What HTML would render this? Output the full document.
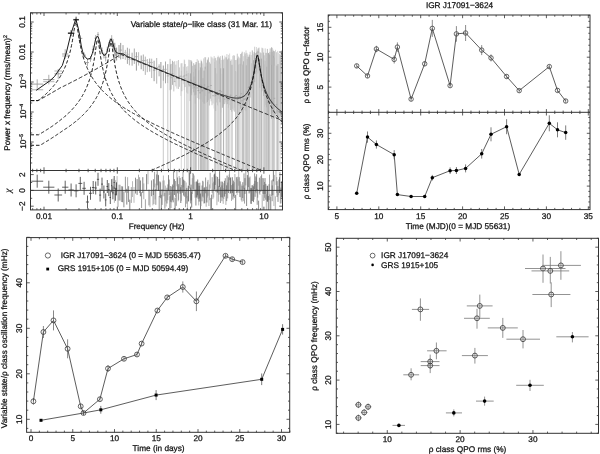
<!DOCTYPE html>
<html><head><meta charset="utf-8"><style>
html,body{margin:0;padding:0;background:#fff;}
svg{display:block;}
svg{will-change:transform;}
text{font-family:"Liberation Sans",sans-serif;dominant-baseline:central;text-rendering:geometricPrecision;stroke:#111;stroke-width:0.25px;}
</style></head><body>
<svg width="600" height="454" viewBox="0 0 600 454" font-family="Liberation Sans, sans-serif">
<rect width="600" height="454" fill="#fff"/>
<rect x="328.20" y="15.00" width="261.80" height="194.60" fill="none" stroke="#333" stroke-width="1"/>
<line x1="328.20" y1="112.30" x2="590.00" y2="112.30" stroke="#333" stroke-width="1" />
<line x1="328.52" y1="209.60" x2="328.52" y2="207.90" stroke="#333" stroke-width="0.8" />
<line x1="328.52" y1="15.00" x2="328.52" y2="16.70" stroke="#333" stroke-width="0.8" />
<line x1="336.90" y1="209.60" x2="336.90" y2="206.40" stroke="#333" stroke-width="0.8" />
<line x1="336.90" y1="15.00" x2="336.90" y2="18.20" stroke="#333" stroke-width="0.8" />
<line x1="345.28" y1="209.60" x2="345.28" y2="207.90" stroke="#333" stroke-width="0.8" />
<line x1="345.28" y1="15.00" x2="345.28" y2="16.70" stroke="#333" stroke-width="0.8" />
<line x1="353.66" y1="209.60" x2="353.66" y2="207.90" stroke="#333" stroke-width="0.8" />
<line x1="353.66" y1="15.00" x2="353.66" y2="16.70" stroke="#333" stroke-width="0.8" />
<line x1="362.04" y1="209.60" x2="362.04" y2="207.90" stroke="#333" stroke-width="0.8" />
<line x1="362.04" y1="15.00" x2="362.04" y2="16.70" stroke="#333" stroke-width="0.8" />
<line x1="370.42" y1="209.60" x2="370.42" y2="207.90" stroke="#333" stroke-width="0.8" />
<line x1="370.42" y1="15.00" x2="370.42" y2="16.70" stroke="#333" stroke-width="0.8" />
<line x1="378.80" y1="209.60" x2="378.80" y2="206.40" stroke="#333" stroke-width="0.8" />
<line x1="378.80" y1="15.00" x2="378.80" y2="18.20" stroke="#333" stroke-width="0.8" />
<line x1="387.18" y1="209.60" x2="387.18" y2="207.90" stroke="#333" stroke-width="0.8" />
<line x1="387.18" y1="15.00" x2="387.18" y2="16.70" stroke="#333" stroke-width="0.8" />
<line x1="395.56" y1="209.60" x2="395.56" y2="207.90" stroke="#333" stroke-width="0.8" />
<line x1="395.56" y1="15.00" x2="395.56" y2="16.70" stroke="#333" stroke-width="0.8" />
<line x1="403.94" y1="209.60" x2="403.94" y2="207.90" stroke="#333" stroke-width="0.8" />
<line x1="403.94" y1="15.00" x2="403.94" y2="16.70" stroke="#333" stroke-width="0.8" />
<line x1="412.32" y1="209.60" x2="412.32" y2="207.90" stroke="#333" stroke-width="0.8" />
<line x1="412.32" y1="15.00" x2="412.32" y2="16.70" stroke="#333" stroke-width="0.8" />
<line x1="420.70" y1="209.60" x2="420.70" y2="206.40" stroke="#333" stroke-width="0.8" />
<line x1="420.70" y1="15.00" x2="420.70" y2="18.20" stroke="#333" stroke-width="0.8" />
<line x1="429.08" y1="209.60" x2="429.08" y2="207.90" stroke="#333" stroke-width="0.8" />
<line x1="429.08" y1="15.00" x2="429.08" y2="16.70" stroke="#333" stroke-width="0.8" />
<line x1="437.46" y1="209.60" x2="437.46" y2="207.90" stroke="#333" stroke-width="0.8" />
<line x1="437.46" y1="15.00" x2="437.46" y2="16.70" stroke="#333" stroke-width="0.8" />
<line x1="445.84" y1="209.60" x2="445.84" y2="207.90" stroke="#333" stroke-width="0.8" />
<line x1="445.84" y1="15.00" x2="445.84" y2="16.70" stroke="#333" stroke-width="0.8" />
<line x1="454.22" y1="209.60" x2="454.22" y2="207.90" stroke="#333" stroke-width="0.8" />
<line x1="454.22" y1="15.00" x2="454.22" y2="16.70" stroke="#333" stroke-width="0.8" />
<line x1="462.60" y1="209.60" x2="462.60" y2="206.40" stroke="#333" stroke-width="0.8" />
<line x1="462.60" y1="15.00" x2="462.60" y2="18.20" stroke="#333" stroke-width="0.8" />
<line x1="470.98" y1="209.60" x2="470.98" y2="207.90" stroke="#333" stroke-width="0.8" />
<line x1="470.98" y1="15.00" x2="470.98" y2="16.70" stroke="#333" stroke-width="0.8" />
<line x1="479.36" y1="209.60" x2="479.36" y2="207.90" stroke="#333" stroke-width="0.8" />
<line x1="479.36" y1="15.00" x2="479.36" y2="16.70" stroke="#333" stroke-width="0.8" />
<line x1="487.74" y1="209.60" x2="487.74" y2="207.90" stroke="#333" stroke-width="0.8" />
<line x1="487.74" y1="15.00" x2="487.74" y2="16.70" stroke="#333" stroke-width="0.8" />
<line x1="496.12" y1="209.60" x2="496.12" y2="207.90" stroke="#333" stroke-width="0.8" />
<line x1="496.12" y1="15.00" x2="496.12" y2="16.70" stroke="#333" stroke-width="0.8" />
<line x1="504.50" y1="209.60" x2="504.50" y2="206.40" stroke="#333" stroke-width="0.8" />
<line x1="504.50" y1="15.00" x2="504.50" y2="18.20" stroke="#333" stroke-width="0.8" />
<line x1="512.88" y1="209.60" x2="512.88" y2="207.90" stroke="#333" stroke-width="0.8" />
<line x1="512.88" y1="15.00" x2="512.88" y2="16.70" stroke="#333" stroke-width="0.8" />
<line x1="521.26" y1="209.60" x2="521.26" y2="207.90" stroke="#333" stroke-width="0.8" />
<line x1="521.26" y1="15.00" x2="521.26" y2="16.70" stroke="#333" stroke-width="0.8" />
<line x1="529.64" y1="209.60" x2="529.64" y2="207.90" stroke="#333" stroke-width="0.8" />
<line x1="529.64" y1="15.00" x2="529.64" y2="16.70" stroke="#333" stroke-width="0.8" />
<line x1="538.02" y1="209.60" x2="538.02" y2="207.90" stroke="#333" stroke-width="0.8" />
<line x1="538.02" y1="15.00" x2="538.02" y2="16.70" stroke="#333" stroke-width="0.8" />
<line x1="546.40" y1="209.60" x2="546.40" y2="206.40" stroke="#333" stroke-width="0.8" />
<line x1="546.40" y1="15.00" x2="546.40" y2="18.20" stroke="#333" stroke-width="0.8" />
<line x1="554.78" y1="209.60" x2="554.78" y2="207.90" stroke="#333" stroke-width="0.8" />
<line x1="554.78" y1="15.00" x2="554.78" y2="16.70" stroke="#333" stroke-width="0.8" />
<line x1="563.16" y1="209.60" x2="563.16" y2="207.90" stroke="#333" stroke-width="0.8" />
<line x1="563.16" y1="15.00" x2="563.16" y2="16.70" stroke="#333" stroke-width="0.8" />
<line x1="571.54" y1="209.60" x2="571.54" y2="207.90" stroke="#333" stroke-width="0.8" />
<line x1="571.54" y1="15.00" x2="571.54" y2="16.70" stroke="#333" stroke-width="0.8" />
<line x1="579.92" y1="209.60" x2="579.92" y2="207.90" stroke="#333" stroke-width="0.8" />
<line x1="579.92" y1="15.00" x2="579.92" y2="16.70" stroke="#333" stroke-width="0.8" />
<line x1="588.30" y1="209.60" x2="588.30" y2="206.40" stroke="#333" stroke-width="0.8" />
<line x1="588.30" y1="15.00" x2="588.30" y2="18.20" stroke="#333" stroke-width="0.8" />
<line x1="328.52" y1="110.60" x2="328.52" y2="114.00" stroke="#333" stroke-width="0.8" />
<line x1="336.90" y1="109.10" x2="336.90" y2="115.50" stroke="#333" stroke-width="0.8" />
<line x1="345.28" y1="110.60" x2="345.28" y2="114.00" stroke="#333" stroke-width="0.8" />
<line x1="353.66" y1="110.60" x2="353.66" y2="114.00" stroke="#333" stroke-width="0.8" />
<line x1="362.04" y1="110.60" x2="362.04" y2="114.00" stroke="#333" stroke-width="0.8" />
<line x1="370.42" y1="110.60" x2="370.42" y2="114.00" stroke="#333" stroke-width="0.8" />
<line x1="378.80" y1="109.10" x2="378.80" y2="115.50" stroke="#333" stroke-width="0.8" />
<line x1="387.18" y1="110.60" x2="387.18" y2="114.00" stroke="#333" stroke-width="0.8" />
<line x1="395.56" y1="110.60" x2="395.56" y2="114.00" stroke="#333" stroke-width="0.8" />
<line x1="403.94" y1="110.60" x2="403.94" y2="114.00" stroke="#333" stroke-width="0.8" />
<line x1="412.32" y1="110.60" x2="412.32" y2="114.00" stroke="#333" stroke-width="0.8" />
<line x1="420.70" y1="109.10" x2="420.70" y2="115.50" stroke="#333" stroke-width="0.8" />
<line x1="429.08" y1="110.60" x2="429.08" y2="114.00" stroke="#333" stroke-width="0.8" />
<line x1="437.46" y1="110.60" x2="437.46" y2="114.00" stroke="#333" stroke-width="0.8" />
<line x1="445.84" y1="110.60" x2="445.84" y2="114.00" stroke="#333" stroke-width="0.8" />
<line x1="454.22" y1="110.60" x2="454.22" y2="114.00" stroke="#333" stroke-width="0.8" />
<line x1="462.60" y1="109.10" x2="462.60" y2="115.50" stroke="#333" stroke-width="0.8" />
<line x1="470.98" y1="110.60" x2="470.98" y2="114.00" stroke="#333" stroke-width="0.8" />
<line x1="479.36" y1="110.60" x2="479.36" y2="114.00" stroke="#333" stroke-width="0.8" />
<line x1="487.74" y1="110.60" x2="487.74" y2="114.00" stroke="#333" stroke-width="0.8" />
<line x1="496.12" y1="110.60" x2="496.12" y2="114.00" stroke="#333" stroke-width="0.8" />
<line x1="504.50" y1="109.10" x2="504.50" y2="115.50" stroke="#333" stroke-width="0.8" />
<line x1="512.88" y1="110.60" x2="512.88" y2="114.00" stroke="#333" stroke-width="0.8" />
<line x1="521.26" y1="110.60" x2="521.26" y2="114.00" stroke="#333" stroke-width="0.8" />
<line x1="529.64" y1="110.60" x2="529.64" y2="114.00" stroke="#333" stroke-width="0.8" />
<line x1="538.02" y1="110.60" x2="538.02" y2="114.00" stroke="#333" stroke-width="0.8" />
<line x1="546.40" y1="109.10" x2="546.40" y2="115.50" stroke="#333" stroke-width="0.8" />
<line x1="554.78" y1="110.60" x2="554.78" y2="114.00" stroke="#333" stroke-width="0.8" />
<line x1="563.16" y1="110.60" x2="563.16" y2="114.00" stroke="#333" stroke-width="0.8" />
<line x1="571.54" y1="110.60" x2="571.54" y2="114.00" stroke="#333" stroke-width="0.8" />
<line x1="579.92" y1="110.60" x2="579.92" y2="114.00" stroke="#333" stroke-width="0.8" />
<line x1="588.30" y1="109.10" x2="588.30" y2="115.50" stroke="#333" stroke-width="0.8" />
<line x1="328.20" y1="105.04" x2="329.90" y2="105.04" stroke="#333" stroke-width="0.8" />
<line x1="590.00" y1="105.04" x2="588.30" y2="105.04" stroke="#333" stroke-width="0.8" />
<line x1="328.20" y1="99.06" x2="329.90" y2="99.06" stroke="#333" stroke-width="0.8" />
<line x1="590.00" y1="99.06" x2="588.30" y2="99.06" stroke="#333" stroke-width="0.8" />
<line x1="328.20" y1="93.08" x2="329.90" y2="93.08" stroke="#333" stroke-width="0.8" />
<line x1="590.00" y1="93.08" x2="588.30" y2="93.08" stroke="#333" stroke-width="0.8" />
<line x1="328.20" y1="87.10" x2="331.40" y2="87.10" stroke="#333" stroke-width="0.8" />
<line x1="590.00" y1="87.10" x2="586.80" y2="87.10" stroke="#333" stroke-width="0.8" />
<line x1="328.20" y1="81.12" x2="329.90" y2="81.12" stroke="#333" stroke-width="0.8" />
<line x1="590.00" y1="81.12" x2="588.30" y2="81.12" stroke="#333" stroke-width="0.8" />
<line x1="328.20" y1="75.14" x2="329.90" y2="75.14" stroke="#333" stroke-width="0.8" />
<line x1="590.00" y1="75.14" x2="588.30" y2="75.14" stroke="#333" stroke-width="0.8" />
<line x1="328.20" y1="69.16" x2="329.90" y2="69.16" stroke="#333" stroke-width="0.8" />
<line x1="590.00" y1="69.16" x2="588.30" y2="69.16" stroke="#333" stroke-width="0.8" />
<line x1="328.20" y1="63.18" x2="329.90" y2="63.18" stroke="#333" stroke-width="0.8" />
<line x1="590.00" y1="63.18" x2="588.30" y2="63.18" stroke="#333" stroke-width="0.8" />
<line x1="328.20" y1="57.20" x2="331.40" y2="57.20" stroke="#333" stroke-width="0.8" />
<line x1="590.00" y1="57.20" x2="586.80" y2="57.20" stroke="#333" stroke-width="0.8" />
<line x1="328.20" y1="51.22" x2="329.90" y2="51.22" stroke="#333" stroke-width="0.8" />
<line x1="590.00" y1="51.22" x2="588.30" y2="51.22" stroke="#333" stroke-width="0.8" />
<line x1="328.20" y1="45.24" x2="329.90" y2="45.24" stroke="#333" stroke-width="0.8" />
<line x1="590.00" y1="45.24" x2="588.30" y2="45.24" stroke="#333" stroke-width="0.8" />
<line x1="328.20" y1="39.26" x2="329.90" y2="39.26" stroke="#333" stroke-width="0.8" />
<line x1="590.00" y1="39.26" x2="588.30" y2="39.26" stroke="#333" stroke-width="0.8" />
<line x1="328.20" y1="33.28" x2="329.90" y2="33.28" stroke="#333" stroke-width="0.8" />
<line x1="590.00" y1="33.28" x2="588.30" y2="33.28" stroke="#333" stroke-width="0.8" />
<line x1="328.20" y1="27.30" x2="331.40" y2="27.30" stroke="#333" stroke-width="0.8" />
<line x1="590.00" y1="27.30" x2="586.80" y2="27.30" stroke="#333" stroke-width="0.8" />
<line x1="328.20" y1="21.32" x2="329.90" y2="21.32" stroke="#333" stroke-width="0.8" />
<line x1="590.00" y1="21.32" x2="588.30" y2="21.32" stroke="#333" stroke-width="0.8" />
<line x1="328.20" y1="15.34" x2="329.90" y2="15.34" stroke="#333" stroke-width="0.8" />
<line x1="590.00" y1="15.34" x2="588.30" y2="15.34" stroke="#333" stroke-width="0.8" />
<line x1="328.20" y1="207.22" x2="329.90" y2="207.22" stroke="#333" stroke-width="0.8" />
<line x1="590.00" y1="207.22" x2="588.30" y2="207.22" stroke="#333" stroke-width="0.8" />
<line x1="328.20" y1="201.94" x2="329.90" y2="201.94" stroke="#333" stroke-width="0.8" />
<line x1="590.00" y1="201.94" x2="588.30" y2="201.94" stroke="#333" stroke-width="0.8" />
<line x1="328.20" y1="196.66" x2="329.90" y2="196.66" stroke="#333" stroke-width="0.8" />
<line x1="590.00" y1="196.66" x2="588.30" y2="196.66" stroke="#333" stroke-width="0.8" />
<line x1="328.20" y1="191.38" x2="329.90" y2="191.38" stroke="#333" stroke-width="0.8" />
<line x1="590.00" y1="191.38" x2="588.30" y2="191.38" stroke="#333" stroke-width="0.8" />
<line x1="328.20" y1="186.10" x2="331.40" y2="186.10" stroke="#333" stroke-width="0.8" />
<line x1="590.00" y1="186.10" x2="586.80" y2="186.10" stroke="#333" stroke-width="0.8" />
<line x1="328.20" y1="180.82" x2="329.90" y2="180.82" stroke="#333" stroke-width="0.8" />
<line x1="590.00" y1="180.82" x2="588.30" y2="180.82" stroke="#333" stroke-width="0.8" />
<line x1="328.20" y1="175.54" x2="329.90" y2="175.54" stroke="#333" stroke-width="0.8" />
<line x1="590.00" y1="175.54" x2="588.30" y2="175.54" stroke="#333" stroke-width="0.8" />
<line x1="328.20" y1="170.26" x2="329.90" y2="170.26" stroke="#333" stroke-width="0.8" />
<line x1="590.00" y1="170.26" x2="588.30" y2="170.26" stroke="#333" stroke-width="0.8" />
<line x1="328.20" y1="164.98" x2="329.90" y2="164.98" stroke="#333" stroke-width="0.8" />
<line x1="590.00" y1="164.98" x2="588.30" y2="164.98" stroke="#333" stroke-width="0.8" />
<line x1="328.20" y1="159.70" x2="331.40" y2="159.70" stroke="#333" stroke-width="0.8" />
<line x1="590.00" y1="159.70" x2="586.80" y2="159.70" stroke="#333" stroke-width="0.8" />
<line x1="328.20" y1="154.42" x2="329.90" y2="154.42" stroke="#333" stroke-width="0.8" />
<line x1="590.00" y1="154.42" x2="588.30" y2="154.42" stroke="#333" stroke-width="0.8" />
<line x1="328.20" y1="149.14" x2="329.90" y2="149.14" stroke="#333" stroke-width="0.8" />
<line x1="590.00" y1="149.14" x2="588.30" y2="149.14" stroke="#333" stroke-width="0.8" />
<line x1="328.20" y1="143.86" x2="329.90" y2="143.86" stroke="#333" stroke-width="0.8" />
<line x1="590.00" y1="143.86" x2="588.30" y2="143.86" stroke="#333" stroke-width="0.8" />
<line x1="328.20" y1="138.58" x2="329.90" y2="138.58" stroke="#333" stroke-width="0.8" />
<line x1="590.00" y1="138.58" x2="588.30" y2="138.58" stroke="#333" stroke-width="0.8" />
<line x1="328.20" y1="133.30" x2="331.40" y2="133.30" stroke="#333" stroke-width="0.8" />
<line x1="590.00" y1="133.30" x2="586.80" y2="133.30" stroke="#333" stroke-width="0.8" />
<line x1="328.20" y1="128.02" x2="329.90" y2="128.02" stroke="#333" stroke-width="0.8" />
<line x1="590.00" y1="128.02" x2="588.30" y2="128.02" stroke="#333" stroke-width="0.8" />
<line x1="328.20" y1="122.74" x2="329.90" y2="122.74" stroke="#333" stroke-width="0.8" />
<line x1="590.00" y1="122.74" x2="588.30" y2="122.74" stroke="#333" stroke-width="0.8" />
<line x1="328.20" y1="117.46" x2="329.90" y2="117.46" stroke="#333" stroke-width="0.8" />
<line x1="590.00" y1="117.46" x2="588.30" y2="117.46" stroke="#333" stroke-width="0.8" />
<line x1="328.20" y1="112.18" x2="329.90" y2="112.18" stroke="#333" stroke-width="0.8" />
<line x1="590.00" y1="112.18" x2="588.30" y2="112.18" stroke="#333" stroke-width="0.8" />
<text x="336.90" y="216.30" font-size="8.25" text-anchor="middle" fill="#111">5</text>
<text x="378.80" y="216.30" font-size="8.25" text-anchor="middle" fill="#111">10</text>
<text x="420.70" y="216.30" font-size="8.25" text-anchor="middle" fill="#111">15</text>
<text x="462.60" y="216.30" font-size="8.25" text-anchor="middle" fill="#111">20</text>
<text x="504.50" y="216.30" font-size="8.25" text-anchor="middle" fill="#111">25</text>
<text x="546.40" y="216.30" font-size="8.25" text-anchor="middle" fill="#111">30</text>
<text x="588.30" y="216.30" font-size="8.25" text-anchor="middle" fill="#111">35</text>
<text x="458.00" y="226.20" font-size="8.25" text-anchor="middle" fill="#111">Time (MJD)(0 = MJD 55631)</text>
<text x="459.50" y="5.10" font-size="8.25" text-anchor="middle" fill="#111">IGR J17091&#8722;3624</text>
<text x="0" y="0" font-size="8.25" text-anchor="middle" fill="#111" transform="translate(320.90,87.10) rotate(-90)">5</text>
<text x="0" y="0" font-size="8.25" text-anchor="middle" fill="#111" transform="translate(320.90,57.20) rotate(-90)">10</text>
<text x="0" y="0" font-size="8.25" text-anchor="middle" fill="#111" transform="translate(320.90,27.30) rotate(-90)">15</text>
<text x="0" y="0" font-size="8.25" text-anchor="middle" fill="#111" transform="translate(320.90,186.10) rotate(-90)">10</text>
<text x="0" y="0" font-size="8.25" text-anchor="middle" fill="#111" transform="translate(320.90,159.70) rotate(-90)">20</text>
<text x="0" y="0" font-size="8.25" text-anchor="middle" fill="#111" transform="translate(320.90,133.30) rotate(-90)">30</text>
<text x="0" y="0" font-size="8.05" text-anchor="middle" fill="#111" transform="translate(306.60,65.00) rotate(-90)">&#961; class QPO q&#8722;factor</text>
<text x="0" y="0" font-size="8.05" text-anchor="middle" fill="#111" transform="translate(306.60,161.30) rotate(-90)">&#961; class QPO rms (%)</text>
<polyline points="356.70,65.90 367.50,75.90 376.40,49.00 394.20,59.40 397.40,47.10 411.10,99.10 424.70,63.80 432.30,28.40 450.10,85.60 456.40,33.90 465.60,33.00 481.70,50.10 491.00,57.90 506.60,76.50 519.20,90.60 549.30,66.60 557.50,90.40 565.70,101.00" fill="none" stroke="#333" stroke-width="0.8"/>
<line x1="356.70" y1="63.90" x2="356.70" y2="67.90" stroke="#666" stroke-width="0.75" />
<circle cx="356.70" cy="65.90" r="2.25" fill="none" stroke="#3a3a3a" stroke-width="0.75"/>
<line x1="367.50" y1="73.90" x2="367.50" y2="77.90" stroke="#666" stroke-width="0.75" />
<circle cx="367.50" cy="75.90" r="2.25" fill="none" stroke="#3a3a3a" stroke-width="0.75"/>
<line x1="376.40" y1="45.80" x2="376.40" y2="52.20" stroke="#666" stroke-width="0.75" />
<circle cx="376.40" cy="49.00" r="2.25" fill="none" stroke="#3a3a3a" stroke-width="0.75"/>
<line x1="394.20" y1="55.30" x2="394.20" y2="63.50" stroke="#666" stroke-width="0.75" />
<circle cx="394.20" cy="59.40" r="2.25" fill="none" stroke="#3a3a3a" stroke-width="0.75"/>
<line x1="397.40" y1="42.40" x2="397.40" y2="51.80" stroke="#666" stroke-width="0.75" />
<circle cx="397.40" cy="47.10" r="2.25" fill="none" stroke="#3a3a3a" stroke-width="0.75"/>
<line x1="411.10" y1="97.10" x2="411.10" y2="101.10" stroke="#666" stroke-width="0.75" />
<circle cx="411.10" cy="99.10" r="2.25" fill="none" stroke="#3a3a3a" stroke-width="0.75"/>
<line x1="424.70" y1="61.80" x2="424.70" y2="65.80" stroke="#666" stroke-width="0.75" />
<circle cx="424.70" cy="63.80" r="2.25" fill="none" stroke="#3a3a3a" stroke-width="0.75"/>
<line x1="432.30" y1="19.90" x2="432.30" y2="36.90" stroke="#666" stroke-width="0.75" />
<circle cx="432.30" cy="28.40" r="2.25" fill="none" stroke="#3a3a3a" stroke-width="0.75"/>
<line x1="450.10" y1="83.60" x2="450.10" y2="87.60" stroke="#666" stroke-width="0.75" />
<circle cx="450.10" cy="85.60" r="2.25" fill="none" stroke="#3a3a3a" stroke-width="0.75"/>
<line x1="456.40" y1="26.10" x2="456.40" y2="41.70" stroke="#666" stroke-width="0.75" />
<circle cx="456.40" cy="33.90" r="2.25" fill="none" stroke="#3a3a3a" stroke-width="0.75"/>
<line x1="465.60" y1="25.00" x2="465.60" y2="41.00" stroke="#666" stroke-width="0.75" />
<circle cx="465.60" cy="33.00" r="2.25" fill="none" stroke="#3a3a3a" stroke-width="0.75"/>
<line x1="481.70" y1="45.10" x2="481.70" y2="55.10" stroke="#666" stroke-width="0.75" />
<circle cx="481.70" cy="50.10" r="2.25" fill="none" stroke="#3a3a3a" stroke-width="0.75"/>
<line x1="491.00" y1="54.40" x2="491.00" y2="61.40" stroke="#666" stroke-width="0.75" />
<circle cx="491.00" cy="57.90" r="2.25" fill="none" stroke="#3a3a3a" stroke-width="0.75"/>
<line x1="506.60" y1="74.50" x2="506.60" y2="78.50" stroke="#666" stroke-width="0.75" />
<circle cx="506.60" cy="76.50" r="2.25" fill="none" stroke="#3a3a3a" stroke-width="0.75"/>
<line x1="519.20" y1="88.60" x2="519.20" y2="92.60" stroke="#666" stroke-width="0.75" />
<circle cx="519.20" cy="90.60" r="2.25" fill="none" stroke="#3a3a3a" stroke-width="0.75"/>
<line x1="549.30" y1="64.60" x2="549.30" y2="68.60" stroke="#666" stroke-width="0.75" />
<circle cx="549.30" cy="66.60" r="2.25" fill="none" stroke="#3a3a3a" stroke-width="0.75"/>
<line x1="557.50" y1="88.40" x2="557.50" y2="92.40" stroke="#666" stroke-width="0.75" />
<circle cx="557.50" cy="90.40" r="2.25" fill="none" stroke="#3a3a3a" stroke-width="0.75"/>
<line x1="565.70" y1="99.00" x2="565.70" y2="103.00" stroke="#666" stroke-width="0.75" />
<circle cx="565.70" cy="101.00" r="2.25" fill="none" stroke="#3a3a3a" stroke-width="0.75"/>
<polyline points="356.70,193.30 367.50,137.10 376.40,144.50 394.20,154.70 397.40,194.60 411.10,196.50 424.70,196.50 432.30,177.70 450.10,170.70 456.40,170.50 465.60,168.40 481.70,153.80 491.00,134.30 506.60,126.70 519.20,174.40 549.30,123.30 557.50,129.80 565.70,132.60" fill="none" stroke="#333" stroke-width="0.8"/>
<circle cx="356.70" cy="193.30" r="1.75" fill="#000" stroke="none" stroke-width="0"/>
<line x1="367.50" y1="131.50" x2="367.50" y2="142.70" stroke="#666" stroke-width="0.85" />
<circle cx="367.50" cy="137.10" r="1.75" fill="#000" stroke="none" stroke-width="0"/>
<line x1="376.40" y1="140.40" x2="376.40" y2="148.60" stroke="#666" stroke-width="0.85" />
<circle cx="376.40" cy="144.50" r="1.75" fill="#000" stroke="none" stroke-width="0"/>
<line x1="394.20" y1="150.10" x2="394.20" y2="159.30" stroke="#666" stroke-width="0.85" />
<circle cx="394.20" cy="154.70" r="1.75" fill="#000" stroke="none" stroke-width="0"/>
<circle cx="397.40" cy="194.60" r="1.75" fill="#000" stroke="none" stroke-width="0"/>
<circle cx="411.10" cy="196.50" r="1.75" fill="#000" stroke="none" stroke-width="0"/>
<circle cx="424.70" cy="196.50" r="1.75" fill="#000" stroke="none" stroke-width="0"/>
<line x1="432.30" y1="174.90" x2="432.30" y2="180.50" stroke="#666" stroke-width="0.85" />
<circle cx="432.30" cy="177.70" r="1.75" fill="#000" stroke="none" stroke-width="0"/>
<line x1="450.10" y1="167.40" x2="450.10" y2="174.00" stroke="#666" stroke-width="0.85" />
<circle cx="450.10" cy="170.70" r="1.75" fill="#000" stroke="none" stroke-width="0"/>
<line x1="456.40" y1="167.00" x2="456.40" y2="174.00" stroke="#666" stroke-width="0.85" />
<circle cx="456.40" cy="170.50" r="1.75" fill="#000" stroke="none" stroke-width="0"/>
<line x1="465.60" y1="164.40" x2="465.60" y2="172.40" stroke="#666" stroke-width="0.85" />
<circle cx="465.60" cy="168.40" r="1.75" fill="#000" stroke="none" stroke-width="0"/>
<line x1="481.70" y1="149.00" x2="481.70" y2="158.60" stroke="#666" stroke-width="0.85" />
<circle cx="481.70" cy="153.80" r="1.75" fill="#000" stroke="none" stroke-width="0"/>
<line x1="491.00" y1="127.30" x2="491.00" y2="141.30" stroke="#666" stroke-width="0.85" />
<circle cx="491.00" cy="134.30" r="1.75" fill="#000" stroke="none" stroke-width="0"/>
<line x1="506.60" y1="119.20" x2="506.60" y2="134.20" stroke="#666" stroke-width="0.85" />
<circle cx="506.60" cy="126.70" r="1.75" fill="#000" stroke="none" stroke-width="0"/>
<line x1="519.20" y1="172.90" x2="519.20" y2="175.90" stroke="#666" stroke-width="0.85" />
<circle cx="519.20" cy="174.40" r="1.75" fill="#000" stroke="none" stroke-width="0"/>
<line x1="549.30" y1="115.30" x2="549.30" y2="131.30" stroke="#666" stroke-width="0.85" />
<circle cx="549.30" cy="123.30" r="1.75" fill="#000" stroke="none" stroke-width="0"/>
<line x1="557.50" y1="122.30" x2="557.50" y2="137.30" stroke="#666" stroke-width="0.85" />
<circle cx="557.50" cy="129.80" r="1.75" fill="#000" stroke="none" stroke-width="0"/>
<line x1="565.70" y1="125.40" x2="565.70" y2="139.80" stroke="#666" stroke-width="0.85" />
<circle cx="565.70" cy="132.60" r="1.75" fill="#000" stroke="none" stroke-width="0"/>
<rect x="26.60" y="237.60" width="263.10" height="194.70" fill="none" stroke="#333" stroke-width="1"/>
<line x1="31.00" y1="432.30" x2="31.00" y2="429.10" stroke="#333" stroke-width="0.8" />
<line x1="31.00" y1="237.60" x2="31.00" y2="240.80" stroke="#333" stroke-width="0.8" />
<line x1="39.35" y1="432.30" x2="39.35" y2="430.60" stroke="#333" stroke-width="0.8" />
<line x1="39.35" y1="237.60" x2="39.35" y2="239.30" stroke="#333" stroke-width="0.8" />
<line x1="47.70" y1="432.30" x2="47.70" y2="430.60" stroke="#333" stroke-width="0.8" />
<line x1="47.70" y1="237.60" x2="47.70" y2="239.30" stroke="#333" stroke-width="0.8" />
<line x1="56.05" y1="432.30" x2="56.05" y2="430.60" stroke="#333" stroke-width="0.8" />
<line x1="56.05" y1="237.60" x2="56.05" y2="239.30" stroke="#333" stroke-width="0.8" />
<line x1="64.40" y1="432.30" x2="64.40" y2="430.60" stroke="#333" stroke-width="0.8" />
<line x1="64.40" y1="237.60" x2="64.40" y2="239.30" stroke="#333" stroke-width="0.8" />
<line x1="72.75" y1="432.30" x2="72.75" y2="429.10" stroke="#333" stroke-width="0.8" />
<line x1="72.75" y1="237.60" x2="72.75" y2="240.80" stroke="#333" stroke-width="0.8" />
<line x1="81.10" y1="432.30" x2="81.10" y2="430.60" stroke="#333" stroke-width="0.8" />
<line x1="81.10" y1="237.60" x2="81.10" y2="239.30" stroke="#333" stroke-width="0.8" />
<line x1="89.45" y1="432.30" x2="89.45" y2="430.60" stroke="#333" stroke-width="0.8" />
<line x1="89.45" y1="237.60" x2="89.45" y2="239.30" stroke="#333" stroke-width="0.8" />
<line x1="97.80" y1="432.30" x2="97.80" y2="430.60" stroke="#333" stroke-width="0.8" />
<line x1="97.80" y1="237.60" x2="97.80" y2="239.30" stroke="#333" stroke-width="0.8" />
<line x1="106.15" y1="432.30" x2="106.15" y2="430.60" stroke="#333" stroke-width="0.8" />
<line x1="106.15" y1="237.60" x2="106.15" y2="239.30" stroke="#333" stroke-width="0.8" />
<line x1="114.50" y1="432.30" x2="114.50" y2="429.10" stroke="#333" stroke-width="0.8" />
<line x1="114.50" y1="237.60" x2="114.50" y2="240.80" stroke="#333" stroke-width="0.8" />
<line x1="122.85" y1="432.30" x2="122.85" y2="430.60" stroke="#333" stroke-width="0.8" />
<line x1="122.85" y1="237.60" x2="122.85" y2="239.30" stroke="#333" stroke-width="0.8" />
<line x1="131.20" y1="432.30" x2="131.20" y2="430.60" stroke="#333" stroke-width="0.8" />
<line x1="131.20" y1="237.60" x2="131.20" y2="239.30" stroke="#333" stroke-width="0.8" />
<line x1="139.55" y1="432.30" x2="139.55" y2="430.60" stroke="#333" stroke-width="0.8" />
<line x1="139.55" y1="237.60" x2="139.55" y2="239.30" stroke="#333" stroke-width="0.8" />
<line x1="147.90" y1="432.30" x2="147.90" y2="430.60" stroke="#333" stroke-width="0.8" />
<line x1="147.90" y1="237.60" x2="147.90" y2="239.30" stroke="#333" stroke-width="0.8" />
<line x1="156.25" y1="432.30" x2="156.25" y2="429.10" stroke="#333" stroke-width="0.8" />
<line x1="156.25" y1="237.60" x2="156.25" y2="240.80" stroke="#333" stroke-width="0.8" />
<line x1="164.60" y1="432.30" x2="164.60" y2="430.60" stroke="#333" stroke-width="0.8" />
<line x1="164.60" y1="237.60" x2="164.60" y2="239.30" stroke="#333" stroke-width="0.8" />
<line x1="172.95" y1="432.30" x2="172.95" y2="430.60" stroke="#333" stroke-width="0.8" />
<line x1="172.95" y1="237.60" x2="172.95" y2="239.30" stroke="#333" stroke-width="0.8" />
<line x1="181.30" y1="432.30" x2="181.30" y2="430.60" stroke="#333" stroke-width="0.8" />
<line x1="181.30" y1="237.60" x2="181.30" y2="239.30" stroke="#333" stroke-width="0.8" />
<line x1="189.65" y1="432.30" x2="189.65" y2="430.60" stroke="#333" stroke-width="0.8" />
<line x1="189.65" y1="237.60" x2="189.65" y2="239.30" stroke="#333" stroke-width="0.8" />
<line x1="198.00" y1="432.30" x2="198.00" y2="429.10" stroke="#333" stroke-width="0.8" />
<line x1="198.00" y1="237.60" x2="198.00" y2="240.80" stroke="#333" stroke-width="0.8" />
<line x1="206.35" y1="432.30" x2="206.35" y2="430.60" stroke="#333" stroke-width="0.8" />
<line x1="206.35" y1="237.60" x2="206.35" y2="239.30" stroke="#333" stroke-width="0.8" />
<line x1="214.70" y1="432.30" x2="214.70" y2="430.60" stroke="#333" stroke-width="0.8" />
<line x1="214.70" y1="237.60" x2="214.70" y2="239.30" stroke="#333" stroke-width="0.8" />
<line x1="223.05" y1="432.30" x2="223.05" y2="430.60" stroke="#333" stroke-width="0.8" />
<line x1="223.05" y1="237.60" x2="223.05" y2="239.30" stroke="#333" stroke-width="0.8" />
<line x1="231.40" y1="432.30" x2="231.40" y2="430.60" stroke="#333" stroke-width="0.8" />
<line x1="231.40" y1="237.60" x2="231.40" y2="239.30" stroke="#333" stroke-width="0.8" />
<line x1="239.75" y1="432.30" x2="239.75" y2="429.10" stroke="#333" stroke-width="0.8" />
<line x1="239.75" y1="237.60" x2="239.75" y2="240.80" stroke="#333" stroke-width="0.8" />
<line x1="248.10" y1="432.30" x2="248.10" y2="430.60" stroke="#333" stroke-width="0.8" />
<line x1="248.10" y1="237.60" x2="248.10" y2="239.30" stroke="#333" stroke-width="0.8" />
<line x1="256.45" y1="432.30" x2="256.45" y2="430.60" stroke="#333" stroke-width="0.8" />
<line x1="256.45" y1="237.60" x2="256.45" y2="239.30" stroke="#333" stroke-width="0.8" />
<line x1="264.80" y1="432.30" x2="264.80" y2="430.60" stroke="#333" stroke-width="0.8" />
<line x1="264.80" y1="237.60" x2="264.80" y2="239.30" stroke="#333" stroke-width="0.8" />
<line x1="273.15" y1="432.30" x2="273.15" y2="430.60" stroke="#333" stroke-width="0.8" />
<line x1="273.15" y1="237.60" x2="273.15" y2="239.30" stroke="#333" stroke-width="0.8" />
<line x1="281.50" y1="432.30" x2="281.50" y2="429.10" stroke="#333" stroke-width="0.8" />
<line x1="281.50" y1="237.60" x2="281.50" y2="240.80" stroke="#333" stroke-width="0.8" />
<line x1="289.85" y1="432.30" x2="289.85" y2="430.60" stroke="#333" stroke-width="0.8" />
<line x1="289.85" y1="237.60" x2="289.85" y2="239.30" stroke="#333" stroke-width="0.8" />
<line x1="26.60" y1="428.40" x2="28.30" y2="428.40" stroke="#333" stroke-width="0.8" />
<line x1="289.70" y1="428.40" x2="288.00" y2="428.40" stroke="#333" stroke-width="0.8" />
<line x1="26.60" y1="419.30" x2="29.80" y2="419.30" stroke="#333" stroke-width="0.8" />
<line x1="289.70" y1="419.30" x2="286.50" y2="419.30" stroke="#333" stroke-width="0.8" />
<line x1="26.60" y1="410.20" x2="28.30" y2="410.20" stroke="#333" stroke-width="0.8" />
<line x1="289.70" y1="410.20" x2="288.00" y2="410.20" stroke="#333" stroke-width="0.8" />
<line x1="26.60" y1="401.10" x2="28.30" y2="401.10" stroke="#333" stroke-width="0.8" />
<line x1="289.70" y1="401.10" x2="288.00" y2="401.10" stroke="#333" stroke-width="0.8" />
<line x1="26.60" y1="392.00" x2="28.30" y2="392.00" stroke="#333" stroke-width="0.8" />
<line x1="289.70" y1="392.00" x2="288.00" y2="392.00" stroke="#333" stroke-width="0.8" />
<line x1="26.60" y1="382.90" x2="28.30" y2="382.90" stroke="#333" stroke-width="0.8" />
<line x1="289.70" y1="382.90" x2="288.00" y2="382.90" stroke="#333" stroke-width="0.8" />
<line x1="26.60" y1="373.80" x2="29.80" y2="373.80" stroke="#333" stroke-width="0.8" />
<line x1="289.70" y1="373.80" x2="286.50" y2="373.80" stroke="#333" stroke-width="0.8" />
<line x1="26.60" y1="364.70" x2="28.30" y2="364.70" stroke="#333" stroke-width="0.8" />
<line x1="289.70" y1="364.70" x2="288.00" y2="364.70" stroke="#333" stroke-width="0.8" />
<line x1="26.60" y1="355.60" x2="28.30" y2="355.60" stroke="#333" stroke-width="0.8" />
<line x1="289.70" y1="355.60" x2="288.00" y2="355.60" stroke="#333" stroke-width="0.8" />
<line x1="26.60" y1="346.50" x2="28.30" y2="346.50" stroke="#333" stroke-width="0.8" />
<line x1="289.70" y1="346.50" x2="288.00" y2="346.50" stroke="#333" stroke-width="0.8" />
<line x1="26.60" y1="337.40" x2="28.30" y2="337.40" stroke="#333" stroke-width="0.8" />
<line x1="289.70" y1="337.40" x2="288.00" y2="337.40" stroke="#333" stroke-width="0.8" />
<line x1="26.60" y1="328.30" x2="29.80" y2="328.30" stroke="#333" stroke-width="0.8" />
<line x1="289.70" y1="328.30" x2="286.50" y2="328.30" stroke="#333" stroke-width="0.8" />
<line x1="26.60" y1="319.20" x2="28.30" y2="319.20" stroke="#333" stroke-width="0.8" />
<line x1="289.70" y1="319.20" x2="288.00" y2="319.20" stroke="#333" stroke-width="0.8" />
<line x1="26.60" y1="310.10" x2="28.30" y2="310.10" stroke="#333" stroke-width="0.8" />
<line x1="289.70" y1="310.10" x2="288.00" y2="310.10" stroke="#333" stroke-width="0.8" />
<line x1="26.60" y1="301.00" x2="28.30" y2="301.00" stroke="#333" stroke-width="0.8" />
<line x1="289.70" y1="301.00" x2="288.00" y2="301.00" stroke="#333" stroke-width="0.8" />
<line x1="26.60" y1="291.90" x2="28.30" y2="291.90" stroke="#333" stroke-width="0.8" />
<line x1="289.70" y1="291.90" x2="288.00" y2="291.90" stroke="#333" stroke-width="0.8" />
<line x1="26.60" y1="282.80" x2="29.80" y2="282.80" stroke="#333" stroke-width="0.8" />
<line x1="289.70" y1="282.80" x2="286.50" y2="282.80" stroke="#333" stroke-width="0.8" />
<line x1="26.60" y1="273.70" x2="28.30" y2="273.70" stroke="#333" stroke-width="0.8" />
<line x1="289.70" y1="273.70" x2="288.00" y2="273.70" stroke="#333" stroke-width="0.8" />
<line x1="26.60" y1="264.60" x2="28.30" y2="264.60" stroke="#333" stroke-width="0.8" />
<line x1="289.70" y1="264.60" x2="288.00" y2="264.60" stroke="#333" stroke-width="0.8" />
<line x1="26.60" y1="255.50" x2="28.30" y2="255.50" stroke="#333" stroke-width="0.8" />
<line x1="289.70" y1="255.50" x2="288.00" y2="255.50" stroke="#333" stroke-width="0.8" />
<line x1="26.60" y1="246.40" x2="28.30" y2="246.40" stroke="#333" stroke-width="0.8" />
<line x1="289.70" y1="246.40" x2="288.00" y2="246.40" stroke="#333" stroke-width="0.8" />
<line x1="26.60" y1="237.30" x2="29.80" y2="237.30" stroke="#333" stroke-width="0.8" />
<line x1="289.70" y1="237.30" x2="286.50" y2="237.30" stroke="#333" stroke-width="0.8" />
<text x="31.00" y="438.70" font-size="8.25" text-anchor="middle" fill="#111">0</text>
<text x="72.75" y="438.70" font-size="8.25" text-anchor="middle" fill="#111">5</text>
<text x="114.50" y="438.70" font-size="8.25" text-anchor="middle" fill="#111">10</text>
<text x="156.25" y="438.70" font-size="8.25" text-anchor="middle" fill="#111">15</text>
<text x="198.00" y="438.70" font-size="8.25" text-anchor="middle" fill="#111">20</text>
<text x="239.75" y="438.70" font-size="8.25" text-anchor="middle" fill="#111">25</text>
<text x="281.50" y="438.70" font-size="8.25" text-anchor="middle" fill="#111">30</text>
<text x="158.60" y="448.30" font-size="8.25" text-anchor="middle" fill="#111">Time (in days)</text>
<text x="0" y="0" font-size="8.25" text-anchor="middle" fill="#111" transform="translate(19.40,419.30) rotate(-90)">10</text>
<text x="0" y="0" font-size="8.25" text-anchor="middle" fill="#111" transform="translate(19.40,373.80) rotate(-90)">20</text>
<text x="0" y="0" font-size="8.25" text-anchor="middle" fill="#111" transform="translate(19.40,328.30) rotate(-90)">30</text>
<text x="0" y="0" font-size="8.25" text-anchor="middle" fill="#111" transform="translate(19.40,282.80) rotate(-90)">40</text>
<text x="0" y="0" font-size="8.25" text-anchor="middle" fill="#111" transform="translate(4.70,338.30) rotate(-90)">Variable state/&#961; class oscillation frequency (mHz)</text>
<circle cx="47.90" cy="255.50" r="2.6" fill="none" stroke="#444" stroke-width="0.8"/>
<text x="60.70" y="255.50" font-size="8.1" text-anchor="start" fill="#111">IGR J17091&#8722;3624 (0 = MJD 55635.47)</text>
<rect x="46.3" y="267.65" width="2.8" height="2.8" fill="#000"/>
<text x="57.80" y="268.40" font-size="8.13" text-anchor="start" fill="#111">GRS 1915+105 (0 = MJD 50594.49)</text>
<polyline points="33.40,401.30 43.40,332.00 53.50,320.40 67.60,348.80 80.70,406.30 83.50,413.00 99.90,399.20 108.00,368.50 124.00,358.80 137.00,354.50 141.60,343.60 157.40,310.50 167.20,297.40 182.80,287.00 196.40,301.30 225.50,255.80 232.20,259.20 242.60,262.10" fill="none" stroke="#333" stroke-width="0.8"/>
<polyline points="41.00,420.30 83.50,413.00 100.80,409.80 156.10,395.10 261.70,379.30 282.60,329.40" fill="none" stroke="#333" stroke-width="0.8"/>
<rect x="39.50" y="418.80" width="3" height="3" fill="#000"/>
<line x1="83.50" y1="411.00" x2="83.50" y2="415.00" stroke="#555" stroke-width="0.8" />
<line x1="100.80" y1="405.90" x2="100.80" y2="413.70" stroke="#555" stroke-width="0.8" />
<rect x="99.30" y="408.30" width="3" height="3" fill="#000"/>
<line x1="156.10" y1="390.10" x2="156.10" y2="400.10" stroke="#555" stroke-width="0.8" />
<rect x="154.60" y="393.60" width="3" height="3" fill="#000"/>
<line x1="261.70" y1="373.50" x2="261.70" y2="385.10" stroke="#555" stroke-width="0.8" />
<rect x="260.20" y="377.80" width="3" height="3" fill="#000"/>
<line x1="282.60" y1="324.20" x2="282.60" y2="334.60" stroke="#555" stroke-width="0.8" />
<rect x="281.10" y="327.90" width="3" height="3" fill="#000"/>
<line x1="33.40" y1="398.00" x2="33.40" y2="404.60" stroke="#555" stroke-width="0.7" />
<circle cx="33.40" cy="401.30" r="2.45" fill="none" stroke="#333" stroke-width="0.75"/>
<line x1="43.40" y1="326.00" x2="43.40" y2="338.00" stroke="#555" stroke-width="0.7" />
<circle cx="43.40" cy="332.00" r="2.45" fill="none" stroke="#333" stroke-width="0.75"/>
<line x1="53.50" y1="310.40" x2="53.50" y2="330.40" stroke="#555" stroke-width="0.7" />
<circle cx="53.50" cy="320.40" r="2.45" fill="none" stroke="#333" stroke-width="0.75"/>
<line x1="67.60" y1="339.30" x2="67.60" y2="358.30" stroke="#555" stroke-width="0.7" />
<circle cx="67.60" cy="348.80" r="2.45" fill="none" stroke="#333" stroke-width="0.75"/>
<line x1="80.70" y1="404.30" x2="80.70" y2="408.30" stroke="#555" stroke-width="0.7" />
<circle cx="80.70" cy="406.30" r="2.45" fill="none" stroke="#333" stroke-width="0.75"/>
<line x1="83.50" y1="411.00" x2="83.50" y2="415.00" stroke="#555" stroke-width="0.7" />
<circle cx="83.50" cy="413.00" r="2.45" fill="none" stroke="#333" stroke-width="0.75"/>
<line x1="99.90" y1="397.20" x2="99.90" y2="401.20" stroke="#555" stroke-width="0.7" />
<circle cx="99.90" cy="399.20" r="2.45" fill="none" stroke="#333" stroke-width="0.75"/>
<line x1="108.00" y1="365.00" x2="108.00" y2="372.00" stroke="#555" stroke-width="0.7" />
<circle cx="108.00" cy="368.50" r="2.45" fill="none" stroke="#333" stroke-width="0.75"/>
<line x1="124.00" y1="356.80" x2="124.00" y2="360.80" stroke="#555" stroke-width="0.7" />
<circle cx="124.00" cy="358.80" r="2.45" fill="none" stroke="#333" stroke-width="0.75"/>
<line x1="137.00" y1="352.50" x2="137.00" y2="356.50" stroke="#555" stroke-width="0.7" />
<circle cx="137.00" cy="354.50" r="2.45" fill="none" stroke="#333" stroke-width="0.75"/>
<line x1="141.60" y1="341.60" x2="141.60" y2="345.60" stroke="#555" stroke-width="0.7" />
<circle cx="141.60" cy="343.60" r="2.45" fill="none" stroke="#333" stroke-width="0.75"/>
<line x1="157.40" y1="308.50" x2="157.40" y2="312.50" stroke="#555" stroke-width="0.7" />
<circle cx="157.40" cy="310.50" r="2.45" fill="none" stroke="#333" stroke-width="0.75"/>
<line x1="167.20" y1="295.40" x2="167.20" y2="299.40" stroke="#555" stroke-width="0.7" />
<circle cx="167.20" cy="297.40" r="2.45" fill="none" stroke="#333" stroke-width="0.75"/>
<line x1="182.80" y1="281.40" x2="182.80" y2="292.60" stroke="#555" stroke-width="0.7" />
<circle cx="182.80" cy="287.00" r="2.45" fill="none" stroke="#333" stroke-width="0.75"/>
<line x1="196.40" y1="291.50" x2="196.40" y2="311.10" stroke="#555" stroke-width="0.7" />
<circle cx="196.40" cy="301.30" r="2.45" fill="none" stroke="#333" stroke-width="0.75"/>
<line x1="225.50" y1="253.80" x2="225.50" y2="257.80" stroke="#555" stroke-width="0.7" />
<circle cx="225.50" cy="255.80" r="2.45" fill="none" stroke="#333" stroke-width="0.75"/>
<line x1="232.20" y1="257.20" x2="232.20" y2="261.20" stroke="#555" stroke-width="0.7" />
<circle cx="232.20" cy="259.20" r="2.45" fill="none" stroke="#333" stroke-width="0.75"/>
<line x1="242.60" y1="260.10" x2="242.60" y2="264.10" stroke="#555" stroke-width="0.7" />
<circle cx="242.60" cy="262.10" r="2.45" fill="none" stroke="#333" stroke-width="0.75"/>
<rect x="336.30" y="238.30" width="262.20" height="195.00" fill="none" stroke="#333" stroke-width="1"/>
<line x1="343.58" y1="433.30" x2="343.58" y2="431.60" stroke="#333" stroke-width="0.8" />
<line x1="343.58" y1="238.30" x2="343.58" y2="240.00" stroke="#333" stroke-width="0.8" />
<line x1="358.15" y1="433.30" x2="358.15" y2="431.60" stroke="#333" stroke-width="0.8" />
<line x1="358.15" y1="238.30" x2="358.15" y2="240.00" stroke="#333" stroke-width="0.8" />
<line x1="372.72" y1="433.30" x2="372.72" y2="431.60" stroke="#333" stroke-width="0.8" />
<line x1="372.72" y1="238.30" x2="372.72" y2="240.00" stroke="#333" stroke-width="0.8" />
<line x1="387.28" y1="433.30" x2="387.28" y2="430.10" stroke="#333" stroke-width="0.8" />
<line x1="387.28" y1="238.30" x2="387.28" y2="241.50" stroke="#333" stroke-width="0.8" />
<line x1="401.85" y1="433.30" x2="401.85" y2="431.60" stroke="#333" stroke-width="0.8" />
<line x1="401.85" y1="238.30" x2="401.85" y2="240.00" stroke="#333" stroke-width="0.8" />
<line x1="416.41" y1="433.30" x2="416.41" y2="431.60" stroke="#333" stroke-width="0.8" />
<line x1="416.41" y1="238.30" x2="416.41" y2="240.00" stroke="#333" stroke-width="0.8" />
<line x1="430.98" y1="433.30" x2="430.98" y2="431.60" stroke="#333" stroke-width="0.8" />
<line x1="430.98" y1="238.30" x2="430.98" y2="240.00" stroke="#333" stroke-width="0.8" />
<line x1="445.55" y1="433.30" x2="445.55" y2="431.60" stroke="#333" stroke-width="0.8" />
<line x1="445.55" y1="238.30" x2="445.55" y2="240.00" stroke="#333" stroke-width="0.8" />
<line x1="460.11" y1="433.30" x2="460.11" y2="430.10" stroke="#333" stroke-width="0.8" />
<line x1="460.11" y1="238.30" x2="460.11" y2="241.50" stroke="#333" stroke-width="0.8" />
<line x1="474.68" y1="433.30" x2="474.68" y2="431.60" stroke="#333" stroke-width="0.8" />
<line x1="474.68" y1="238.30" x2="474.68" y2="240.00" stroke="#333" stroke-width="0.8" />
<line x1="489.24" y1="433.30" x2="489.24" y2="431.60" stroke="#333" stroke-width="0.8" />
<line x1="489.24" y1="238.30" x2="489.24" y2="240.00" stroke="#333" stroke-width="0.8" />
<line x1="503.81" y1="433.30" x2="503.81" y2="431.60" stroke="#333" stroke-width="0.8" />
<line x1="503.81" y1="238.30" x2="503.81" y2="240.00" stroke="#333" stroke-width="0.8" />
<line x1="518.38" y1="433.30" x2="518.38" y2="431.60" stroke="#333" stroke-width="0.8" />
<line x1="518.38" y1="238.30" x2="518.38" y2="240.00" stroke="#333" stroke-width="0.8" />
<line x1="532.94" y1="433.30" x2="532.94" y2="430.10" stroke="#333" stroke-width="0.8" />
<line x1="532.94" y1="238.30" x2="532.94" y2="241.50" stroke="#333" stroke-width="0.8" />
<line x1="547.51" y1="433.30" x2="547.51" y2="431.60" stroke="#333" stroke-width="0.8" />
<line x1="547.51" y1="238.30" x2="547.51" y2="240.00" stroke="#333" stroke-width="0.8" />
<line x1="562.07" y1="433.30" x2="562.07" y2="431.60" stroke="#333" stroke-width="0.8" />
<line x1="562.07" y1="238.30" x2="562.07" y2="240.00" stroke="#333" stroke-width="0.8" />
<line x1="576.64" y1="433.30" x2="576.64" y2="431.60" stroke="#333" stroke-width="0.8" />
<line x1="576.64" y1="238.30" x2="576.64" y2="240.00" stroke="#333" stroke-width="0.8" />
<line x1="591.21" y1="433.30" x2="591.21" y2="431.60" stroke="#333" stroke-width="0.8" />
<line x1="591.21" y1="238.30" x2="591.21" y2="240.00" stroke="#333" stroke-width="0.8" />
<line x1="336.30" y1="433.26" x2="338.00" y2="433.26" stroke="#333" stroke-width="0.8" />
<line x1="598.50" y1="433.26" x2="596.80" y2="433.26" stroke="#333" stroke-width="0.8" />
<line x1="336.30" y1="424.40" x2="339.50" y2="424.40" stroke="#333" stroke-width="0.8" />
<line x1="598.50" y1="424.40" x2="595.30" y2="424.40" stroke="#333" stroke-width="0.8" />
<line x1="336.30" y1="415.54" x2="338.00" y2="415.54" stroke="#333" stroke-width="0.8" />
<line x1="598.50" y1="415.54" x2="596.80" y2="415.54" stroke="#333" stroke-width="0.8" />
<line x1="336.30" y1="406.68" x2="338.00" y2="406.68" stroke="#333" stroke-width="0.8" />
<line x1="598.50" y1="406.68" x2="596.80" y2="406.68" stroke="#333" stroke-width="0.8" />
<line x1="336.30" y1="397.82" x2="338.00" y2="397.82" stroke="#333" stroke-width="0.8" />
<line x1="598.50" y1="397.82" x2="596.80" y2="397.82" stroke="#333" stroke-width="0.8" />
<line x1="336.30" y1="388.96" x2="338.00" y2="388.96" stroke="#333" stroke-width="0.8" />
<line x1="598.50" y1="388.96" x2="596.80" y2="388.96" stroke="#333" stroke-width="0.8" />
<line x1="336.30" y1="380.10" x2="339.50" y2="380.10" stroke="#333" stroke-width="0.8" />
<line x1="598.50" y1="380.10" x2="595.30" y2="380.10" stroke="#333" stroke-width="0.8" />
<line x1="336.30" y1="371.24" x2="338.00" y2="371.24" stroke="#333" stroke-width="0.8" />
<line x1="598.50" y1="371.24" x2="596.80" y2="371.24" stroke="#333" stroke-width="0.8" />
<line x1="336.30" y1="362.38" x2="338.00" y2="362.38" stroke="#333" stroke-width="0.8" />
<line x1="598.50" y1="362.38" x2="596.80" y2="362.38" stroke="#333" stroke-width="0.8" />
<line x1="336.30" y1="353.52" x2="338.00" y2="353.52" stroke="#333" stroke-width="0.8" />
<line x1="598.50" y1="353.52" x2="596.80" y2="353.52" stroke="#333" stroke-width="0.8" />
<line x1="336.30" y1="344.66" x2="338.00" y2="344.66" stroke="#333" stroke-width="0.8" />
<line x1="598.50" y1="344.66" x2="596.80" y2="344.66" stroke="#333" stroke-width="0.8" />
<line x1="336.30" y1="335.80" x2="339.50" y2="335.80" stroke="#333" stroke-width="0.8" />
<line x1="598.50" y1="335.80" x2="595.30" y2="335.80" stroke="#333" stroke-width="0.8" />
<line x1="336.30" y1="326.94" x2="338.00" y2="326.94" stroke="#333" stroke-width="0.8" />
<line x1="598.50" y1="326.94" x2="596.80" y2="326.94" stroke="#333" stroke-width="0.8" />
<line x1="336.30" y1="318.08" x2="338.00" y2="318.08" stroke="#333" stroke-width="0.8" />
<line x1="598.50" y1="318.08" x2="596.80" y2="318.08" stroke="#333" stroke-width="0.8" />
<line x1="336.30" y1="309.22" x2="338.00" y2="309.22" stroke="#333" stroke-width="0.8" />
<line x1="598.50" y1="309.22" x2="596.80" y2="309.22" stroke="#333" stroke-width="0.8" />
<line x1="336.30" y1="300.36" x2="338.00" y2="300.36" stroke="#333" stroke-width="0.8" />
<line x1="598.50" y1="300.36" x2="596.80" y2="300.36" stroke="#333" stroke-width="0.8" />
<line x1="336.30" y1="291.50" x2="339.50" y2="291.50" stroke="#333" stroke-width="0.8" />
<line x1="598.50" y1="291.50" x2="595.30" y2="291.50" stroke="#333" stroke-width="0.8" />
<line x1="336.30" y1="282.64" x2="338.00" y2="282.64" stroke="#333" stroke-width="0.8" />
<line x1="598.50" y1="282.64" x2="596.80" y2="282.64" stroke="#333" stroke-width="0.8" />
<line x1="336.30" y1="273.78" x2="338.00" y2="273.78" stroke="#333" stroke-width="0.8" />
<line x1="598.50" y1="273.78" x2="596.80" y2="273.78" stroke="#333" stroke-width="0.8" />
<line x1="336.30" y1="264.92" x2="338.00" y2="264.92" stroke="#333" stroke-width="0.8" />
<line x1="598.50" y1="264.92" x2="596.80" y2="264.92" stroke="#333" stroke-width="0.8" />
<line x1="336.30" y1="256.06" x2="338.00" y2="256.06" stroke="#333" stroke-width="0.8" />
<line x1="598.50" y1="256.06" x2="596.80" y2="256.06" stroke="#333" stroke-width="0.8" />
<line x1="336.30" y1="247.20" x2="339.50" y2="247.20" stroke="#333" stroke-width="0.8" />
<line x1="598.50" y1="247.20" x2="595.30" y2="247.20" stroke="#333" stroke-width="0.8" />
<line x1="336.30" y1="238.34" x2="338.00" y2="238.34" stroke="#333" stroke-width="0.8" />
<line x1="598.50" y1="238.34" x2="596.80" y2="238.34" stroke="#333" stroke-width="0.8" />
<text x="387.28" y="439.80" font-size="8.25" text-anchor="middle" fill="#111">10</text>
<text x="460.11" y="439.80" font-size="8.25" text-anchor="middle" fill="#111">20</text>
<text x="532.94" y="439.80" font-size="8.25" text-anchor="middle" fill="#111">30</text>
<text x="467.50" y="449.50" font-size="8.25" text-anchor="middle" fill="#111">&#961; class QPO rms (%)</text>
<text x="0" y="0" font-size="8.25" text-anchor="middle" fill="#111" transform="translate(328.80,424.40) rotate(-90)">10</text>
<text x="0" y="0" font-size="8.25" text-anchor="middle" fill="#111" transform="translate(328.80,380.10) rotate(-90)">20</text>
<text x="0" y="0" font-size="8.25" text-anchor="middle" fill="#111" transform="translate(328.80,335.80) rotate(-90)">30</text>
<text x="0" y="0" font-size="8.25" text-anchor="middle" fill="#111" transform="translate(328.80,291.50) rotate(-90)">40</text>
<text x="0" y="0" font-size="8.25" text-anchor="middle" fill="#111" transform="translate(328.80,247.20) rotate(-90)">50</text>
<text x="0" y="0" font-size="8.25" text-anchor="middle" fill="#111" transform="translate(314.00,336.00) rotate(-90)">&#961; class QPO frequency (mHz)</text>
<circle cx="372.60" cy="255.60" r="2.4" fill="none" stroke="#444" stroke-width="0.8"/>
<text x="381.10" y="255.30" font-size="8.25" text-anchor="start" fill="#111">IGR J17091&#8722;3624</text>
<circle cx="372.60" cy="264.90" r="1.3" fill="#000" stroke="none" stroke-width="0"/>
<text x="381.10" y="265.10" font-size="8.25" text-anchor="start" fill="#111">GRS 1915+105</text>
<line x1="392.50" y1="425.40" x2="405.00" y2="425.40" stroke="#777" stroke-width="0.8" />
<line x1="398.90" y1="424.20" x2="398.90" y2="426.60" stroke="#777" stroke-width="0.8" />
<circle cx="398.90" cy="425.40" r="1.8" fill="#000" stroke="none" stroke-width="0"/>
<line x1="445.90" y1="412.90" x2="462.00" y2="412.90" stroke="#777" stroke-width="0.8" />
<line x1="453.80" y1="409.40" x2="453.80" y2="416.40" stroke="#777" stroke-width="0.8" />
<circle cx="453.80" cy="412.90" r="1.8" fill="#000" stroke="none" stroke-width="0"/>
<line x1="476.00" y1="401.10" x2="493.70" y2="401.10" stroke="#777" stroke-width="0.8" />
<line x1="484.60" y1="396.60" x2="484.60" y2="405.70" stroke="#777" stroke-width="0.8" />
<circle cx="484.60" cy="401.10" r="1.8" fill="#000" stroke="none" stroke-width="0"/>
<line x1="516.20" y1="385.30" x2="543.80" y2="385.30" stroke="#777" stroke-width="0.8" />
<line x1="530.00" y1="379.80" x2="530.00" y2="391.00" stroke="#777" stroke-width="0.8" />
<circle cx="530.00" cy="385.30" r="1.8" fill="#000" stroke="none" stroke-width="0"/>
<line x1="556.30" y1="336.80" x2="588.60" y2="336.80" stroke="#777" stroke-width="0.8" />
<line x1="572.40" y1="332.00" x2="572.40" y2="342.40" stroke="#777" stroke-width="0.8" />
<circle cx="572.40" cy="336.80" r="1.8" fill="#000" stroke="none" stroke-width="0"/>
<line x1="355.10" y1="404.80" x2="361.70" y2="404.80" stroke="#777" stroke-width="0.8" />
<line x1="358.40" y1="401.50" x2="358.40" y2="408.10" stroke="#777" stroke-width="0.8" />
<circle cx="358.40" cy="404.80" r="2.45" fill="none" stroke="#333" stroke-width="0.8"/>
<line x1="355.10" y1="417.90" x2="361.70" y2="417.90" stroke="#777" stroke-width="0.8" />
<line x1="358.40" y1="414.60" x2="358.40" y2="421.20" stroke="#777" stroke-width="0.8" />
<circle cx="358.40" cy="417.90" r="2.45" fill="none" stroke="#333" stroke-width="0.8"/>
<line x1="360.90" y1="412.40" x2="367.50" y2="412.40" stroke="#777" stroke-width="0.8" />
<line x1="364.20" y1="409.10" x2="364.20" y2="415.70" stroke="#777" stroke-width="0.8" />
<circle cx="364.20" cy="412.40" r="2.45" fill="none" stroke="#333" stroke-width="0.8"/>
<line x1="364.80" y1="406.80" x2="371.40" y2="406.80" stroke="#777" stroke-width="0.8" />
<line x1="368.10" y1="403.50" x2="368.10" y2="410.10" stroke="#777" stroke-width="0.8" />
<circle cx="368.10" cy="406.80" r="2.45" fill="none" stroke="#333" stroke-width="0.8"/>
<line x1="403.30" y1="374.80" x2="419.10" y2="374.80" stroke="#777" stroke-width="0.8" />
<line x1="411.10" y1="368.30" x2="411.10" y2="380.30" stroke="#777" stroke-width="0.8" />
<circle cx="411.10" cy="374.80" r="2.45" fill="none" stroke="#333" stroke-width="0.8"/>
<line x1="411.90" y1="309.40" x2="429.10" y2="309.40" stroke="#777" stroke-width="0.8" />
<line x1="420.40" y1="298.40" x2="420.40" y2="320.80" stroke="#777" stroke-width="0.8" />
<circle cx="420.40" cy="309.40" r="2.45" fill="none" stroke="#333" stroke-width="0.8"/>
<line x1="420.70" y1="361.60" x2="439.50" y2="361.60" stroke="#777" stroke-width="0.8" />
<line x1="430.20" y1="354.60" x2="430.20" y2="368.60" stroke="#777" stroke-width="0.8" />
<circle cx="430.20" cy="361.60" r="2.45" fill="none" stroke="#333" stroke-width="0.8"/>
<line x1="420.70" y1="365.60" x2="439.50" y2="365.60" stroke="#777" stroke-width="0.8" />
<line x1="430.20" y1="358.60" x2="430.20" y2="373.10" stroke="#777" stroke-width="0.8" />
<circle cx="430.20" cy="365.60" r="2.45" fill="none" stroke="#333" stroke-width="0.8"/>
<line x1="427.10" y1="350.80" x2="446.60" y2="350.80" stroke="#777" stroke-width="0.8" />
<line x1="436.40" y1="342.50" x2="436.40" y2="359.30" stroke="#777" stroke-width="0.8" />
<circle cx="436.40" cy="350.80" r="2.45" fill="none" stroke="#333" stroke-width="0.8"/>
<line x1="461.90" y1="355.60" x2="487.90" y2="355.60" stroke="#777" stroke-width="0.8" />
<line x1="474.90" y1="347.90" x2="474.90" y2="363.60" stroke="#777" stroke-width="0.8" />
<circle cx="474.90" cy="355.60" r="2.45" fill="none" stroke="#333" stroke-width="0.8"/>
<line x1="464.00" y1="318.30" x2="489.80" y2="318.30" stroke="#777" stroke-width="0.8" />
<line x1="477.00" y1="308.80" x2="477.00" y2="328.70" stroke="#777" stroke-width="0.8" />
<circle cx="477.00" cy="318.30" r="2.45" fill="none" stroke="#333" stroke-width="0.8"/>
<line x1="466.80" y1="305.90" x2="492.60" y2="305.90" stroke="#777" stroke-width="0.8" />
<line x1="479.80" y1="294.60" x2="479.80" y2="317.70" stroke="#777" stroke-width="0.8" />
<circle cx="479.80" cy="305.90" r="2.45" fill="none" stroke="#333" stroke-width="0.8"/>
<line x1="487.80" y1="327.90" x2="517.80" y2="327.90" stroke="#777" stroke-width="0.8" />
<line x1="502.80" y1="317.90" x2="502.80" y2="337.90" stroke="#777" stroke-width="0.8" />
<circle cx="502.80" cy="327.90" r="2.45" fill="none" stroke="#333" stroke-width="0.8"/>
<line x1="506.40" y1="339.20" x2="540.00" y2="339.20" stroke="#777" stroke-width="0.8" />
<line x1="523.00" y1="330.00" x2="523.00" y2="348.40" stroke="#777" stroke-width="0.8" />
<circle cx="523.00" cy="339.20" r="2.45" fill="none" stroke="#333" stroke-width="0.8"/>
<line x1="525.00" y1="268.50" x2="565.50" y2="268.50" stroke="#777" stroke-width="0.8" />
<line x1="543.00" y1="254.50" x2="543.00" y2="282.80" stroke="#777" stroke-width="0.8" />
<circle cx="543.00" cy="268.50" r="2.45" fill="none" stroke="#333" stroke-width="0.8"/>
<line x1="531.50" y1="270.90" x2="569.20" y2="270.90" stroke="#777" stroke-width="0.8" />
<line x1="550.30" y1="256.90" x2="550.30" y2="283.50" stroke="#777" stroke-width="0.8" />
<circle cx="550.30" cy="270.90" r="2.45" fill="none" stroke="#333" stroke-width="0.8"/>
<line x1="542.40" y1="265.40" x2="580.90" y2="265.40" stroke="#777" stroke-width="0.8" />
<line x1="560.90" y1="251.20" x2="560.90" y2="279.80" stroke="#777" stroke-width="0.8" />
<circle cx="560.90" cy="265.40" r="2.45" fill="none" stroke="#333" stroke-width="0.8"/>
<line x1="532.40" y1="294.50" x2="570.40" y2="294.50" stroke="#777" stroke-width="0.8" />
<line x1="551.20" y1="282.30" x2="551.20" y2="307.10" stroke="#777" stroke-width="0.8" />
<circle cx="551.20" cy="294.50" r="2.45" fill="none" stroke="#333" stroke-width="0.8"/>
<g><line x1="113.0" y1="39.1" x2="113.0" y2="51.2" stroke="#999" stroke-width="1.0"/><line x1="111.8" y1="46.6" x2="114.2" y2="46.6" stroke="#999" stroke-width="0.8"/><line x1="114.8" y1="42.8" x2="114.8" y2="62.5" stroke="#999" stroke-width="1.0"/><line x1="113.6" y1="48.8" x2="116.0" y2="48.8" stroke="#999" stroke-width="0.8"/><line x1="116.6" y1="47.6" x2="116.6" y2="60.5" stroke="#999" stroke-width="1.0"/><line x1="115.4" y1="54.9" x2="117.8" y2="54.9" stroke="#999" stroke-width="0.8"/><line x1="119.0" y1="45.0" x2="119.0" y2="58.0" stroke="#999" stroke-width="1.0"/><line x1="117.8" y1="53.6" x2="120.2" y2="53.6" stroke="#999" stroke-width="0.8"/><line x1="120.7" y1="42.9" x2="120.7" y2="59.4" stroke="#999" stroke-width="1.0"/><line x1="119.5" y1="50.1" x2="121.9" y2="50.1" stroke="#999" stroke-width="0.8"/><line x1="123.0" y1="45.1" x2="123.0" y2="59.0" stroke="#a4a4a4" stroke-width="1.0"/><line x1="121.8" y1="54.1" x2="124.2" y2="54.1" stroke="#a4a4a4" stroke-width="0.8"/><line x1="125.3" y1="49.9" x2="125.3" y2="59.8" stroke="#bbb" stroke-width="1.0"/><line x1="124.1" y1="52.7" x2="126.5" y2="52.7" stroke="#bbb" stroke-width="0.8"/><line x1="127.4" y1="47.7" x2="127.4" y2="63.9" stroke="#a4a4a4" stroke-width="1.0"/><line x1="126.2" y1="54.3" x2="128.6" y2="54.3" stroke="#a4a4a4" stroke-width="0.8"/><line x1="129.4" y1="48.7" x2="129.4" y2="65.3" stroke="#b4b4b4" stroke-width="1.0"/><line x1="128.2" y1="59.3" x2="130.6" y2="59.3" stroke="#b4b4b4" stroke-width="0.8"/><line x1="132.1" y1="52.7" x2="132.1" y2="65.7" stroke="#a4a4a4" stroke-width="1.0"/><line x1="130.9" y1="59.7" x2="133.3" y2="59.7" stroke="#a4a4a4" stroke-width="0.8"/><line x1="134.3" y1="48.5" x2="134.3" y2="63.9" stroke="#aaa" stroke-width="1.0"/><line x1="133.1" y1="59.2" x2="135.5" y2="59.2" stroke="#aaa" stroke-width="0.8"/><line x1="136.4" y1="52.2" x2="136.4" y2="70.6" stroke="#999" stroke-width="1.0"/><line x1="135.2" y1="56.7" x2="137.6" y2="56.7" stroke="#999" stroke-width="0.8"/><line x1="138.6" y1="52.2" x2="138.6" y2="65.6" stroke="#bbb" stroke-width="1.0"/><line x1="137.4" y1="62.1" x2="139.8" y2="62.1" stroke="#bbb" stroke-width="0.8"/><line x1="141.2" y1="55.5" x2="141.2" y2="69.3" stroke="#999" stroke-width="1.0"/><line x1="140.0" y1="62.9" x2="142.4" y2="62.9" stroke="#999" stroke-width="0.8"/><line x1="143.3" y1="54.5" x2="143.3" y2="71.1" stroke="#aaa" stroke-width="1.0"/><line x1="142.1" y1="60.6" x2="144.5" y2="60.6" stroke="#aaa" stroke-width="0.8"/><line x1="145.3" y1="56.6" x2="145.3" y2="74.9" stroke="#b4b4b4" stroke-width="1.0"/><line x1="144.1" y1="60.5" x2="146.5" y2="60.5" stroke="#b4b4b4" stroke-width="0.8"/><line x1="147.3" y1="59.0" x2="147.3" y2="72.2" stroke="#b4b4b4" stroke-width="1.0"/><line x1="146.1" y1="64.6" x2="148.5" y2="64.6" stroke="#b4b4b4" stroke-width="0.8"/><line x1="149.7" y1="58.5" x2="149.7" y2="71.6" stroke="#a4a4a4" stroke-width="1.0"/><line x1="148.5" y1="62.4" x2="150.9" y2="62.4" stroke="#a4a4a4" stroke-width="0.8"/><line x1="151.7" y1="58.7" x2="151.7" y2="78.0" stroke="#b4b4b4" stroke-width="1.0"/><line x1="150.5" y1="62.6" x2="152.9" y2="62.6" stroke="#b4b4b4" stroke-width="0.8"/><line x1="154.1" y1="60.7" x2="154.1" y2="81.2" stroke="#999" stroke-width="1.0"/><line x1="152.9" y1="70.2" x2="155.3" y2="70.2" stroke="#999" stroke-width="0.8"/><line x1="156.7" y1="58.0" x2="156.7" y2="83.7" stroke="#b4b4b4" stroke-width="1.0"/><line x1="155.5" y1="67.5" x2="157.9" y2="67.5" stroke="#b4b4b4" stroke-width="0.8"/><line x1="159.1" y1="64.3" x2="159.1" y2="76.3" stroke="#aaa" stroke-width="1.0"/><line x1="157.9" y1="66.8" x2="160.3" y2="66.8" stroke="#aaa" stroke-width="0.8"/><line x1="160.9" y1="62.0" x2="160.9" y2="88.2" stroke="#999" stroke-width="1.0"/><line x1="159.7" y1="70.7" x2="162.1" y2="70.7" stroke="#999" stroke-width="0.8"/><line x1="163.3" y1="65.5" x2="163.3" y2="80.9" stroke="#999" stroke-width="1.0"/><line x1="162.1" y1="70.0" x2="164.5" y2="70.0" stroke="#999" stroke-width="0.8"/><line x1="163.3" y1="80.9" x2="163.3" y2="170.5" stroke="#c4c4c4" stroke-width="0.9"/><line x1="165.5" y1="61.5" x2="165.5" y2="83.3" stroke="#aaa" stroke-width="1.0"/><line x1="164.3" y1="69.3" x2="166.7" y2="69.3" stroke="#aaa" stroke-width="0.8"/><line x1="167.8" y1="64.1" x2="167.8" y2="83.4" stroke="#aaa" stroke-width="1.0"/><line x1="166.6" y1="75.9" x2="169.0" y2="75.9" stroke="#aaa" stroke-width="0.8"/><line x1="167.8" y1="83.4" x2="167.8" y2="170.5" stroke="#c4c4c4" stroke-width="0.9"/><line x1="170.1" y1="58.9" x2="170.1" y2="90.2" stroke="#999" stroke-width="0.8" stroke-opacity="0.81"/><line x1="170.4" y1="64.4" x2="170.4" y2="170.5" stroke="#aaa" stroke-width="1" stroke-opacity="0.81"/><line x1="169.2" y1="74.7" x2="171.0" y2="74.7" stroke="#999" stroke-width="0.6"/><line x1="171.2" y1="63.9" x2="171.2" y2="89.5" stroke="#a4a4a4" stroke-width="0.8" stroke-opacity="0.84"/><line x1="170.3" y1="77.7" x2="172.1" y2="77.7" stroke="#999" stroke-width="0.6"/><line x1="172.5" y1="60.8" x2="172.5" y2="84.9" stroke="#999" stroke-width="0.8" stroke-opacity="0.90"/><line x1="171.6" y1="73.6" x2="173.4" y2="73.6" stroke="#999" stroke-width="0.6"/><line x1="173.8" y1="61.9" x2="173.8" y2="91.4" stroke="#aaa" stroke-width="0.8" stroke-opacity="0.89"/><line x1="172.9" y1="76.0" x2="174.7" y2="76.0" stroke="#999" stroke-width="0.6"/><line x1="174.7" y1="61.1" x2="174.7" y2="81.7" stroke="#bbb" stroke-width="0.8" stroke-opacity="0.90"/><line x1="173.8" y1="81.6" x2="175.6" y2="81.6" stroke="#999" stroke-width="0.6"/><line x1="175.8" y1="64.6" x2="175.8" y2="86.4" stroke="#b4b4b4" stroke-width="0.8" stroke-opacity="0.83"/><line x1="174.9" y1="76.6" x2="176.7" y2="76.6" stroke="#999" stroke-width="0.6"/><line x1="176.9" y1="61.0" x2="176.9" y2="88.6" stroke="#b4b4b4" stroke-width="0.8" stroke-opacity="0.74"/><line x1="176.0" y1="78.3" x2="177.8" y2="78.3" stroke="#999" stroke-width="0.6"/><line x1="178.4" y1="60.0" x2="178.4" y2="89.0" stroke="#a4a4a4" stroke-width="0.8" stroke-opacity="0.78"/><line x1="177.5" y1="78.3" x2="179.3" y2="78.3" stroke="#999" stroke-width="0.6"/><line x1="179.5" y1="67.4" x2="179.5" y2="86.8" stroke="#999" stroke-width="0.8" stroke-opacity="0.60"/><line x1="178.6" y1="76.3" x2="180.4" y2="76.3" stroke="#999" stroke-width="0.6"/><line x1="181.0" y1="63.4" x2="181.0" y2="95.9" stroke="#a4a4a4" stroke-width="0.8" stroke-opacity="0.61"/><line x1="181.3" y1="70.9" x2="181.3" y2="170.5" stroke="#d4d4d4" stroke-width="1" stroke-opacity="0.88"/><line x1="180.1" y1="76.2" x2="181.9" y2="76.2" stroke="#999" stroke-width="0.6"/><line x1="181.9" y1="63.2" x2="181.9" y2="91.2" stroke="#aaa" stroke-width="0.8" stroke-opacity="0.87"/><line x1="181.0" y1="80.3" x2="182.8" y2="80.3" stroke="#999" stroke-width="0.6"/><line x1="183.3" y1="66.7" x2="183.3" y2="84.2" stroke="#bbb" stroke-width="0.8" stroke-opacity="0.61"/><line x1="182.4" y1="76.9" x2="184.2" y2="76.9" stroke="#999" stroke-width="0.6"/><line x1="184.3" y1="59.6" x2="184.3" y2="90.1" stroke="#b4b4b4" stroke-width="0.8" stroke-opacity="0.79"/><line x1="184.6" y1="60.5" x2="184.6" y2="170.5" stroke="#ccc" stroke-width="1" stroke-opacity="0.86"/><line x1="183.4" y1="75.9" x2="185.2" y2="75.9" stroke="#999" stroke-width="0.6"/><line x1="185.1" y1="64.0" x2="185.1" y2="87.1" stroke="#999" stroke-width="0.8" stroke-opacity="0.75"/><line x1="184.2" y1="78.9" x2="186.0" y2="78.9" stroke="#999" stroke-width="0.6"/><line x1="186.5" y1="66.7" x2="186.5" y2="92.6" stroke="#bbb" stroke-width="0.8" stroke-opacity="0.78"/><line x1="186.8" y1="70.8" x2="186.8" y2="170.5" stroke="#c4c4c4" stroke-width="1" stroke-opacity="0.86"/><line x1="185.6" y1="75.0" x2="187.4" y2="75.0" stroke="#999" stroke-width="0.6"/><line x1="187.8" y1="66.2" x2="187.8" y2="93.6" stroke="#bbb" stroke-width="0.8" stroke-opacity="0.87"/><line x1="188.1" y1="73.0" x2="188.1" y2="170.5" stroke="#bbb" stroke-width="1" stroke-opacity="0.74"/><line x1="186.9" y1="82.2" x2="188.7" y2="82.2" stroke="#999" stroke-width="0.6"/><line x1="188.9" y1="59.7" x2="188.9" y2="86.5" stroke="#aaa" stroke-width="0.8" stroke-opacity="0.84"/><line x1="188.0" y1="84.1" x2="189.8" y2="84.1" stroke="#999" stroke-width="0.6"/><line x1="190.1" y1="60.1" x2="190.1" y2="101.1" stroke="#a4a4a4" stroke-width="0.8" stroke-opacity="0.82"/><line x1="190.4" y1="73.4" x2="190.4" y2="170.5" stroke="#aaa" stroke-width="1" stroke-opacity="1.00"/><line x1="189.2" y1="85.7" x2="191.0" y2="85.7" stroke="#999" stroke-width="0.6"/><line x1="191.2" y1="60.2" x2="191.2" y2="93.4" stroke="#aaa" stroke-width="0.8" stroke-opacity="0.73"/><line x1="191.5" y1="61.6" x2="191.5" y2="170.5" stroke="#b4b4b4" stroke-width="1" stroke-opacity="0.71"/><line x1="190.3" y1="80.3" x2="192.1" y2="80.3" stroke="#999" stroke-width="0.6"/><line x1="191.8" y1="61.5" x2="191.8" y2="95.2" stroke="#999" stroke-width="0.8" stroke-opacity="0.63"/><line x1="190.9" y1="82.2" x2="192.7" y2="82.2" stroke="#999" stroke-width="0.6"/><line x1="192.6" y1="65.8" x2="192.6" y2="88.8" stroke="#a4a4a4" stroke-width="0.8" stroke-opacity="0.68"/><line x1="192.9" y1="72.1" x2="192.9" y2="170.5" stroke="#ccc" stroke-width="1" stroke-opacity="0.95"/><line x1="191.7" y1="83.3" x2="193.5" y2="83.3" stroke="#999" stroke-width="0.6"/><line x1="193.7" y1="63.2" x2="193.7" y2="92.3" stroke="#999" stroke-width="0.8" stroke-opacity="0.84"/><line x1="194.0" y1="76.6" x2="194.0" y2="170.5" stroke="#b4b4b4" stroke-width="1" stroke-opacity="0.98"/><line x1="192.8" y1="85.3" x2="194.6" y2="85.3" stroke="#999" stroke-width="0.6"/><line x1="194.7" y1="64.9" x2="194.7" y2="95.5" stroke="#999" stroke-width="0.8" stroke-opacity="0.68"/><line x1="195.0" y1="65.1" x2="195.0" y2="170.5" stroke="#c4c4c4" stroke-width="1" stroke-opacity="0.83"/><line x1="193.8" y1="87.2" x2="195.6" y2="87.2" stroke="#999" stroke-width="0.6"/><line x1="195.3" y1="64.1" x2="195.3" y2="103.7" stroke="#aaa" stroke-width="0.8" stroke-opacity="0.62"/><line x1="195.6" y1="68.8" x2="195.6" y2="170.5" stroke="#b4b4b4" stroke-width="1" stroke-opacity="0.86"/><line x1="194.4" y1="82.7" x2="196.2" y2="82.7" stroke="#999" stroke-width="0.6"/><line x1="196.1" y1="62.0" x2="196.1" y2="94.9" stroke="#999" stroke-width="0.8" stroke-opacity="0.90"/><line x1="196.4" y1="62.2" x2="196.4" y2="170.5" stroke="#c4c4c4" stroke-width="1" stroke-opacity="0.87"/><line x1="195.2" y1="85.8" x2="197.0" y2="85.8" stroke="#999" stroke-width="0.6"/><line x1="197.2" y1="59.1" x2="197.2" y2="98.1" stroke="#b4b4b4" stroke-width="0.8" stroke-opacity="0.76"/><line x1="196.3" y1="87.9" x2="198.1" y2="87.9" stroke="#999" stroke-width="0.6"/><line x1="198.4" y1="60.6" x2="198.4" y2="91.7" stroke="#a4a4a4" stroke-width="0.8" stroke-opacity="0.85"/><line x1="198.7" y1="70.2" x2="198.7" y2="170.5" stroke="#bbb" stroke-width="1" stroke-opacity="1.00"/><line x1="197.5" y1="90.5" x2="199.3" y2="90.5" stroke="#999" stroke-width="0.6"/><line x1="199.0" y1="63.1" x2="199.0" y2="99.3" stroke="#999" stroke-width="0.8" stroke-opacity="0.63"/><line x1="198.1" y1="85.4" x2="199.9" y2="85.4" stroke="#999" stroke-width="0.6"/><line x1="200.1" y1="63.3" x2="200.1" y2="93.1" stroke="#aaa" stroke-width="0.8" stroke-opacity="0.61"/><line x1="200.4" y1="67.4" x2="200.4" y2="170.5" stroke="#a4a4a4" stroke-width="1" stroke-opacity="0.78"/><line x1="199.2" y1="92.9" x2="201.0" y2="92.9" stroke="#999" stroke-width="0.6"/><line x1="201.1" y1="59.7" x2="201.1" y2="99.6" stroke="#aaa" stroke-width="0.8" stroke-opacity="0.65"/><line x1="201.4" y1="61.0" x2="201.4" y2="170.5" stroke="#b4b4b4" stroke-width="1" stroke-opacity="0.85"/><line x1="200.2" y1="85.2" x2="202.0" y2="85.2" stroke="#999" stroke-width="0.6"/><line x1="201.8" y1="61.7" x2="201.8" y2="91.8" stroke="#999" stroke-width="0.8" stroke-opacity="0.64"/><line x1="202.1" y1="67.6" x2="202.1" y2="170.5" stroke="#b4b4b4" stroke-width="1" stroke-opacity="0.79"/><line x1="200.9" y1="87.4" x2="202.7" y2="87.4" stroke="#999" stroke-width="0.6"/><line x1="202.7" y1="63.5" x2="202.7" y2="101.9" stroke="#bbb" stroke-width="0.8" stroke-opacity="0.72"/><line x1="203.0" y1="78.2" x2="203.0" y2="170.5" stroke="#aaa" stroke-width="1" stroke-opacity="0.79"/><line x1="201.8" y1="90.7" x2="203.6" y2="90.7" stroke="#999" stroke-width="0.6"/><line x1="203.7" y1="58.4" x2="203.7" y2="103.6" stroke="#bbb" stroke-width="0.8" stroke-opacity="0.79"/><line x1="204.0" y1="70.6" x2="204.0" y2="170.5" stroke="#aaa" stroke-width="1" stroke-opacity="0.97"/><line x1="202.8" y1="87.9" x2="204.6" y2="87.9" stroke="#999" stroke-width="0.6"/><line x1="204.8" y1="57.2" x2="204.8" y2="103.7" stroke="#a4a4a4" stroke-width="0.8" stroke-opacity="0.63"/><line x1="205.1" y1="66.7" x2="205.1" y2="170.5" stroke="#a4a4a4" stroke-width="1" stroke-opacity="0.81"/><line x1="203.9" y1="85.0" x2="205.7" y2="85.0" stroke="#999" stroke-width="0.6"/><line x1="205.6" y1="57.3" x2="205.6" y2="96.1" stroke="#a4a4a4" stroke-width="0.8" stroke-opacity="0.75"/><line x1="205.9" y1="69.2" x2="205.9" y2="170.5" stroke="#ccc" stroke-width="1" stroke-opacity="0.98"/><line x1="204.7" y1="89.5" x2="206.5" y2="89.5" stroke="#999" stroke-width="0.6"/><line x1="206.5" y1="62.7" x2="206.5" y2="102.8" stroke="#aaa" stroke-width="0.8" stroke-opacity="0.67"/><line x1="206.8" y1="66.1" x2="206.8" y2="170.5" stroke="#ccc" stroke-width="1" stroke-opacity="0.99"/><line x1="205.6" y1="88.3" x2="207.4" y2="88.3" stroke="#999" stroke-width="0.6"/><line x1="207.4" y1="59.6" x2="207.4" y2="102.0" stroke="#999" stroke-width="0.8" stroke-opacity="0.79"/><line x1="207.7" y1="60.7" x2="207.7" y2="170.5" stroke="#aaa" stroke-width="1" stroke-opacity="0.80"/><line x1="206.5" y1="87.1" x2="208.3" y2="87.1" stroke="#999" stroke-width="0.6"/><line x1="208.4" y1="57.4" x2="208.4" y2="100.4" stroke="#999" stroke-width="0.8" stroke-opacity="0.81"/><line x1="208.7" y1="61.7" x2="208.7" y2="170.5" stroke="#c4c4c4" stroke-width="1" stroke-opacity="0.79"/><line x1="207.5" y1="86.6" x2="209.3" y2="86.6" stroke="#999" stroke-width="0.6"/><line x1="209.3" y1="62.3" x2="209.3" y2="105.5" stroke="#aaa" stroke-width="0.8" stroke-opacity="0.89"/><line x1="208.4" y1="92.8" x2="210.2" y2="92.8" stroke="#999" stroke-width="0.6"/><line x1="210.4" y1="63.7" x2="210.4" y2="98.7" stroke="#a4a4a4" stroke-width="0.8" stroke-opacity="0.87"/><line x1="209.5" y1="90.8" x2="211.3" y2="90.8" stroke="#999" stroke-width="0.6"/><line x1="211.0" y1="56.5" x2="211.0" y2="101.3" stroke="#aaa" stroke-width="0.8" stroke-opacity="0.64"/><line x1="210.1" y1="85.5" x2="211.9" y2="85.5" stroke="#999" stroke-width="0.6"/><line x1="212.0" y1="57.4" x2="212.0" y2="105.2" stroke="#999" stroke-width="0.8" stroke-opacity="0.65"/><line x1="211.1" y1="90.8" x2="212.9" y2="90.8" stroke="#999" stroke-width="0.6"/><line x1="213.1" y1="58.6" x2="213.1" y2="103.5" stroke="#b4b4b4" stroke-width="0.8" stroke-opacity="0.69"/><line x1="212.2" y1="95.7" x2="214.0" y2="95.7" stroke="#999" stroke-width="0.6"/><line x1="214.2" y1="56.1" x2="214.2" y2="108.5" stroke="#aaa" stroke-width="0.8" stroke-opacity="0.68"/><line x1="214.5" y1="62.0" x2="214.5" y2="170.5" stroke="#d4d4d4" stroke-width="1" stroke-opacity="0.88"/><line x1="213.3" y1="92.0" x2="215.1" y2="92.0" stroke="#999" stroke-width="0.6"/><line x1="215.0" y1="58.4" x2="215.0" y2="96.9" stroke="#999" stroke-width="0.8" stroke-opacity="0.62"/><line x1="215.3" y1="68.0" x2="215.3" y2="170.5" stroke="#aaa" stroke-width="1" stroke-opacity="0.77"/><line x1="214.1" y1="91.9" x2="215.9" y2="91.9" stroke="#999" stroke-width="0.6"/><line x1="215.7" y1="57.8" x2="215.7" y2="111.0" stroke="#b4b4b4" stroke-width="0.8" stroke-opacity="0.87"/><line x1="214.8" y1="95.5" x2="216.6" y2="95.5" stroke="#999" stroke-width="0.6"/><line x1="216.6" y1="60.4" x2="216.6" y2="102.5" stroke="#b4b4b4" stroke-width="0.8" stroke-opacity="0.78"/><line x1="216.9" y1="73.5" x2="216.9" y2="170.5" stroke="#bbb" stroke-width="1" stroke-opacity="0.71"/><line x1="215.7" y1="94.0" x2="217.5" y2="94.0" stroke="#999" stroke-width="0.6"/><line x1="217.5" y1="57.2" x2="217.5" y2="104.9" stroke="#aaa" stroke-width="0.8" stroke-opacity="0.72"/><line x1="217.8" y1="64.5" x2="217.8" y2="170.5" stroke="#ccc" stroke-width="1" stroke-opacity="0.82"/><line x1="216.6" y1="92.6" x2="218.4" y2="92.6" stroke="#999" stroke-width="0.6"/><line x1="218.2" y1="55.7" x2="218.2" y2="106.1" stroke="#b4b4b4" stroke-width="0.8" stroke-opacity="0.77"/><line x1="218.5" y1="60.6" x2="218.5" y2="170.5" stroke="#d4d4d4" stroke-width="1" stroke-opacity="0.83"/><line x1="217.3" y1="94.5" x2="219.1" y2="94.5" stroke="#999" stroke-width="0.6"/><line x1="218.9" y1="57.0" x2="218.9" y2="98.8" stroke="#aaa" stroke-width="0.8" stroke-opacity="0.84"/><line x1="219.2" y1="57.3" x2="219.2" y2="170.5" stroke="#d4d4d4" stroke-width="1" stroke-opacity="0.82"/><line x1="218.0" y1="94.9" x2="219.8" y2="94.9" stroke="#999" stroke-width="0.6"/><line x1="219.7" y1="58.3" x2="219.7" y2="102.3" stroke="#999" stroke-width="0.8" stroke-opacity="0.75"/><line x1="220.0" y1="63.7" x2="220.0" y2="170.5" stroke="#ccc" stroke-width="1" stroke-opacity="0.85"/><line x1="218.8" y1="90.5" x2="220.6" y2="90.5" stroke="#999" stroke-width="0.6"/><line x1="220.4" y1="56.1" x2="220.4" y2="102.2" stroke="#b4b4b4" stroke-width="0.8" stroke-opacity="0.73"/><line x1="220.7" y1="68.3" x2="220.7" y2="170.5" stroke="#a4a4a4" stroke-width="1" stroke-opacity="0.74"/><line x1="219.5" y1="90.6" x2="221.3" y2="90.6" stroke="#999" stroke-width="0.6"/><line x1="221.3" y1="60.0" x2="221.3" y2="112.6" stroke="#b4b4b4" stroke-width="0.8" stroke-opacity="0.60"/><line x1="221.6" y1="73.9" x2="221.6" y2="170.5" stroke="#d4d4d4" stroke-width="1" stroke-opacity="0.86"/><line x1="220.4" y1="91.8" x2="222.2" y2="91.8" stroke="#999" stroke-width="0.6"/><line x1="222.4" y1="55.6" x2="222.4" y2="107.8" stroke="#999" stroke-width="0.8" stroke-opacity="0.88"/><line x1="221.5" y1="95.4" x2="223.3" y2="95.4" stroke="#999" stroke-width="0.6"/><line x1="223.3" y1="59.8" x2="223.3" y2="106.4" stroke="#999" stroke-width="0.8" stroke-opacity="0.60"/><line x1="223.6" y1="68.3" x2="223.6" y2="170.5" stroke="#a4a4a4" stroke-width="1" stroke-opacity="0.89"/><line x1="222.4" y1="94.8" x2="224.2" y2="94.8" stroke="#999" stroke-width="0.6"/><line x1="224.1" y1="58.7" x2="224.1" y2="104.2" stroke="#999" stroke-width="0.8" stroke-opacity="0.69"/><line x1="223.2" y1="96.7" x2="225.0" y2="96.7" stroke="#999" stroke-width="0.6"/><line x1="224.8" y1="55.6" x2="224.8" y2="104.0" stroke="#bbb" stroke-width="0.8" stroke-opacity="0.69"/><line x1="223.9" y1="99.1" x2="225.7" y2="99.1" stroke="#999" stroke-width="0.6"/><line x1="225.9" y1="57.2" x2="225.9" y2="102.4" stroke="#b4b4b4" stroke-width="0.8" stroke-opacity="0.81"/><line x1="226.2" y1="57.5" x2="226.2" y2="170.5" stroke="#bbb" stroke-width="1" stroke-opacity="0.97"/><line x1="225.0" y1="95.1" x2="226.8" y2="95.1" stroke="#999" stroke-width="0.6"/><line x1="226.9" y1="54.0" x2="226.9" y2="104.4" stroke="#aaa" stroke-width="0.8" stroke-opacity="0.67"/><line x1="227.2" y1="59.0" x2="227.2" y2="170.5" stroke="#bbb" stroke-width="1" stroke-opacity="0.81"/><line x1="226.0" y1="96.1" x2="227.8" y2="96.1" stroke="#999" stroke-width="0.6"/><line x1="227.7" y1="60.0" x2="227.7" y2="104.0" stroke="#a4a4a4" stroke-width="0.8" stroke-opacity="0.69"/><line x1="226.8" y1="96.7" x2="228.6" y2="96.7" stroke="#999" stroke-width="0.6"/><line x1="228.4" y1="54.9" x2="228.4" y2="107.8" stroke="#bbb" stroke-width="0.8" stroke-opacity="0.75"/><line x1="228.7" y1="58.3" x2="228.7" y2="170.5" stroke="#bbb" stroke-width="1" stroke-opacity="0.97"/><line x1="227.5" y1="99.9" x2="229.3" y2="99.9" stroke="#999" stroke-width="0.6"/><line x1="229.6" y1="53.5" x2="229.6" y2="105.2" stroke="#b4b4b4" stroke-width="0.8" stroke-opacity="0.62"/><line x1="229.9" y1="59.4" x2="229.9" y2="170.5" stroke="#ccc" stroke-width="1" stroke-opacity="0.97"/><line x1="228.7" y1="98.2" x2="230.5" y2="98.2" stroke="#999" stroke-width="0.6"/><line x1="230.6" y1="60.9" x2="230.6" y2="110.0" stroke="#a4a4a4" stroke-width="0.8" stroke-opacity="0.80"/><line x1="229.7" y1="95.2" x2="231.5" y2="95.2" stroke="#999" stroke-width="0.6"/><line x1="231.7" y1="59.5" x2="231.7" y2="111.8" stroke="#999" stroke-width="0.8" stroke-opacity="0.60"/><line x1="232.0" y1="64.8" x2="232.0" y2="170.5" stroke="#a4a4a4" stroke-width="1" stroke-opacity="0.87"/><line x1="230.8" y1="97.9" x2="232.6" y2="97.9" stroke="#999" stroke-width="0.6"/><line x1="232.7" y1="55.8" x2="232.7" y2="108.9" stroke="#b4b4b4" stroke-width="0.8" stroke-opacity="0.63"/><line x1="231.8" y1="98.8" x2="233.6" y2="98.8" stroke="#999" stroke-width="0.6"/><line x1="233.6" y1="55.2" x2="233.6" y2="110.5" stroke="#b4b4b4" stroke-width="0.8" stroke-opacity="0.67"/><line x1="232.7" y1="100.8" x2="234.5" y2="100.8" stroke="#999" stroke-width="0.6"/><line x1="234.4" y1="55.6" x2="234.4" y2="111.7" stroke="#999" stroke-width="0.8" stroke-opacity="0.68"/><line x1="233.5" y1="99.8" x2="235.3" y2="99.8" stroke="#999" stroke-width="0.6"/><line x1="235.2" y1="60.1" x2="235.2" y2="107.6" stroke="#aaa" stroke-width="0.8" stroke-opacity="0.88"/><line x1="235.5" y1="71.0" x2="235.5" y2="170.5" stroke="#c4c4c4" stroke-width="1" stroke-opacity="0.97"/><line x1="234.3" y1="96.7" x2="236.1" y2="96.7" stroke="#999" stroke-width="0.6"/><line x1="236.2" y1="59.9" x2="236.2" y2="102.6" stroke="#b4b4b4" stroke-width="0.8" stroke-opacity="0.81"/><line x1="236.5" y1="71.6" x2="236.5" y2="170.5" stroke="#d4d4d4" stroke-width="1" stroke-opacity="0.78"/><line x1="235.3" y1="95.5" x2="237.1" y2="95.5" stroke="#999" stroke-width="0.6"/><line x1="237.3" y1="53.7" x2="237.3" y2="113.9" stroke="#a4a4a4" stroke-width="0.8" stroke-opacity="0.78"/><line x1="237.6" y1="58.5" x2="237.6" y2="170.5" stroke="#b4b4b4" stroke-width="1" stroke-opacity="0.94"/><line x1="236.4" y1="99.4" x2="238.2" y2="99.4" stroke="#999" stroke-width="0.6"/><line x1="238.3" y1="56.3" x2="238.3" y2="104.8" stroke="#b4b4b4" stroke-width="0.8" stroke-opacity="0.62"/><line x1="238.6" y1="64.6" x2="238.6" y2="170.5" stroke="#b4b4b4" stroke-width="1" stroke-opacity="0.75"/><line x1="237.4" y1="97.0" x2="239.2" y2="97.0" stroke="#999" stroke-width="0.6"/><line x1="238.9" y1="57.1" x2="238.9" y2="105.9" stroke="#b4b4b4" stroke-width="0.8" stroke-opacity="0.65"/><line x1="239.2" y1="64.0" x2="239.2" y2="170.5" stroke="#ccc" stroke-width="1" stroke-opacity="0.77"/><line x1="238.0" y1="98.5" x2="239.8" y2="98.5" stroke="#999" stroke-width="0.6"/><line x1="239.9" y1="58.2" x2="239.9" y2="113.7" stroke="#aaa" stroke-width="0.8" stroke-opacity="0.69"/><line x1="240.2" y1="63.8" x2="240.2" y2="170.5" stroke="#ccc" stroke-width="1" stroke-opacity="0.78"/><line x1="239.0" y1="96.4" x2="240.8" y2="96.4" stroke="#999" stroke-width="0.6"/><line x1="240.6" y1="54.0" x2="240.6" y2="108.8" stroke="#999" stroke-width="0.8" stroke-opacity="0.72"/><line x1="239.7" y1="98.3" x2="241.5" y2="98.3" stroke="#999" stroke-width="0.6"/><line x1="241.5" y1="53.3" x2="241.5" y2="112.4" stroke="#999" stroke-width="0.8" stroke-opacity="0.63"/><line x1="241.8" y1="65.6" x2="241.8" y2="170.5" stroke="#d4d4d4" stroke-width="1" stroke-opacity="0.83"/><line x1="240.6" y1="93.8" x2="242.4" y2="93.8" stroke="#999" stroke-width="0.6"/><line x1="242.2" y1="51.7" x2="242.2" y2="112.2" stroke="#a4a4a4" stroke-width="0.8" stroke-opacity="0.88"/><line x1="242.5" y1="64.6" x2="242.5" y2="170.5" stroke="#bbb" stroke-width="1" stroke-opacity="0.88"/><line x1="241.3" y1="100.8" x2="243.1" y2="100.8" stroke="#999" stroke-width="0.6"/><line x1="243.3" y1="56.2" x2="243.3" y2="105.0" stroke="#bbb" stroke-width="0.8" stroke-opacity="0.70"/><line x1="243.6" y1="61.3" x2="243.6" y2="170.5" stroke="#a4a4a4" stroke-width="1" stroke-opacity="0.76"/><line x1="242.4" y1="96.4" x2="244.2" y2="96.4" stroke="#999" stroke-width="0.6"/><line x1="244.3" y1="52.2" x2="244.3" y2="101.2" stroke="#aaa" stroke-width="0.8" stroke-opacity="0.66"/><line x1="244.6" y1="55.2" x2="244.6" y2="170.5" stroke="#d4d4d4" stroke-width="1" stroke-opacity="0.85"/><line x1="243.4" y1="99.3" x2="245.2" y2="99.3" stroke="#999" stroke-width="0.6"/><line x1="245.2" y1="53.5" x2="245.2" y2="110.1" stroke="#a4a4a4" stroke-width="0.8" stroke-opacity="0.79"/><line x1="245.5" y1="56.0" x2="245.5" y2="170.5" stroke="#ccc" stroke-width="1" stroke-opacity="0.78"/><line x1="244.3" y1="98.8" x2="246.1" y2="98.8" stroke="#999" stroke-width="0.6"/><line x1="246.0" y1="50.4" x2="246.0" y2="111.1" stroke="#b4b4b4" stroke-width="0.8" stroke-opacity="0.72"/><line x1="246.3" y1="65.3" x2="246.3" y2="170.5" stroke="#b4b4b4" stroke-width="1" stroke-opacity="0.89"/><line x1="245.1" y1="94.0" x2="246.9" y2="94.0" stroke="#999" stroke-width="0.6"/><line x1="246.9" y1="52.9" x2="246.9" y2="107.1" stroke="#a4a4a4" stroke-width="0.8" stroke-opacity="0.73"/><line x1="247.2" y1="59.0" x2="247.2" y2="170.5" stroke="#b4b4b4" stroke-width="1" stroke-opacity="0.84"/><line x1="246.0" y1="93.5" x2="247.8" y2="93.5" stroke="#999" stroke-width="0.6"/><line x1="247.8" y1="54.5" x2="247.8" y2="102.0" stroke="#bbb" stroke-width="0.8" stroke-opacity="0.88"/><line x1="248.1" y1="57.1" x2="248.1" y2="170.5" stroke="#b4b4b4" stroke-width="1" stroke-opacity="0.78"/><line x1="246.9" y1="92.2" x2="248.7" y2="92.2" stroke="#999" stroke-width="0.6"/><line x1="248.7" y1="56.5" x2="248.7" y2="98.0" stroke="#a4a4a4" stroke-width="0.8" stroke-opacity="0.69"/><line x1="249.0" y1="57.1" x2="249.0" y2="170.5" stroke="#bbb" stroke-width="1" stroke-opacity="0.79"/><line x1="247.8" y1="87.5" x2="249.6" y2="87.5" stroke="#999" stroke-width="0.6"/><line x1="249.4" y1="54.6" x2="249.4" y2="105.3" stroke="#a4a4a4" stroke-width="0.8" stroke-opacity="0.79"/><line x1="249.7" y1="57.5" x2="249.7" y2="170.5" stroke="#bbb" stroke-width="1" stroke-opacity="0.75"/><line x1="248.5" y1="86.7" x2="250.3" y2="86.7" stroke="#999" stroke-width="0.6"/><line x1="250.1" y1="51.8" x2="250.1" y2="97.2" stroke="#999" stroke-width="0.8" stroke-opacity="0.64"/><line x1="249.2" y1="87.8" x2="251.0" y2="87.8" stroke="#999" stroke-width="0.6"/><line x1="251.2" y1="55.0" x2="251.2" y2="98.0" stroke="#aaa" stroke-width="0.8" stroke-opacity="0.64"/><line x1="251.5" y1="63.2" x2="251.5" y2="170.5" stroke="#ccc" stroke-width="1" stroke-opacity="0.93"/><line x1="250.3" y1="82.5" x2="252.1" y2="82.5" stroke="#999" stroke-width="0.6"/><line x1="252.2" y1="50.3" x2="252.2" y2="88.4" stroke="#aaa" stroke-width="0.8" stroke-opacity="0.73"/><line x1="252.5" y1="50.7" x2="252.5" y2="170.5" stroke="#c4c4c4" stroke-width="1" stroke-opacity="1.00"/><line x1="251.3" y1="77.9" x2="253.1" y2="77.9" stroke="#999" stroke-width="0.6"/><line x1="253.2" y1="53.8" x2="253.2" y2="93.2" stroke="#b4b4b4" stroke-width="0.8" stroke-opacity="0.63"/><line x1="253.5" y1="60.2" x2="253.5" y2="170.5" stroke="#a4a4a4" stroke-width="1" stroke-opacity="0.94"/><line x1="252.3" y1="77.0" x2="254.1" y2="77.0" stroke="#999" stroke-width="0.6"/><line x1="254.1" y1="51.9" x2="254.1" y2="75.4" stroke="#aaa" stroke-width="0.8" stroke-opacity="0.83"/><line x1="254.4" y1="52.7" x2="254.4" y2="170.5" stroke="#c4c4c4" stroke-width="1" stroke-opacity="0.97"/><line x1="253.2" y1="69.3" x2="255.0" y2="69.3" stroke="#999" stroke-width="0.6"/><line x1="254.7" y1="46.7" x2="254.7" y2="82.1" stroke="#999" stroke-width="0.8" stroke-opacity="0.66"/><line x1="253.8" y1="64.7" x2="255.6" y2="64.7" stroke="#999" stroke-width="0.6"/><line x1="255.6" y1="53.2" x2="255.6" y2="73.6" stroke="#a4a4a4" stroke-width="0.8" stroke-opacity="0.62"/><line x1="255.9" y1="64.6" x2="255.9" y2="170.5" stroke="#aaa" stroke-width="1" stroke-opacity="0.80"/><line x1="254.7" y1="58.5" x2="256.5" y2="58.5" stroke="#999" stroke-width="0.6"/><line x1="256.5" y1="47.0" x2="256.5" y2="71.9" stroke="#bbb" stroke-width="0.8" stroke-opacity="0.68"/><line x1="256.8" y1="51.8" x2="256.8" y2="170.5" stroke="#a4a4a4" stroke-width="1" stroke-opacity="0.76"/><line x1="255.6" y1="53.9" x2="257.4" y2="53.9" stroke="#999" stroke-width="0.6"/><line x1="257.3" y1="49.5" x2="257.3" y2="62.5" stroke="#b4b4b4" stroke-width="0.8" stroke-opacity="0.65"/><line x1="257.6" y1="51.3" x2="257.6" y2="170.5" stroke="#c4c4c4" stroke-width="1" stroke-opacity="0.71"/><line x1="256.4" y1="59.1" x2="258.2" y2="59.1" stroke="#999" stroke-width="0.6"/><line x1="258.2" y1="48.3" x2="258.2" y2="73.6" stroke="#aaa" stroke-width="0.8" stroke-opacity="0.90"/><line x1="258.5" y1="54.2" x2="258.5" y2="170.5" stroke="#d4d4d4" stroke-width="1" stroke-opacity="0.81"/><line x1="257.3" y1="52.1" x2="259.1" y2="52.1" stroke="#999" stroke-width="0.6"/><line x1="259.0" y1="47.6" x2="259.0" y2="68.4" stroke="#999" stroke-width="0.8" stroke-opacity="0.73"/><line x1="259.3" y1="58.8" x2="259.3" y2="170.5" stroke="#a4a4a4" stroke-width="1" stroke-opacity="0.79"/><line x1="258.1" y1="59.8" x2="259.9" y2="59.8" stroke="#999" stroke-width="0.6"/><line x1="260.2" y1="52.4" x2="260.2" y2="87.8" stroke="#999" stroke-width="0.8" stroke-opacity="0.82"/><line x1="260.5" y1="56.8" x2="260.5" y2="170.5" stroke="#ccc" stroke-width="1" stroke-opacity="0.83"/><line x1="259.3" y1="69.2" x2="261.1" y2="69.2" stroke="#999" stroke-width="0.6"/><line x1="261.1" y1="53.2" x2="261.1" y2="79.8" stroke="#999" stroke-width="0.8" stroke-opacity="0.61"/><line x1="261.4" y1="58.6" x2="261.4" y2="170.5" stroke="#a4a4a4" stroke-width="1" stroke-opacity="0.86"/><line x1="260.2" y1="72.0" x2="262.0" y2="72.0" stroke="#999" stroke-width="0.6"/><line x1="261.9" y1="47.7" x2="261.9" y2="91.5" stroke="#a4a4a4" stroke-width="0.8" stroke-opacity="0.64"/><line x1="261.0" y1="77.7" x2="262.8" y2="77.7" stroke="#999" stroke-width="0.6"/><line x1="262.6" y1="48.3" x2="262.6" y2="90.6" stroke="#aaa" stroke-width="0.8" stroke-opacity="0.72"/><line x1="262.9" y1="48.5" x2="262.9" y2="170.5" stroke="#ccc" stroke-width="1" stroke-opacity="0.95"/><line x1="261.7" y1="84.1" x2="263.5" y2="84.1" stroke="#999" stroke-width="0.6"/><line x1="263.6" y1="52.5" x2="263.6" y2="96.0" stroke="#a4a4a4" stroke-width="0.8" stroke-opacity="0.87"/><line x1="263.9" y1="60.5" x2="263.9" y2="170.5" stroke="#bbb" stroke-width="1" stroke-opacity="0.76"/><line x1="262.7" y1="82.9" x2="264.5" y2="82.9" stroke="#999" stroke-width="0.6"/><line x1="264.3" y1="55.3" x2="264.3" y2="96.2" stroke="#a4a4a4" stroke-width="0.8" stroke-opacity="0.64"/><line x1="264.6" y1="64.4" x2="264.6" y2="170.5" stroke="#c4c4c4" stroke-width="1" stroke-opacity="0.89"/><line x1="263.4" y1="84.2" x2="265.2" y2="84.2" stroke="#999" stroke-width="0.6"/><line x1="265.2" y1="48.4" x2="265.2" y2="106.8" stroke="#b4b4b4" stroke-width="0.8" stroke-opacity="0.81"/><line x1="265.5" y1="61.0" x2="265.5" y2="170.5" stroke="#ccc" stroke-width="1" stroke-opacity="0.97"/><line x1="264.3" y1="91.6" x2="266.1" y2="91.6" stroke="#999" stroke-width="0.6"/><line x1="265.8" y1="53.0" x2="265.8" y2="104.9" stroke="#aaa" stroke-width="0.8" stroke-opacity="0.67"/><line x1="266.1" y1="58.0" x2="266.1" y2="170.5" stroke="#ccc" stroke-width="1" stroke-opacity="0.98"/><line x1="264.9" y1="93.3" x2="266.7" y2="93.3" stroke="#999" stroke-width="0.6"/><line x1="266.5" y1="52.8" x2="266.5" y2="107.3" stroke="#bbb" stroke-width="0.8" stroke-opacity="0.89"/><line x1="266.8" y1="66.7" x2="266.8" y2="170.5" stroke="#aaa" stroke-width="1" stroke-opacity="0.73"/><line x1="265.6" y1="92.3" x2="267.4" y2="92.3" stroke="#999" stroke-width="0.6"/><line x1="267.4" y1="48.9" x2="267.4" y2="112.6" stroke="#a4a4a4" stroke-width="0.8" stroke-opacity="0.88"/><line x1="267.7" y1="53.8" x2="267.7" y2="170.5" stroke="#bbb" stroke-width="1" stroke-opacity="0.80"/><line x1="266.5" y1="95.3" x2="268.3" y2="95.3" stroke="#999" stroke-width="0.6"/><line x1="268.3" y1="53.0" x2="268.3" y2="113.9" stroke="#b4b4b4" stroke-width="0.8" stroke-opacity="0.74"/><line x1="268.6" y1="53.1" x2="268.6" y2="170.5" stroke="#a4a4a4" stroke-width="1" stroke-opacity="0.83"/><line x1="267.4" y1="102.3" x2="269.2" y2="102.3" stroke="#999" stroke-width="0.6"/><line x1="269.4" y1="51.9" x2="269.4" y2="105.2" stroke="#bbb" stroke-width="0.8" stroke-opacity="0.78"/><line x1="269.7" y1="54.5" x2="269.7" y2="170.5" stroke="#a4a4a4" stroke-width="1" stroke-opacity="0.71"/><line x1="268.5" y1="103.1" x2="270.3" y2="103.1" stroke="#999" stroke-width="0.6"/><line x1="270.2" y1="48.4" x2="270.2" y2="102.5" stroke="#999" stroke-width="0.8" stroke-opacity="0.81"/><line x1="269.3" y1="103.5" x2="271.1" y2="103.5" stroke="#999" stroke-width="0.6"/><line x1="270.8" y1="51.9" x2="270.8" y2="113.9" stroke="#bbb" stroke-width="0.8" stroke-opacity="0.87"/><line x1="271.1" y1="64.9" x2="271.1" y2="170.5" stroke="#ccc" stroke-width="1" stroke-opacity="0.98"/><line x1="269.9" y1="102.2" x2="271.7" y2="102.2" stroke="#999" stroke-width="0.6"/><line x1="271.5" y1="47.3" x2="271.5" y2="118.7" stroke="#999" stroke-width="0.8" stroke-opacity="0.85"/><line x1="270.6" y1="102.8" x2="272.4" y2="102.8" stroke="#999" stroke-width="0.6"/><line x1="272.3" y1="47.8" x2="272.3" y2="113.1" stroke="#a4a4a4" stroke-width="0.8" stroke-opacity="0.69"/><line x1="272.6" y1="51.8" x2="272.6" y2="170.5" stroke="#b4b4b4" stroke-width="1" stroke-opacity="0.78"/><line x1="271.4" y1="102.0" x2="273.2" y2="102.0" stroke="#999" stroke-width="0.6"/><line x1="273.1" y1="49.7" x2="273.1" y2="118.5" stroke="#aaa" stroke-width="0.8" stroke-opacity="0.79"/><line x1="273.4" y1="55.9" x2="273.4" y2="170.5" stroke="#bbb" stroke-width="1" stroke-opacity="0.86"/><line x1="272.2" y1="107.7" x2="274.0" y2="107.7" stroke="#999" stroke-width="0.6"/><line x1="273.7" y1="51.0" x2="273.7" y2="112.6" stroke="#999" stroke-width="0.8" stroke-opacity="0.77"/><line x1="274.0" y1="57.6" x2="274.0" y2="170.5" stroke="#c4c4c4" stroke-width="1" stroke-opacity="0.76"/><line x1="272.8" y1="105.1" x2="274.6" y2="105.1" stroke="#999" stroke-width="0.6"/><line x1="274.4" y1="51.3" x2="274.4" y2="119.1" stroke="#a4a4a4" stroke-width="0.8" stroke-opacity="0.89"/><line x1="274.7" y1="65.6" x2="274.7" y2="170.5" stroke="#c4c4c4" stroke-width="1" stroke-opacity="0.78"/><line x1="273.5" y1="98.3" x2="275.3" y2="98.3" stroke="#999" stroke-width="0.6"/><line x1="275.5" y1="49.8" x2="275.5" y2="117.2" stroke="#b4b4b4" stroke-width="0.8" stroke-opacity="0.65"/><line x1="274.6" y1="106.8" x2="276.4" y2="106.8" stroke="#999" stroke-width="0.6"/><line x1="276.7" y1="52.2" x2="276.7" y2="113.7" stroke="#999" stroke-width="0.8" stroke-opacity="0.72"/><line x1="277.0" y1="65.6" x2="277.0" y2="170.5" stroke="#a4a4a4" stroke-width="1" stroke-opacity="0.83"/><line x1="275.8" y1="104.7" x2="277.6" y2="104.7" stroke="#999" stroke-width="0.6"/><line x1="277.7" y1="50.9" x2="277.7" y2="117.2" stroke="#bbb" stroke-width="0.8" stroke-opacity="0.75"/><line x1="278.0" y1="64.1" x2="278.0" y2="170.5" stroke="#aaa" stroke-width="1" stroke-opacity="0.98"/><line x1="276.8" y1="110.9" x2="278.6" y2="110.9" stroke="#999" stroke-width="0.6"/><line x1="278.7" y1="52.9" x2="278.7" y2="117.5" stroke="#bbb" stroke-width="0.8" stroke-opacity="0.65"/><line x1="277.8" y1="111.8" x2="279.6" y2="111.8" stroke="#999" stroke-width="0.6"/><line x1="279.7" y1="54.1" x2="279.7" y2="117.9" stroke="#aaa" stroke-width="0.8" stroke-opacity="0.77"/><line x1="280.0" y1="61.1" x2="280.0" y2="170.5" stroke="#ccc" stroke-width="1" stroke-opacity="0.77"/><line x1="278.8" y1="111.0" x2="280.6" y2="111.0" stroke="#999" stroke-width="0.6"/><line x1="280.7" y1="55.1" x2="280.7" y2="115.8" stroke="#a4a4a4" stroke-width="0.8" stroke-opacity="0.82"/><line x1="279.8" y1="113.0" x2="281.6" y2="113.0" stroke="#999" stroke-width="0.6"/><line x1="281.5" y1="50.4" x2="281.5" y2="123.9" stroke="#999" stroke-width="0.8" stroke-opacity="0.65"/><line x1="280.6" y1="112.1" x2="282.4" y2="112.1" stroke="#999" stroke-width="0.6"/></g>
<line x1="31.3" y1="89.7" x2="43.2" y2="89.7" stroke="#c4c4c4" stroke-width="1.3" stroke-opacity="1"/>
<line x1="31.3" y1="84.1" x2="43.2" y2="84.1" stroke="#999" stroke-width="0.9" stroke-opacity="1"/>
<line x1="37.2" y1="79.3" x2="37.2" y2="88.9" stroke="#999" stroke-width="0.8" stroke-opacity="1"/>
<line x1="43.2" y1="81.6" x2="54.4" y2="81.6" stroke="#c4c4c4" stroke-width="1.3" stroke-opacity="1"/>
<line x1="43.2" y1="79.6" x2="54.4" y2="79.6" stroke="#999" stroke-width="0.9" stroke-opacity="1"/>
<line x1="48.8" y1="74.8" x2="48.8" y2="84.4" stroke="#999" stroke-width="0.8" stroke-opacity="1"/>
<line x1="54.4" y1="71.0" x2="62.1" y2="71.0" stroke="#c4c4c4" stroke-width="1.3" stroke-opacity="1"/>
<line x1="54.4" y1="73.8" x2="62.1" y2="73.8" stroke="#999" stroke-width="0.9" stroke-opacity="1"/>
<line x1="58.2" y1="69.0" x2="58.2" y2="78.6" stroke="#999" stroke-width="0.8" stroke-opacity="1"/>
<line x1="62.1" y1="56.0" x2="68.4" y2="56.0" stroke="#c4c4c4" stroke-width="1.3" stroke-opacity="1"/>
<line x1="62.1" y1="54.0" x2="68.4" y2="54.0" stroke="#999" stroke-width="0.9" stroke-opacity="1"/>
<line x1="65.2" y1="49.2" x2="65.2" y2="58.8" stroke="#999" stroke-width="0.8" stroke-opacity="1"/>
<line x1="67.9" y1="33.2" x2="74.3" y2="33.2" stroke="#333" stroke-width="1.5" stroke-opacity="1"/>
<line x1="71.1" y1="30.2" x2="71.1" y2="36.2" stroke="#333" stroke-width="0.9" stroke-opacity="1"/>
<line x1="73.3" y1="19.7" x2="78.9" y2="19.7" stroke="#333" stroke-width="1.5" stroke-opacity="1"/>
<line x1="76.1" y1="16.7" x2="76.1" y2="22.7" stroke="#333" stroke-width="0.9" stroke-opacity="1"/>
<line x1="78.4" y1="38.4" x2="82.3" y2="38.4" stroke="#999" stroke-width="0.9" stroke-opacity="1"/>
<line x1="80.3" y1="35.5" x2="80.3" y2="41.3" stroke="#999" stroke-width="0.8" stroke-opacity="1"/>
<line x1="82.3" y1="55.2" x2="85.9" y2="55.2" stroke="#999" stroke-width="0.9" stroke-opacity="1"/>
<line x1="84.1" y1="52.5" x2="84.1" y2="57.8" stroke="#999" stroke-width="0.8" stroke-opacity="1"/>
<line x1="85.9" y1="62.6" x2="89.0" y2="62.6" stroke="#999" stroke-width="0.9" stroke-opacity="1"/>
<line x1="87.5" y1="58.7" x2="87.5" y2="66.4" stroke="#999" stroke-width="0.8" stroke-opacity="1"/>
<line x1="89.0" y1="58.9" x2="91.9" y2="58.9" stroke="#999" stroke-width="0.9" stroke-opacity="1"/>
<line x1="90.5" y1="56.0" x2="90.5" y2="61.8" stroke="#999" stroke-width="0.8" stroke-opacity="1"/>
<line x1="91.9" y1="49.4" x2="94.5" y2="49.4" stroke="#999" stroke-width="0.9" stroke-opacity="1"/>
<line x1="93.2" y1="45.6" x2="93.2" y2="53.3" stroke="#999" stroke-width="0.8" stroke-opacity="1"/>
<line x1="94.5" y1="38.2" x2="96.9" y2="38.2" stroke="#999" stroke-width="0.9" stroke-opacity="1"/>
<line x1="95.7" y1="35.0" x2="95.7" y2="41.4" stroke="#999" stroke-width="0.8" stroke-opacity="1"/>
<line x1="96.9" y1="34.7" x2="99.1" y2="34.7" stroke="#999" stroke-width="0.9" stroke-opacity="1"/>
<line x1="98.0" y1="32.1" x2="98.0" y2="37.2" stroke="#999" stroke-width="0.8" stroke-opacity="1"/>
<line x1="99.1" y1="45.5" x2="101.1" y2="45.5" stroke="#999" stroke-width="0.9" stroke-opacity="1"/>
<line x1="100.1" y1="41.7" x2="100.1" y2="49.3" stroke="#999" stroke-width="0.8" stroke-opacity="1"/>
<line x1="101.1" y1="50.6" x2="103.0" y2="50.6" stroke="#999" stroke-width="0.9" stroke-opacity="1"/>
<line x1="102.0" y1="47.5" x2="102.0" y2="53.8" stroke="#999" stroke-width="0.8" stroke-opacity="1"/>
<line x1="103.0" y1="55.5" x2="104.8" y2="55.5" stroke="#999" stroke-width="0.9" stroke-opacity="1"/>
<line x1="103.9" y1="52.7" x2="103.9" y2="58.4" stroke="#999" stroke-width="0.8" stroke-opacity="1"/>
<line x1="104.8" y1="57.4" x2="106.5" y2="57.4" stroke="#999" stroke-width="0.9" stroke-opacity="1"/>
<line x1="105.7" y1="53.4" x2="105.7" y2="61.4" stroke="#999" stroke-width="0.8" stroke-opacity="1"/>
<line x1="106.5" y1="49.7" x2="108.1" y2="49.7" stroke="#999" stroke-width="0.9" stroke-opacity="1"/>
<line x1="107.3" y1="46.7" x2="107.3" y2="52.6" stroke="#999" stroke-width="0.8" stroke-opacity="1"/>
<line x1="108.1" y1="44.5" x2="109.6" y2="44.5" stroke="#999" stroke-width="0.9" stroke-opacity="1"/>
<line x1="108.8" y1="41.9" x2="108.8" y2="47.0" stroke="#999" stroke-width="0.8" stroke-opacity="1"/>
<line x1="109.6" y1="41.1" x2="111.0" y2="41.1" stroke="#999" stroke-width="0.9" stroke-opacity="1"/>
<line x1="110.3" y1="38.2" x2="110.3" y2="43.9" stroke="#999" stroke-width="0.8" stroke-opacity="1"/>
<line x1="111.0" y1="38.8" x2="112.3" y2="38.8" stroke="#999" stroke-width="0.9" stroke-opacity="1"/>
<line x1="111.7" y1="35.2" x2="111.7" y2="42.4" stroke="#999" stroke-width="0.8" stroke-opacity="1"/>
<line x1="112.3" y1="44.1" x2="113.6" y2="44.1" stroke="#999" stroke-width="0.9" stroke-opacity="1"/>
<line x1="112.9" y1="41.6" x2="112.9" y2="46.6" stroke="#999" stroke-width="0.8" stroke-opacity="1"/>
<line x1="113.6" y1="46.3" x2="114.8" y2="46.3" stroke="#999" stroke-width="0.9" stroke-opacity="1"/>
<line x1="114.2" y1="43.5" x2="114.2" y2="49.2" stroke="#999" stroke-width="0.8" stroke-opacity="1"/>
<line x1="114.8" y1="52.0" x2="116.0" y2="52.0" stroke="#999" stroke-width="0.9" stroke-opacity="1"/>
<line x1="115.4" y1="48.2" x2="115.4" y2="55.8" stroke="#999" stroke-width="0.8" stroke-opacity="1"/>
<line x1="116.0" y1="52.2" x2="117.1" y2="52.2" stroke="#999" stroke-width="0.9" stroke-opacity="1"/>
<line x1="116.5" y1="48.6" x2="116.5" y2="55.7" stroke="#999" stroke-width="0.8" stroke-opacity="1"/>
<polyline points="30.5,100.6 38.0,100.6 38.5,100.3 39.0,99.9 39.5,99.5 40.0,99.1 40.5,98.7 41.0,98.3 41.5,97.9 42.0,97.4 42.5,97.0 43.0,96.6 43.5,96.2 44.0,95.7 44.5,95.3 45.0,94.8 45.5,94.4 46.0,93.9 46.5,93.5 47.0,93.0 47.5,92.5 48.0,92.0 48.5,91.5 49.0,91.0 49.5,90.5 50.0,90.0 50.5,89.4 51.0,88.9 51.5,88.3 52.0,87.8 52.5,87.2 53.0,86.6 53.5,86.0 54.0,85.4 54.5,84.8 55.0,84.2 55.5,83.5 56.0,82.9 56.5,82.2 57.0,81.5 57.5,80.8 58.0,80.1 58.5,79.3 59.0,78.5 59.5,77.8 60.0,76.9 60.5,76.1 61.0,75.2 61.5,74.4 62.0,73.4 62.5,72.5 63.0,71.5 63.5,70.5 64.0,69.4 64.5,68.3 65.0,67.2 65.5,66.0 66.0,64.8 66.5,63.5 67.0,62.1 67.5,60.6 68.0,59.1 68.5,57.5 69.0,55.8 69.5,54.0 70.0,52.1 70.5,50.1 71.0,47.9 71.5,45.5 72.0,42.9 72.5,40.2 73.0,37.2 73.5,34.1 74.0,30.8 74.5,27.6 75.0,24.8 75.5,22.8 76.0,22.3 76.5,23.3 77.0,25.6 77.5,28.7 78.0,31.9 78.5,35.2 79.0,38.2 79.5,41.1 80.0,43.8 80.5,46.3 81.0,48.6 81.5,50.8 82.0,52.8 82.5,54.6 83.0,56.4 83.5,58.1 84.0,59.7 84.5,61.1 85.0,62.6 85.5,63.9 86.0,65.2 86.5,66.4 87.0,67.6 87.5,68.7 88.0,69.8 88.5,70.8 89.0,71.8 89.5,72.8 90.0,73.8 90.5,74.7 91.0,75.5 91.5,76.4 92.0,77.2 92.5,78.0 93.0,78.8 93.5,79.6 94.0,80.3 94.5,81.0 95.0,81.7 95.5,82.4 96.0,83.1 96.5,83.7 97.0,84.4 97.5,85.0 98.0,85.6 98.5,86.2 99.0,86.8 99.5,87.4 100.0,88.0 100.5,88.5 101.0,89.1 101.5,89.6 102.0,90.1 102.5,90.7 103.0,91.2 103.5,91.7 104.0,92.2 104.5,92.7 105.0,93.1 105.5,93.6 106.0,94.1 106.5,94.5 107.0,95.0 107.5,95.4 108.0,95.9 108.5,96.3 109.0,96.7 109.5,97.2 110.0,97.6 110.5,98.0 111.0,98.4 111.5,98.8 112.0,99.2 112.5,99.6 113.0,100.0 113.5,100.4 114.0,100.8 114.5,101.2 115.0,101.5 115.5,101.9 116.0,102.3 116.5,102.6 117.0,103.0 117.5,103.4 118.0,103.7 118.5,104.1 119.0,104.4 119.5,104.7 120.0,105.1 120.5,105.4 121.0,105.8 121.5,106.1 122.0,106.4 122.5,106.8 123.0,107.1 123.5,107.4 124.0,107.7 124.5,108.1 125.0,108.4 125.5,108.7 126.0,109.0 126.5,109.3 127.0,109.6 127.5,109.9 128.0,110.2 128.5,110.5 129.0,110.8 129.5,111.1 130.0,111.4 130.5,111.7 131.0,112.0 131.5,112.3 132.0,112.6 132.5,112.9 133.0,113.2 133.5,113.5 134.0,113.7 134.5,114.0 135.0,114.3 135.5,114.6 136.0,114.9 136.5,115.1 137.0,115.4 137.5,115.7 138.0,116.0 138.5,116.2 139.0,116.5 139.5,116.8 140.0,117.0 140.5,117.3 141.0,117.6 141.5,117.8 142.0,118.1 142.5,118.4 143.0,118.6 143.5,118.9 144.0,119.1 144.5,119.4 145.0,119.7 145.5,119.9 146.0,120.2 146.5,120.4 147.0,120.7 147.5,120.9 148.0,121.2 148.5,121.4 149.0,121.7 149.5,121.9 150.0,122.2 150.5,122.4 151.0,122.7 151.5,122.9 152.0,123.2 152.5,123.4 153.0,123.7 153.5,123.9 154.0,124.2 154.5,124.4 155.0,124.6 155.5,124.9 156.0,125.1 156.5,125.4 157.0,125.6 157.5,125.8 158.0,126.1 158.5,126.3 159.0,126.6 159.5,126.8 160.0,127.0 160.5,127.3 161.0,127.5 161.5,127.7 162.0,128.0 162.5,128.2 163.0,128.4 163.5,128.7 164.0,128.9 164.5,129.1 165.0,129.4 165.5,129.6 166.0,129.8 166.5,130.1 167.0,130.3 167.5,130.5 168.0,130.7 168.5,131.0 169.0,131.2 169.5,131.4 170.0,131.7 170.5,131.9 171.0,132.1 171.5,132.3 172.0,132.6 172.5,132.8 173.0,133.0 173.5,133.2 174.0,133.5 174.5,133.7 175.0,133.9 175.5,134.1 176.0,134.4 176.5,134.6 177.0,134.8 177.5,135.0 178.0,135.2 178.5,135.5 179.0,135.7 179.5,135.9 180.0,136.1 180.5,136.3 181.0,136.6 181.5,136.8 182.0,137.0 182.5,137.2 183.0,137.4 183.5,137.7 184.0,137.9 184.5,138.1 185.0,138.3 185.5,138.5 186.0,138.8 186.5,139.0 187.0,139.2 187.5,139.4 188.0,139.6 188.5,139.8 189.0,140.1 189.5,140.3 190.0,140.5 190.5,140.7 191.0,140.9 191.5,141.1 192.0,141.4 192.5,141.6 193.0,141.8 193.5,142.0 194.0,142.2 194.5,142.4 195.0,142.6 195.5,142.9 196.0,143.1 196.5,143.3 197.0,143.5 197.5,143.7 198.0,143.9 198.5,144.1 199.0,144.4 199.5,144.6 200.0,144.8 200.5,145.0 201.0,145.2 201.5,145.4 202.0,145.6 202.5,145.9 203.0,146.1 203.5,146.3 204.0,146.5 204.5,146.7 205.0,146.9 205.5,147.1 206.0,147.3 206.5,147.5 207.0,147.8 207.5,148.0 208.0,148.2 208.5,148.4 209.0,148.6 209.5,148.8 210.0,149.0 210.5,149.2 211.0,149.4 211.5,149.7 212.0,149.9 212.5,150.1 213.0,150.3 213.5,150.5 214.0,150.7 214.5,150.9 215.0,151.1 215.5,151.3 216.0,151.5 216.5,151.8 217.0,152.0 217.5,152.2 218.0,152.4 218.5,152.6 219.0,152.8 219.5,153.0 220.0,153.2 220.5,153.4 221.0,153.6 221.5,153.9 222.0,154.1 222.5,154.3 223.0,154.5 223.5,154.7 224.0,154.9 224.5,155.1 225.0,155.3 225.5,155.5 226.0,155.7 226.5,155.9 227.0,156.1 227.5,156.4 228.0,156.6 228.5,156.8 229.0,157.0 229.5,157.2 230.0,157.4 230.5,157.6 231.0,157.8 231.5,158.0 232.0,158.2 232.5,158.4 233.0,158.6 233.5,158.8 234.0,159.1 234.5,159.3 235.0,159.5 235.5,159.7 236.0,159.9 236.5,160.1 237.0,160.3 237.5,160.5 238.0,160.7 238.5,160.9 239.0,161.1 239.5,161.3 240.0,161.5 240.5,161.7 241.0,162.0 241.5,162.2 242.0,162.4 242.5,162.6 243.0,162.8 243.5,163.0 244.0,163.2 244.5,163.4 245.0,163.6 245.5,163.8 246.0,164.0 246.5,164.2 247.0,164.4 247.5,164.6 248.0,164.8 248.5,165.1 249.0,165.3 249.5,165.5 250.0,165.7 250.5,165.9 251.0,166.1 251.5,166.3 252.0,166.5 252.5,166.7 253.0,166.9 253.5,167.1 254.0,167.3 254.5,167.5 255.0,167.7 255.5,167.9 256.0,168.1 256.5,168.4 257.0,168.6 257.5,168.8 258.0,169.0 258.5,169.2 259.0,169.4 259.5,169.6 260.0,169.8 260.5,170.0 261.0,170.2 261.5,170.4 262.0,170.5" fill="none" stroke="#111" stroke-width="0.95" stroke-dasharray="3.5,2"/>
<polyline points="30.5,134.8 38.5,134.8 39.0,134.5 39.5,134.2 40.0,133.9 40.5,133.6 41.0,133.3 41.5,133.0 42.0,132.7 42.5,132.4 43.0,132.1 43.5,131.8 44.0,131.5 44.5,131.2 45.0,130.9 45.5,130.6 46.0,130.3 46.5,129.9 47.0,129.6 47.5,129.3 48.0,129.0 48.5,128.7 49.0,128.3 49.5,128.0 50.0,127.7 50.5,127.3 51.0,127.0 51.5,126.7 52.0,126.3 52.5,126.0 53.0,125.6 53.5,125.3 54.0,124.9 54.5,124.6 55.0,124.2 55.5,123.8 56.0,123.5 56.5,123.1 57.0,122.7 57.5,122.4 58.0,122.0 58.5,121.6 59.0,121.2 59.5,120.8 60.0,120.4 60.5,120.0 61.0,119.6 61.5,119.2 62.0,118.8 62.5,118.4 63.0,118.0 63.5,117.6 64.0,117.2 64.5,116.8 65.0,116.3 65.5,115.9 66.0,115.5 66.5,115.0 67.0,114.6 67.5,114.1 68.0,113.6 68.5,113.2 69.0,112.7 69.5,112.2 70.0,111.7 70.5,111.2 71.0,110.7 71.5,110.2 72.0,109.6 72.5,109.1 73.0,108.5 73.5,108.0 74.0,107.4 74.5,106.8 75.0,106.2 75.5,105.6 76.0,105.0 76.5,104.4 77.0,103.8 77.5,103.1 78.0,102.4 78.5,101.7 79.0,101.0 79.5,100.3 80.0,99.6 80.5,98.8 81.0,98.0 81.5,97.2 82.0,96.4 82.5,95.5 83.0,94.7 83.5,93.8 84.0,92.8 84.5,91.8 85.0,90.8 85.5,89.8 86.0,88.7 86.5,87.6 87.0,86.4 87.5,85.2 88.0,83.9 88.5,82.5 89.0,81.1 89.5,79.6 90.0,78.0 90.5,76.3 91.0,74.6 91.5,72.7 92.0,70.6 92.5,68.4 93.0,66.1 93.5,63.5 94.0,60.7 94.5,57.7 95.0,54.4 95.5,50.9 96.0,47.3 96.5,43.8 97.0,41.0 97.5,39.6 98.0,40.1 98.5,42.4 99.0,45.6 99.5,49.2 100.0,52.8 100.5,56.2 101.0,59.3 101.5,62.2 102.0,64.9 102.5,67.3 103.0,69.6 103.5,71.7 104.0,73.7 104.5,75.5 105.0,77.3 105.5,78.9 106.0,80.4 106.5,81.9 107.0,83.3 107.5,84.6 108.0,85.8 108.5,87.0 109.0,88.2 109.5,89.3 110.0,90.4 110.5,91.4 111.0,92.4 111.5,93.3 112.0,94.2 112.5,95.1 113.0,96.0 113.5,96.8 114.0,97.7 114.5,98.5 115.0,99.2 115.5,100.0 116.0,100.7 116.5,101.4 117.0,102.1 117.5,102.8 118.0,103.5 118.5,104.1 119.0,104.7 119.5,105.4 120.0,106.0 120.5,106.6 121.0,107.1 121.5,107.7 122.0,108.3 122.5,108.8 123.0,109.4 123.5,109.9 124.0,110.4 124.5,111.0 125.0,111.5 125.5,112.0 126.0,112.4 126.5,112.9 127.0,113.4 127.5,113.9 128.0,114.3 128.5,114.8 129.0,115.2 129.5,115.7 130.0,116.1 130.5,116.6 131.0,117.0 131.5,117.4 132.0,117.8 132.5,118.2 133.0,118.6 133.5,119.0 134.0,119.4 134.5,119.8 135.0,120.2 135.5,120.6 136.0,121.0 136.5,121.4 137.0,121.7 137.5,122.1 138.0,122.5 138.5,122.8 139.0,123.2 139.5,123.6 140.0,123.9 140.5,124.3 141.0,124.6 141.5,124.9 142.0,125.3 142.5,125.6 143.0,126.0 143.5,126.3 144.0,126.6 144.5,126.9 145.0,127.3 145.5,127.6 146.0,127.9 146.5,128.2 147.0,128.5 147.5,128.9 148.0,129.2 148.5,129.5 149.0,129.8 149.5,130.1 150.0,130.4 150.5,130.7 151.0,131.0 151.5,131.3 152.0,131.6 152.5,131.9 153.0,132.2 153.5,132.5 154.0,132.8 154.5,133.0 155.0,133.3 155.5,133.6 156.0,133.9 156.5,134.2 157.0,134.5 157.5,134.7 158.0,135.0 158.5,135.3 159.0,135.6 159.5,135.8 160.0,136.1 160.5,136.4 161.0,136.7 161.5,136.9 162.0,137.2 162.5,137.5 163.0,137.7 163.5,138.0 164.0,138.2 164.5,138.5 165.0,138.8 165.5,139.0 166.0,139.3 166.5,139.6 167.0,139.8 167.5,140.1 168.0,140.3 168.5,140.6 169.0,140.8 169.5,141.1 170.0,141.3 170.5,141.6 171.0,141.8 171.5,142.1 172.0,142.3 172.5,142.6 173.0,142.8 173.5,143.1 174.0,143.3 174.5,143.6 175.0,143.8 175.5,144.1 176.0,144.3 176.5,144.5 177.0,144.8 177.5,145.0 178.0,145.3 178.5,145.5 179.0,145.7 179.5,146.0 180.0,146.2 180.5,146.5 181.0,146.7 181.5,146.9 182.0,147.2 182.5,147.4 183.0,147.6 183.5,147.9 184.0,148.1 184.5,148.3 185.0,148.6 185.5,148.8 186.0,149.0 186.5,149.3 187.0,149.5 187.5,149.7 188.0,150.0 188.5,150.2 189.0,150.4 189.5,150.6 190.0,150.9 190.5,151.1 191.0,151.3 191.5,151.6 192.0,151.8 192.5,152.0 193.0,152.2 193.5,152.5 194.0,152.7 194.5,152.9 195.0,153.1 195.5,153.4 196.0,153.6 196.5,153.8 197.0,154.0 197.5,154.3 198.0,154.5 198.5,154.7 199.0,154.9 199.5,155.1 200.0,155.4 200.5,155.6 201.0,155.8 201.5,156.0 202.0,156.3 202.5,156.5 203.0,156.7 203.5,156.9 204.0,157.1 204.5,157.4 205.0,157.6 205.5,157.8 206.0,158.0 206.5,158.2 207.0,158.4 207.5,158.7 208.0,158.9 208.5,159.1 209.0,159.3 209.5,159.5 210.0,159.8 210.5,160.0 211.0,160.2 211.5,160.4 212.0,160.6 212.5,160.8 213.0,161.1 213.5,161.3 214.0,161.5 214.5,161.7 215.0,161.9 215.5,162.1 216.0,162.3 216.5,162.6 217.0,162.8 217.5,163.0 218.0,163.2 218.5,163.4 219.0,163.6 219.5,163.8 220.0,164.1 220.5,164.3 221.0,164.5 221.5,164.7 222.0,164.9 222.5,165.1 223.0,165.3 223.5,165.5 224.0,165.8 224.5,166.0 225.0,166.2 225.5,166.4 226.0,166.6 226.5,166.8 227.0,167.0 227.5,167.2 228.0,167.5 228.5,167.7 229.0,167.9 229.5,168.1 230.0,168.3 230.5,168.5 231.0,168.7 231.5,168.9 232.0,169.1 232.5,169.4 233.0,169.6 233.5,169.8 234.0,170.0 234.5,170.2 235.0,170.4 235.5,170.5" fill="none" stroke="#111" stroke-width="0.95" stroke-dasharray="3.5,2"/>
<polyline points="30.5,145.3 40.0,145.3 40.5,145.0 41.0,144.7 41.5,144.4 42.0,144.1 42.5,143.9 43.0,143.6 43.5,143.2 44.0,142.9 44.5,142.6 45.0,142.3 45.5,142.0 46.0,141.7 46.5,141.4 47.0,141.1 47.5,140.8 48.0,140.5 48.5,140.2 49.0,139.9 49.5,139.6 50.0,139.2 50.5,138.9 51.0,138.6 51.5,138.3 52.0,138.0 52.5,137.6 53.0,137.3 53.5,137.0 54.0,136.7 54.5,136.3 55.0,136.0 55.5,135.7 56.0,135.4 56.5,135.0 57.0,134.7 57.5,134.3 58.0,134.0 58.5,133.7 59.0,133.3 59.5,133.0 60.0,132.6 60.5,132.3 61.0,131.9 61.5,131.6 62.0,131.2 62.5,130.9 63.0,130.6 63.5,130.3 64.0,129.9 64.5,129.6 65.0,129.3 65.5,128.9 66.0,128.6 66.5,128.3 67.0,127.9 67.5,127.6 68.0,127.2 68.5,126.9 69.0,126.5 69.5,126.2 70.0,125.8 70.5,125.5 71.0,125.1 71.5,124.7 72.0,124.4 72.5,124.0 73.0,123.6 73.5,123.2 74.0,122.8 74.5,122.4 75.0,122.1 75.5,121.7 76.0,121.2 76.5,120.8 77.0,120.4 77.5,120.0 78.0,119.6 78.5,119.1 79.0,118.7 79.5,118.3 80.0,117.8 80.5,117.4 81.0,116.9 81.5,116.4 82.0,116.0 82.5,115.5 83.0,115.0 83.5,114.5 84.0,114.0 84.5,113.5 85.0,113.0 85.5,112.4 86.0,111.9 86.5,111.3 87.0,110.8 87.5,110.2 88.0,109.6 88.5,109.0 89.0,108.4 89.5,107.8 90.0,107.2 90.5,106.5 91.0,105.9 91.5,105.2 92.0,104.5 92.5,103.8 93.0,103.1 93.5,102.3 94.0,101.6 94.5,100.8 95.0,100.0 95.5,99.1 96.0,98.3 96.5,97.4 97.0,96.5 97.5,95.5 98.0,94.6 98.5,93.6 99.0,92.5 99.5,91.4 100.0,90.3 100.5,89.1 101.0,87.8 101.5,86.5 102.0,85.2 102.5,83.7 103.0,82.2 103.5,80.6 104.0,78.9 104.5,77.1 105.0,75.2 105.5,73.1 106.0,70.9 106.5,68.5 107.0,65.9 107.5,63.1 108.0,60.0 108.5,56.7 109.0,53.2 109.5,49.5 110.0,46.1 110.5,43.4 111.0,42.3 111.5,43.2 112.0,45.7 112.5,49.1 113.0,52.7 113.5,56.3 114.0,59.6 114.5,62.7 115.0,65.6 115.5,68.2 116.0,70.6 116.5,72.9 117.0,74.9 117.5,76.9 118.0,78.7 118.5,80.4 119.0,82.0 119.5,83.5 120.0,85.0 120.5,86.4 121.0,87.7 121.5,88.9 122.0,90.1 122.5,91.3 123.0,92.4 123.5,93.4 124.0,94.4 124.5,95.4 125.0,96.4 125.5,97.3 126.0,98.2 126.5,99.0 127.0,99.9 127.5,100.7 128.0,101.5 128.5,102.2 129.0,103.0 129.5,103.7 130.0,104.4 130.5,105.1 131.0,105.8 131.5,106.5 132.0,107.1 132.5,107.7 133.0,108.3 133.5,109.0 134.0,109.5 134.5,110.1 135.0,110.7 135.5,111.3 136.0,111.8 136.5,112.4 137.0,112.9 137.5,113.4 138.0,113.9 138.5,114.4 139.0,114.9 139.5,115.4 140.0,115.9 140.5,116.4 141.0,116.8 141.5,117.3 142.0,117.8 142.5,118.2 143.0,118.6 143.5,119.1 144.0,119.5 144.5,119.9 145.0,120.4 145.5,120.8 146.0,121.2 146.5,121.6 147.0,122.0 147.5,122.4 148.0,122.8 148.5,123.2 149.0,123.6 149.5,123.9 150.0,124.3 150.5,124.7 151.0,125.1 151.5,125.4 152.0,125.8 152.5,126.1 153.0,126.5 153.5,126.9 154.0,127.2 154.5,127.5 155.0,127.9 155.5,128.2 156.0,128.6 156.5,128.9 157.0,129.2 157.5,129.6 158.0,129.9 158.5,130.2 159.0,130.5 159.5,130.9 160.0,131.2 160.5,131.5 161.0,131.8 161.5,132.1 162.0,132.4 162.5,132.7 163.0,133.0 163.5,133.3 164.0,133.6 164.5,133.9 165.0,134.2 165.5,134.5 166.0,134.8 166.5,135.1 167.0,135.4 167.5,135.7 168.0,136.0 168.5,136.3 169.0,136.5 169.5,136.8 170.0,137.1 170.5,137.4 171.0,137.7 171.5,137.9 172.0,138.2 172.5,138.5 173.0,138.8 173.5,139.0 174.0,139.3 174.5,139.6 175.0,139.9 175.5,140.1 176.0,140.4 176.5,140.7 177.0,140.9 177.5,141.2 178.0,141.4 178.5,141.7 179.0,142.0 179.5,142.2 180.0,142.5 180.5,142.7 181.0,143.0 181.5,143.2 182.0,143.5 182.5,143.8 183.0,144.0 183.5,144.3 184.0,144.5 184.5,144.8 185.0,145.0 185.5,145.3 186.0,145.5 186.5,145.8 187.0,146.0 187.5,146.2 188.0,146.5 188.5,146.7 189.0,147.0 189.5,147.2 190.0,147.5 190.5,147.7 191.0,147.9 191.5,148.2 192.0,148.4 192.5,148.7 193.0,148.9 193.5,149.1 194.0,149.4 194.5,149.6 195.0,149.9 195.5,150.1 196.0,150.3 196.5,150.6 197.0,150.8 197.5,151.0 198.0,151.3 198.5,151.5 199.0,151.7 199.5,152.0 200.0,152.2 200.5,152.4 201.0,152.7 201.5,152.9 202.0,153.1 202.5,153.3 203.0,153.6 203.5,153.8 204.0,154.0 204.5,154.3 205.0,154.5 205.5,154.7 206.0,154.9 206.5,155.2 207.0,155.4 207.5,155.6 208.0,155.8 208.5,156.1 209.0,156.3 209.5,156.5 210.0,156.7 210.5,157.0 211.0,157.2 211.5,157.4 212.0,157.6 212.5,157.8 213.0,158.1 213.5,158.3 214.0,158.5 214.5,158.7 215.0,159.0 215.5,159.2 216.0,159.4 216.5,159.6 217.0,159.8 217.5,160.1 218.0,160.3 218.5,160.5 219.0,160.7 219.5,160.9 220.0,161.2 220.5,161.4 221.0,161.6 221.5,161.8 222.0,162.0 222.5,162.2 223.0,162.5 223.5,162.7 224.0,162.9 224.5,163.1 225.0,163.3 225.5,163.5 226.0,163.8 226.5,164.0 227.0,164.2 227.5,164.4 228.0,164.6 228.5,164.8 229.0,165.1 229.5,165.3 230.0,165.5 230.5,165.7 231.0,165.9 231.5,166.1 232.0,166.3 232.5,166.6 233.0,166.8 233.5,167.0 234.0,167.2 234.5,167.4 235.0,167.6 235.5,167.8 236.0,168.0 236.5,168.3 237.0,168.5 237.5,168.7 238.0,168.9 238.5,169.1 239.0,169.3 239.5,169.5 240.0,169.7 240.5,170.0 241.0,170.2 241.5,170.4 242.0,170.5" fill="none" stroke="#111" stroke-width="0.95" stroke-dasharray="3.5,2"/>
<polyline points="151.5,170.3 152.0,170.1 152.5,169.9 153.0,169.6 153.5,169.4 154.0,169.2 154.5,169.0 155.0,168.8 155.5,168.5 156.0,168.3 156.5,168.1 157.0,167.9 157.5,167.6 158.0,167.4 158.5,167.2 159.0,167.0 159.5,166.8 160.0,166.5 160.5,166.3 161.0,166.1 161.5,165.9 162.0,165.6 162.5,165.4 163.0,165.2 163.5,164.9 164.0,164.7 164.5,164.5 165.0,164.3 165.5,164.0 166.0,163.8 166.5,163.6 167.0,163.3 167.5,163.1 168.0,162.9 168.5,162.7 169.0,162.4 169.5,162.2 170.0,162.0 170.5,161.7 171.0,161.5 171.5,161.3 172.0,161.0 172.5,160.8 173.0,160.6 173.5,160.3 174.0,160.1 174.5,159.8 175.0,159.6 175.5,159.4 176.0,159.1 176.5,158.9 177.0,158.7 177.5,158.4 178.0,158.2 178.5,157.9 179.0,157.7 179.5,157.4 180.0,157.2 180.5,157.0 181.0,156.7 181.5,156.5 182.0,156.2 182.5,156.0 183.0,155.7 183.5,155.5 184.0,155.2 184.5,155.0 185.0,154.7 185.5,154.5 186.0,154.2 186.5,154.0 187.0,153.7 187.5,153.5 188.0,153.2 188.5,152.9 189.0,152.7 189.5,152.4 190.0,152.2 190.5,151.9 191.0,151.6 191.5,151.4 192.0,151.1 192.5,150.8 193.0,150.6 193.5,150.3 194.0,150.0 194.5,149.8 195.0,149.5 195.5,149.2 196.0,149.0 196.5,148.7 197.0,148.4 197.5,148.1 198.0,147.9 198.5,147.6 199.0,147.3 199.5,147.0 200.0,146.7 200.5,146.4 201.0,146.2 201.5,145.9 202.0,145.6 202.5,145.3 203.0,145.0 203.5,144.7 204.0,144.4 204.5,144.1 205.0,143.8 205.5,143.5 206.0,143.2 206.5,142.9 207.0,142.6 207.5,142.3 208.0,141.9 208.5,141.6 209.0,141.3 209.5,141.0 210.0,140.7 210.5,140.3 211.0,140.0 211.5,139.7 212.0,139.4 212.5,139.0 213.0,138.7 213.5,138.3 214.0,138.0 214.5,137.6 215.0,137.3 215.5,136.9 216.0,136.6 216.5,136.2 217.0,135.9 217.5,135.5 218.0,135.1 218.5,134.8 219.0,134.4 219.5,134.0 220.0,133.6 220.5,133.2 221.0,132.8 221.5,132.4 222.0,132.0 222.5,131.6 223.0,131.2 223.5,130.8 224.0,130.4 224.5,130.0 225.0,129.5 225.5,129.1 226.0,128.6 226.5,128.2 227.0,127.7 227.5,127.3 228.0,126.8 228.5,126.3 229.0,125.8 229.5,125.4 230.0,124.9 230.5,124.3 231.0,123.8 231.5,123.3 232.0,122.8 232.5,122.2 233.0,121.7 233.5,121.1 234.0,120.5 234.5,120.0 235.0,119.4 235.5,118.8 236.0,118.1 236.5,117.5 237.0,116.9 237.5,116.2 238.0,115.5 238.5,114.8 239.0,114.1 239.5,113.4 240.0,112.6 240.5,111.9 241.0,111.1 241.5,110.3 242.0,109.4 242.5,108.5 243.0,107.7 243.5,106.7 244.0,105.8 244.5,104.8 245.0,103.8 245.5,102.7 246.0,101.6 246.5,100.5 247.0,99.3 247.5,98.0 248.0,96.7 248.5,95.3 249.0,93.9 249.5,92.4 250.0,90.7 250.5,89.0 251.0,87.2 251.5,85.3 252.0,83.2 252.5,81.0 253.0,78.6 253.5,76.0 254.0,73.2 254.5,70.2 255.0,67.0 255.5,63.7 256.0,60.4 256.5,57.6 257.0,55.7 257.5,55.3 258.0,56.5 258.5,59.0 259.0,62.1 259.5,65.4 260.0,68.7 260.5,71.8 261.0,74.7 261.5,77.4 262.0,79.8 262.5,82.2 263.0,84.3 263.5,86.3 264.0,88.2 264.5,89.9 265.0,91.6 265.5,93.2 266.0,94.6 266.5,96.1 267.0,97.4 267.5,98.7 268.0,99.9 268.5,101.1 269.0,102.2 269.5,103.3 270.0,104.3 270.5,105.3 271.0,106.3 271.5,107.2 272.0,108.1 272.5,109.0 273.0,109.9 273.5,110.7 274.0,111.5 274.5,112.3 275.0,113.0 275.5,113.8 276.0,114.5 276.5,115.2 277.0,115.9 277.5,116.5 278.0,117.2 278.5,117.8 279.0,118.5 279.5,119.1 280.0,119.7 280.5,120.3 281.0,120.8 281.5,121.4 282.0,122.0 282.5,122.5" fill="none" stroke="#111" stroke-width="0.95" stroke-dasharray="3.5,2"/>
<polyline points="30.5,100.6 38.0,100.6 38.5,100.3 39.0,100.1 39.5,99.8 40.0,99.5 40.5,99.2 41.0,99.0 41.5,98.7 42.0,98.4 42.5,98.1 43.0,97.8 43.5,97.6 44.0,97.3 44.5,97.0 45.0,96.7 45.5,96.4 46.0,96.1 46.5,95.9 47.0,95.6 47.5,95.3 48.0,95.0 48.5,94.7 49.0,94.4 49.5,94.1 50.0,93.9 50.5,93.6 51.0,93.3 51.5,93.0 52.0,92.7 52.5,92.4 53.0,92.1 53.5,91.8 54.0,91.5 54.5,91.2 55.0,90.9 55.5,90.7 56.0,90.4 56.5,90.1 57.0,89.8 57.5,89.5 58.0,89.2 58.5,88.9 59.0,88.6 59.5,88.3 60.0,88.0 60.5,87.7 61.0,87.5 61.5,87.3 62.0,87.0 62.5,86.8 63.0,86.5 63.5,86.3 64.0,86.0 64.5,85.8 65.0,85.5 65.5,85.3 66.0,85.0 66.5,84.8 67.0,84.5 67.5,84.3 68.0,84.0 68.5,83.8 69.0,83.5 69.5,83.3 70.0,83.0 70.5,82.7 71.0,82.5 71.5,82.2 72.0,82.0 72.5,81.7 73.0,81.5 73.5,81.2 74.0,81.0 74.5,80.7 75.0,80.4 75.5,80.2 76.0,79.9 76.5,79.7 77.0,79.4 77.5,79.1 78.0,78.9 78.5,78.6 79.0,78.3 79.5,78.1 80.0,77.8 80.5,77.5 81.0,77.3 81.5,77.0 82.0,76.7 82.5,76.5 83.0,76.2 83.5,75.9 84.0,75.7 84.5,75.4 85.0,75.1 85.5,74.9 86.0,74.6 86.5,74.3 87.0,74.1 87.5,73.8 88.0,73.5 88.5,73.2 89.0,73.0 89.5,72.7 90.0,72.4 90.5,72.1 91.0,71.9 91.5,71.6 92.0,71.3 92.5,71.0 93.0,70.8 93.5,70.5 94.0,70.2 94.5,69.9 95.0,69.6 95.5,69.4 96.0,69.1 96.5,68.8 97.0,68.5 97.5,68.2 98.0,67.9 98.5,67.7 99.0,67.4 99.5,67.1 100.0,66.8 100.5,66.5 101.0,66.2 101.5,66.0 102.0,65.7 102.5,65.4 103.0,65.1 103.5,64.8 104.0,64.5 104.5,64.2 105.0,63.9 105.5,63.6 106.0,63.4 106.5,63.1 107.0,62.8 107.5,62.5 108.0,62.2 108.5,61.9 109.0,61.6 109.5,61.3 110.0,61.0 110.5,60.7 111.0,60.4 111.5,60.1 112.0,59.8 112.5,59.5 113.0,59.2 113.5,58.9 114.0,58.6 114.5,58.3 115.0,58.0 115.5,57.7 116.0,57.4 116.5,57.1 117.0,56.8 117.5,56.5 118.0,56.2 118.5,55.9 119.0,55.6 119.5,55.3 120.0,55.0 120.5,54.7 121.0,54.5 121.5,54.7 122.0,54.9 122.5,55.1 123.0,55.3 123.5,55.5 124.0,55.7 124.5,55.9 125.0,56.1 125.5,56.3 126.0,56.5 126.5,56.7 127.0,56.9 127.5,57.1 128.0,57.3 128.5,57.5 129.0,57.7 129.5,57.9 130.0,58.1 130.5,58.4 131.0,58.6 131.5,58.8 132.0,59.0 132.5,59.2 133.0,59.4 133.5,59.6 134.0,59.8 134.5,60.0 135.0,60.2 135.5,60.4 136.0,60.6 136.5,60.8 137.0,61.0 137.5,61.2 138.0,61.4 138.5,61.6 139.0,61.8 139.5,62.0 140.0,62.2 140.5,62.4 141.0,62.7 141.5,62.9 142.0,63.1 142.5,63.3 143.0,63.5 143.5,63.7 144.0,63.9 144.5,64.1 145.0,64.3 145.5,64.5 146.0,64.7 146.5,64.9 147.0,65.1 147.5,65.3 148.0,65.5 148.5,65.7 149.0,65.9 149.5,66.1 150.0,66.3 150.5,66.5 151.0,66.7 151.5,66.9 152.0,67.2 152.5,67.4 153.0,67.6 153.5,67.8 154.0,68.0 154.5,68.2 155.0,68.4 155.5,68.6 156.0,68.8 156.5,69.0 157.0,69.2 157.5,69.4 158.0,69.6 158.5,69.8 159.0,70.0 159.5,70.2 160.0,70.4 160.5,70.6 161.0,70.8 161.5,71.0 162.0,71.2 162.5,71.5 163.0,71.7 163.5,71.9 164.0,72.1 164.5,72.3 165.0,72.5 165.5,72.7 166.0,72.9 166.5,73.1 167.0,73.3 167.5,73.5 168.0,73.7 168.5,73.9 169.0,74.1 169.5,74.3 170.0,74.5 170.5,74.7 171.0,74.9 171.5,75.1 172.0,75.3 172.5,75.5 173.0,75.7 173.5,76.0 174.0,76.2 174.5,76.4 175.0,76.6 175.5,76.8 176.0,77.0 176.5,77.2 177.0,77.4 177.5,77.6 178.0,77.8 178.5,78.0 179.0,78.2 179.5,78.4 180.0,78.6 180.5,78.8 181.0,79.0 181.5,79.2 182.0,79.4 182.5,79.6 183.0,79.8 183.5,80.0 184.0,80.2 184.5,80.5 185.0,80.7 185.5,80.9 186.0,81.1 186.5,81.3 187.0,81.5 187.5,81.7 188.0,81.9 188.5,82.1 189.0,82.3 189.5,82.5 190.0,82.7 190.5,82.9 191.0,83.1 191.5,83.3 192.0,83.5 192.5,83.7 193.0,83.9 193.5,84.1 194.0,84.3 194.5,84.5 195.0,84.8 195.5,85.0 196.0,85.2 196.5,85.4 197.0,85.6 197.5,85.8 198.0,86.0 198.5,86.2 199.0,86.4 199.5,86.6 200.0,86.8 200.5,87.0 201.0,87.2 201.5,87.4 202.0,87.6 202.5,87.8 203.0,88.0 203.5,88.2 204.0,88.4 204.5,88.6 205.0,88.8 205.5,89.0 206.0,89.3 206.5,89.5 207.0,89.7 207.5,89.9 208.0,90.1 208.5,90.3 209.0,90.5 209.5,90.7 210.0,90.9 210.5,91.1 211.0,91.3 211.5,91.5 212.0,91.7 212.5,91.9 213.0,92.1 213.5,92.3 214.0,92.5 214.5,92.7 215.0,92.9 215.5,93.1 216.0,93.3 216.5,93.6 217.0,93.8 217.5,94.0 218.0,94.2 218.5,94.4 219.0,94.6 219.5,94.8 220.0,95.0 220.5,95.2 221.0,95.4 221.5,95.6 222.0,95.8 222.5,96.0 223.0,96.2 223.5,96.4 224.0,96.6 224.5,96.8 225.0,97.0 225.5,97.2 226.0,97.4 226.5,97.6 227.0,97.8 227.5,98.1 228.0,98.3 228.5,98.5 229.0,98.7 229.5,98.9 230.0,99.1 230.5,99.3 231.0,99.5 231.5,99.7 232.0,99.9 232.5,100.1 233.0,100.3 233.5,100.5 234.0,100.7 234.5,100.9 235.0,101.1 235.5,101.3 236.0,101.5 236.5,101.7 237.0,101.9 237.5,102.1 238.0,102.4 238.5,102.6 239.0,102.8 239.5,103.0 240.0,103.2 240.5,103.4 241.0,103.6 241.5,103.8 242.0,104.0 242.5,104.2 243.0,104.4 243.5,104.6 244.0,104.8 244.5,105.0 245.0,105.2 245.5,105.4 246.0,105.6 246.5,105.8 247.0,106.0 247.5,106.2 248.0,106.4 248.5,106.6 249.0,106.9 249.5,107.1 250.0,107.3 250.5,107.5 251.0,107.7 251.5,107.9 252.0,108.1 252.5,108.3 253.0,108.5 253.5,108.7 254.0,108.9 254.5,109.1 255.0,109.3 255.5,109.5 256.0,109.7 256.5,109.9 257.0,110.1 257.5,110.3 258.0,110.5 258.5,110.7 259.0,110.9 259.5,111.2 260.0,111.4 260.5,111.6 261.0,111.8 261.5,112.0 262.0,112.2 262.5,112.4 263.0,112.6 263.5,112.8 264.0,113.0 264.5,113.2 265.0,113.4 265.5,113.6 266.0,113.8 266.5,114.0 267.0,114.2 267.5,114.4 268.0,114.6 268.5,114.8 269.0,115.0 269.5,115.2 270.0,115.4 270.5,115.7 271.0,115.9 271.5,116.1 272.0,116.3 272.5,116.5 273.0,116.7 273.5,116.9 274.0,117.1 274.5,117.3 275.0,117.5 275.5,117.7 276.0,117.9 276.5,118.1 277.0,118.3 277.5,118.5 278.0,118.7 278.5,118.9 279.0,119.1 279.5,119.3 280.0,119.5 280.5,119.7 281.0,119.9 281.5,120.2 282.0,120.4 282.5,120.6" fill="none" stroke="#111" stroke-width="0.95" stroke-dasharray="4,2"/>
<polyline points="36.2,90.4 43.0,85.6 49.9,80.8 54.5,76.5 58.2,71.1 62.3,65.5 66.5,52.0 70.8,34.4 75.8,18.9 78.2,28.0 79.8,36.2 81.1,45.0 82.6,51.5 84.1,55.6 87.3,59.2 90.4,58.4 92.3,53.5 93.9,47.8 95.6,39.0 96.7,36.6 98.2,36.8 99.5,41.0 100.8,47.8 102.3,53.0 103.8,55.2 105.4,55.0 106.8,52.5 108.8,44.8 110.3,39.5 111.2,39.0 112.7,42.8 114.7,49.8 116.5,52.6 118.5,53.4 120.6,53.5 124.0,54.2 125.0,55.1 125.4,55.3 125.8,55.5 126.2,55.7 126.6,55.9 127.0,56.1 127.4,56.3 127.8,56.4 128.2,56.6 128.6,56.8 129.0,57.0 129.4,57.2 129.8,57.3 130.2,57.5 130.6,57.7 131.0,57.9 131.4,58.0 131.8,58.2 132.2,58.4 132.6,58.6 133.0,58.7 133.4,58.9 133.8,59.1 134.2,59.3 134.6,59.4 135.0,59.6 135.4,59.8 135.8,59.9 136.2,60.1 136.6,60.3 137.0,60.5 137.4,60.6 137.8,60.8 138.2,61.0 138.6,61.1 139.0,61.3 139.4,61.5 139.8,61.6 140.2,61.8 140.6,62.0 141.0,62.2 141.4,62.3 141.8,62.5 142.2,62.7 142.6,62.8 143.0,63.0 143.4,63.2 143.8,63.3 144.2,63.5 144.6,63.7 145.0,63.8 145.4,64.0 145.8,64.2 146.2,64.3 146.6,64.5 147.0,64.7 147.4,64.8 147.8,65.0 148.2,65.2 148.6,65.3 149.0,65.5 149.4,65.7 149.8,65.8 150.2,66.0 150.6,66.2 151.0,66.3 151.4,66.5 151.8,66.7 152.2,66.8 152.6,67.0 153.0,67.2 153.4,67.3 153.8,67.5 154.2,67.7 154.6,67.8 155.0,68.0 155.4,68.1 155.8,68.3 156.2,68.5 156.6,68.6 157.0,68.8 157.4,69.0 157.8,69.1 158.2,69.3 158.6,69.5 159.0,69.6 159.4,69.8 159.8,70.0 160.2,70.1 160.6,70.3 161.0,70.5 161.4,70.6 161.8,70.8 162.2,71.0 162.6,71.1 163.0,71.3 163.4,71.4 163.8,71.6 164.2,71.8 164.6,71.9 165.0,72.1 165.4,72.3 165.8,72.4 166.2,72.6 166.6,72.8 167.0,72.9 167.4,73.1 167.8,73.3 168.2,73.4 168.6,73.6 169.0,73.8 169.4,73.9 169.8,74.1 170.2,74.2 170.6,74.4 171.0,74.6 171.4,74.7 171.8,74.9 172.2,75.1 172.6,75.2 173.0,75.4 173.4,75.6 173.8,75.7 174.2,75.9 174.6,76.0 175.0,76.2 175.4,76.4 175.8,76.5 176.2,76.7 176.6,76.9 177.0,77.0 177.4,77.2 177.8,77.4 178.2,77.5 178.6,77.7 179.0,77.9 179.4,78.0 179.8,78.2 180.2,78.3 180.6,78.5 181.0,78.7 181.4,78.8 181.8,79.0 182.2,79.2 182.6,79.3 183.0,79.5 183.4,79.6 183.8,79.8 184.2,80.0 184.6,80.1 185.0,80.3 185.4,80.5 185.8,80.6 186.2,80.8 186.6,81.0 187.0,81.1 187.4,81.3 187.8,81.4 188.2,81.6 188.6,81.8 189.0,81.9 189.4,82.1 189.8,82.3 190.2,82.4 190.6,82.6 191.0,82.7 191.4,82.9 191.8,83.1 192.2,83.2 192.6,83.4 193.0,83.5 193.4,83.7 193.8,83.9 194.2,84.0 194.6,84.2 195.0,84.4 195.4,84.5 195.8,84.7 196.2,84.8 196.6,85.0 197.0,85.2 197.4,85.3 197.8,85.5 198.2,85.6 198.6,85.8 199.0,86.0 199.4,86.1 199.8,86.3 200.2,86.4 200.6,86.6 201.0,86.8 201.4,86.9 201.8,87.1 202.2,87.2 202.6,87.4 203.0,87.6 203.4,87.7 203.8,87.9 204.2,88.0 204.6,88.2 205.0,88.4 205.4,88.5 205.8,88.7 206.2,88.8 206.6,89.0 207.0,89.1 207.4,89.3 207.8,89.5 208.2,89.6 208.6,89.8 209.0,89.9 209.4,90.1 209.8,90.2 210.2,90.4 210.6,90.6 211.0,90.7 211.4,90.9 211.8,91.0 212.2,91.2 212.6,91.3 213.0,91.5 213.4,91.6 213.8,91.8 214.2,91.9 214.6,92.1 215.0,92.2 215.4,92.4 215.8,92.5 216.2,92.7 216.6,92.8 217.0,93.0 217.4,93.1 217.8,93.3 218.2,93.4 218.6,93.6 219.0,93.7 219.4,93.8 219.8,94.0 220.2,94.1 220.6,94.3 221.0,94.4 221.4,94.5 221.8,94.7 222.2,94.8 222.6,94.9 223.0,95.1 223.4,95.2 223.8,95.3 224.2,95.5 224.6,95.6 225.0,95.7 225.4,95.9 225.8,96.0 226.2,96.1 226.6,96.2 227.0,96.3 227.4,96.4 227.8,96.6 228.2,96.7 228.6,96.8 229.0,96.9 229.4,97.0 229.8,97.1 230.2,97.2 230.6,97.3 231.0,97.4 231.4,97.5 231.8,97.5 232.2,97.6 232.6,97.7 233.0,97.8 233.4,97.8 233.8,97.9 234.2,97.9 234.6,98.0 235.0,98.0 235.4,98.1 235.8,98.1 236.2,98.1 236.6,98.1 237.0,98.1 237.4,98.1 237.8,98.1 238.2,98.1 238.6,98.0 239.0,98.0 239.4,97.9 239.8,97.9 240.2,97.8 240.6,97.7 241.0,97.6 241.4,97.4 241.8,97.3 242.2,97.1 242.6,96.9 243.0,96.7 243.4,96.5 243.8,96.2 244.2,96.0 244.6,95.7 245.0,95.3 245.4,94.9 245.8,94.5 246.2,94.1 246.6,93.6 247.0,93.1 247.4,92.5 247.8,91.9 248.2,91.2 248.6,90.5 249.0,89.7 249.4,88.9 249.8,87.9 250.2,86.9 250.6,85.9 251.0,84.7 251.4,83.4 251.8,82.1 252.2,80.6 252.6,79.0 253.0,77.3 253.4,75.4 253.8,73.4 254.2,71.3 254.6,69.0 255.0,66.5 255.4,63.9 255.8,61.4 256.2,58.9 256.6,56.9 257.0,55.5 257.4,55.0 257.8,55.6 258.2,57.2 258.6,59.3 259.0,61.8 259.4,64.4 259.8,66.9 260.2,69.4 260.6,71.7 261.0,73.9 261.4,76.0 261.8,77.9 262.2,79.7 262.6,81.3 263.0,82.9 263.4,84.3 263.8,85.7 264.2,87.0 264.6,88.2 265.0,89.3 265.4,90.4 265.8,91.4 266.2,92.4 266.6,93.3 267.0,94.2 267.4,95.0 267.8,95.8 268.2,96.6 268.6,97.3 269.0,98.0 269.4,98.7 269.8,99.3 270.2,99.9 270.6,100.5 271.0,101.1 271.4,101.6 271.8,102.2 272.2,102.7 272.6,103.2 273.0,103.7 273.4,104.2 273.8,104.6 274.2,105.1 274.6,105.5 275.0,105.9 275.4,106.3 275.8,106.7 276.2,107.1 276.6,107.5 277.0,107.9 277.4,108.2 277.8,108.6 278.2,108.9 278.6,109.3 279.0,109.6 279.4,110.0 279.8,110.3 280.2,110.6 280.6,110.9 281.0,111.2 281.4,111.5 281.8,111.8 282.2,112.1" fill="none" stroke="#1a1a1a" stroke-width="1.0" stroke-linejoin="round"/>
<clipPath id="rclip"><rect x="30.5" y="170.5" width="252" height="39.4"/></clipPath><g clip-path="url(#rclip)"><line x1="113.0" y1="178.7" x2="113.0" y2="194.5" stroke="#888" stroke-width="0.8" stroke-opacity="0.85"/><line x1="114.4" y1="187.0" x2="114.4" y2="202.8" stroke="#999" stroke-width="0.8" stroke-opacity="0.85"/><line x1="115.7" y1="180.1" x2="115.7" y2="195.9" stroke="#999" stroke-width="0.8" stroke-opacity="0.85"/><line x1="117.1" y1="176.1" x2="117.1" y2="191.9" stroke="#999" stroke-width="0.8" stroke-opacity="0.85"/><line x1="118.0" y1="191.1" x2="118.0" y2="206.9" stroke="#777" stroke-width="0.8" stroke-opacity="0.85"/><line x1="119.0" y1="184.7" x2="119.0" y2="200.5" stroke="#777" stroke-width="0.8" stroke-opacity="0.85"/><line x1="120.0" y1="184.8" x2="120.0" y2="200.6" stroke="#777" stroke-width="0.8" stroke-opacity="0.85"/><line x1="121.4" y1="186.2" x2="121.4" y2="202.0" stroke="#777" stroke-width="0.8" stroke-opacity="0.85"/><line x1="122.6" y1="186.4" x2="122.6" y2="202.2" stroke="#444" stroke-width="0.8" stroke-opacity="0.85"/><line x1="123.9" y1="191.5" x2="123.9" y2="207.3" stroke="#555" stroke-width="0.8" stroke-opacity="0.85"/><line x1="125.4" y1="176.7" x2="125.4" y2="192.5" stroke="#666" stroke-width="0.8" stroke-opacity="0.85"/><line x1="126.8" y1="188.8" x2="126.8" y2="204.6" stroke="#444" stroke-width="0.8" stroke-opacity="0.85"/><line x1="127.6" y1="177.2" x2="127.6" y2="193.0" stroke="#888" stroke-width="0.8" stroke-opacity="0.85"/><line x1="128.6" y1="186.2" x2="128.6" y2="202.0" stroke="#555" stroke-width="0.8" stroke-opacity="0.85"/><line x1="129.8" y1="199.6" x2="129.8" y2="215.4" stroke="#444" stroke-width="0.8" stroke-opacity="0.85"/><line x1="131.3" y1="187.1" x2="131.3" y2="202.9" stroke="#777" stroke-width="0.8" stroke-opacity="0.85"/><line x1="132.5" y1="181.2" x2="132.5" y2="197.0" stroke="#999" stroke-width="0.8" stroke-opacity="0.85"/><line x1="134.0" y1="187.0" x2="134.0" y2="202.8" stroke="#999" stroke-width="0.8" stroke-opacity="0.85"/><line x1="135.5" y1="177.7" x2="135.5" y2="193.5" stroke="#555" stroke-width="0.8" stroke-opacity="0.85"/><line x1="137.1" y1="179.1" x2="137.1" y2="194.9" stroke="#444" stroke-width="0.8" stroke-opacity="0.85"/><line x1="138.5" y1="174.7" x2="138.5" y2="190.5" stroke="#888" stroke-width="0.8" stroke-opacity="0.85"/><line x1="139.6" y1="177.2" x2="139.6" y2="193.0" stroke="#777" stroke-width="0.8" stroke-opacity="0.85"/><line x1="140.4" y1="180.5" x2="140.4" y2="196.3" stroke="#444" stroke-width="0.8" stroke-opacity="0.85"/><line x1="141.6" y1="192.2" x2="141.6" y2="208.0" stroke="#666" stroke-width="0.8" stroke-opacity="0.85"/><line x1="142.8" y1="177.2" x2="142.8" y2="193.0" stroke="#444" stroke-width="0.8" stroke-opacity="0.85"/><line x1="143.8" y1="183.4" x2="143.8" y2="199.2" stroke="#888" stroke-width="0.8" stroke-opacity="0.85"/><line x1="145.4" y1="199.3" x2="145.4" y2="215.1" stroke="#777" stroke-width="0.8" stroke-opacity="0.85"/><line x1="146.6" y1="174.1" x2="146.6" y2="189.9" stroke="#444" stroke-width="0.8" stroke-opacity="0.85"/><line x1="148.0" y1="168.4" x2="148.0" y2="184.2" stroke="#999" stroke-width="0.8" stroke-opacity="0.85"/><line x1="149.0" y1="189.6" x2="149.0" y2="205.4" stroke="#555" stroke-width="0.8" stroke-opacity="0.85"/><line x1="150.0" y1="191.3" x2="150.0" y2="207.1" stroke="#999" stroke-width="0.8" stroke-opacity="0.85"/><line x1="151.5" y1="180.4" x2="151.5" y2="196.2" stroke="#666" stroke-width="0.8" stroke-opacity="0.85"/><line x1="152.9" y1="189.5" x2="152.9" y2="205.3" stroke="#999" stroke-width="0.8" stroke-opacity="0.85"/><line x1="153.4" y1="179.2" x2="153.4" y2="195.0" stroke="#555" stroke-width="0.8" stroke-opacity="0.85"/><line x1="153.9" y1="188.3" x2="153.9" y2="204.1" stroke="#777" stroke-width="0.8" stroke-opacity="0.85"/><line x1="154.6" y1="171.8" x2="154.6" y2="187.6" stroke="#777" stroke-width="0.8" stroke-opacity="0.85"/><line x1="155.1" y1="183.6" x2="155.1" y2="199.4" stroke="#999" stroke-width="0.8" stroke-opacity="0.85"/><line x1="155.8" y1="189.0" x2="155.8" y2="204.8" stroke="#666" stroke-width="0.8" stroke-opacity="0.85"/><line x1="156.5" y1="174.4" x2="156.5" y2="190.2" stroke="#777" stroke-width="0.8" stroke-opacity="0.85"/><line x1="157.2" y1="169.5" x2="157.2" y2="185.3" stroke="#555" stroke-width="0.8" stroke-opacity="0.85"/><line x1="158.1" y1="174.7" x2="158.1" y2="190.5" stroke="#777" stroke-width="0.8" stroke-opacity="0.85"/><line x1="158.5" y1="175.2" x2="158.5" y2="191.0" stroke="#555" stroke-width="0.8" stroke-opacity="0.85"/><line x1="159.2" y1="196.1" x2="159.2" y2="211.9" stroke="#666" stroke-width="0.8" stroke-opacity="0.85"/><line x1="159.9" y1="181.4" x2="159.9" y2="197.2" stroke="#444" stroke-width="0.8" stroke-opacity="0.85"/><line x1="160.6" y1="182.4" x2="160.6" y2="198.2" stroke="#666" stroke-width="0.8" stroke-opacity="0.85"/><line x1="161.3" y1="194.8" x2="161.3" y2="210.6" stroke="#555" stroke-width="0.8" stroke-opacity="0.85"/><line x1="162.1" y1="189.1" x2="162.1" y2="204.9" stroke="#666" stroke-width="0.8" stroke-opacity="0.85"/><line x1="162.9" y1="180.6" x2="162.9" y2="196.4" stroke="#888" stroke-width="0.8" stroke-opacity="0.85"/><line x1="163.4" y1="175.5" x2="163.4" y2="191.3" stroke="#999" stroke-width="0.8" stroke-opacity="0.85"/><line x1="164.1" y1="180.4" x2="164.1" y2="196.2" stroke="#888" stroke-width="0.8" stroke-opacity="0.85"/><line x1="164.9" y1="192.9" x2="164.9" y2="208.7" stroke="#666" stroke-width="0.8" stroke-opacity="0.85"/><line x1="165.4" y1="185.6" x2="165.4" y2="201.4" stroke="#999" stroke-width="0.8" stroke-opacity="0.85"/><line x1="166.2" y1="190.7" x2="166.2" y2="206.5" stroke="#999" stroke-width="0.8" stroke-opacity="0.85"/><line x1="167.0" y1="187.7" x2="167.0" y2="203.5" stroke="#555" stroke-width="0.8" stroke-opacity="0.85"/><line x1="167.8" y1="184.4" x2="167.8" y2="200.2" stroke="#777" stroke-width="0.8" stroke-opacity="0.85"/><line x1="168.5" y1="175.1" x2="168.5" y2="190.9" stroke="#555" stroke-width="0.8" stroke-opacity="0.85"/><line x1="169.2" y1="179.6" x2="169.2" y2="195.4" stroke="#555" stroke-width="0.8" stroke-opacity="0.85"/><line x1="169.9" y1="196.2" x2="169.9" y2="212.0" stroke="#444" stroke-width="0.8" stroke-opacity="0.85"/><line x1="170.4" y1="186.0" x2="170.4" y2="201.8" stroke="#666" stroke-width="0.8" stroke-opacity="0.85"/><line x1="171.0" y1="192.2" x2="171.0" y2="208.0" stroke="#777" stroke-width="0.8" stroke-opacity="0.85"/><line x1="171.6" y1="186.5" x2="171.6" y2="202.3" stroke="#777" stroke-width="0.8" stroke-opacity="0.85"/><line x1="172.5" y1="184.5" x2="172.5" y2="200.3" stroke="#666" stroke-width="0.8" stroke-opacity="0.85"/><line x1="173.2" y1="186.5" x2="173.2" y2="202.3" stroke="#444" stroke-width="0.8" stroke-opacity="0.85"/><line x1="173.6" y1="171.4" x2="173.6" y2="187.2" stroke="#666" stroke-width="0.8" stroke-opacity="0.85"/><line x1="174.4" y1="179.2" x2="174.4" y2="195.0" stroke="#444" stroke-width="0.8" stroke-opacity="0.85"/><line x1="175.1" y1="197.6" x2="175.1" y2="213.4" stroke="#444" stroke-width="0.8" stroke-opacity="0.85"/><line x1="175.6" y1="181.0" x2="175.6" y2="196.8" stroke="#777" stroke-width="0.8" stroke-opacity="0.85"/><line x1="176.3" y1="190.0" x2="176.3" y2="205.8" stroke="#666" stroke-width="0.8" stroke-opacity="0.85"/><line x1="176.9" y1="170.5" x2="176.9" y2="186.3" stroke="#888" stroke-width="0.8" stroke-opacity="0.85"/><line x1="177.5" y1="177.5" x2="177.5" y2="193.3" stroke="#666" stroke-width="0.8" stroke-opacity="0.85"/><line x1="178.2" y1="185.5" x2="178.2" y2="201.3" stroke="#888" stroke-width="0.8" stroke-opacity="0.85"/><line x1="178.6" y1="184.1" x2="178.6" y2="199.9" stroke="#777" stroke-width="0.8" stroke-opacity="0.85"/><line x1="179.2" y1="176.0" x2="179.2" y2="191.8" stroke="#888" stroke-width="0.8" stroke-opacity="0.85"/><line x1="180.1" y1="177.9" x2="180.1" y2="193.7" stroke="#555" stroke-width="0.8" stroke-opacity="0.85"/><line x1="180.8" y1="187.2" x2="180.8" y2="203.0" stroke="#444" stroke-width="0.8" stroke-opacity="0.85"/><line x1="181.4" y1="185.0" x2="181.4" y2="200.8" stroke="#888" stroke-width="0.8" stroke-opacity="0.85"/><line x1="182.3" y1="177.0" x2="182.3" y2="192.8" stroke="#444" stroke-width="0.8" stroke-opacity="0.85"/><line x1="183.0" y1="171.5" x2="183.0" y2="187.3" stroke="#777" stroke-width="0.8" stroke-opacity="0.85"/><line x1="183.7" y1="179.7" x2="183.7" y2="195.5" stroke="#444" stroke-width="0.8" stroke-opacity="0.85"/><line x1="184.3" y1="180.8" x2="184.3" y2="196.6" stroke="#777" stroke-width="0.8" stroke-opacity="0.85"/><line x1="185.0" y1="181.1" x2="185.0" y2="196.9" stroke="#999" stroke-width="0.8" stroke-opacity="0.85"/><line x1="185.5" y1="191.4" x2="185.5" y2="207.2" stroke="#777" stroke-width="0.8" stroke-opacity="0.85"/><line x1="186.2" y1="182.5" x2="186.2" y2="198.3" stroke="#999" stroke-width="0.8" stroke-opacity="0.85"/><line x1="186.9" y1="187.9" x2="186.9" y2="203.7" stroke="#444" stroke-width="0.8" stroke-opacity="0.85"/><line x1="187.4" y1="196.0" x2="187.4" y2="211.8" stroke="#999" stroke-width="0.8" stroke-opacity="0.85"/><line x1="188.1" y1="185.6" x2="188.1" y2="201.4" stroke="#999" stroke-width="0.8" stroke-opacity="0.85"/><line x1="188.6" y1="185.6" x2="188.6" y2="201.4" stroke="#444" stroke-width="0.8" stroke-opacity="0.85"/><line x1="189.2" y1="169.3" x2="189.2" y2="185.1" stroke="#444" stroke-width="0.8" stroke-opacity="0.85"/><line x1="189.8" y1="172.8" x2="189.8" y2="188.6" stroke="#555" stroke-width="0.8" stroke-opacity="0.85"/><line x1="190.6" y1="187.6" x2="190.6" y2="203.4" stroke="#666" stroke-width="0.8" stroke-opacity="0.85"/><line x1="191.1" y1="184.6" x2="191.1" y2="200.4" stroke="#444" stroke-width="0.8" stroke-opacity="0.85"/><line x1="191.7" y1="191.7" x2="191.7" y2="207.5" stroke="#444" stroke-width="0.8" stroke-opacity="0.85"/><line x1="192.3" y1="178.2" x2="192.3" y2="194.0" stroke="#888" stroke-width="0.8" stroke-opacity="0.85"/><line x1="192.7" y1="173.0" x2="192.7" y2="188.8" stroke="#888" stroke-width="0.8" stroke-opacity="0.85"/><line x1="193.5" y1="173.7" x2="193.5" y2="189.5" stroke="#777" stroke-width="0.8" stroke-opacity="0.85"/><line x1="194.1" y1="175.5" x2="194.1" y2="191.3" stroke="#888" stroke-width="0.8" stroke-opacity="0.85"/><line x1="195.0" y1="181.9" x2="195.0" y2="197.7" stroke="#999" stroke-width="0.8" stroke-opacity="0.85"/><line x1="195.9" y1="189.7" x2="195.9" y2="205.5" stroke="#444" stroke-width="0.8" stroke-opacity="0.85"/><line x1="196.3" y1="181.4" x2="196.3" y2="197.2" stroke="#777" stroke-width="0.8" stroke-opacity="0.85"/><line x1="196.8" y1="181.8" x2="196.8" y2="197.6" stroke="#444" stroke-width="0.8" stroke-opacity="0.85"/><line x1="197.2" y1="181.5" x2="197.2" y2="197.3" stroke="#999" stroke-width="0.8" stroke-opacity="0.85"/><line x1="197.7" y1="179.5" x2="197.7" y2="195.3" stroke="#444" stroke-width="0.8" stroke-opacity="0.85"/><line x1="198.2" y1="183.1" x2="198.2" y2="198.9" stroke="#444" stroke-width="0.8" stroke-opacity="0.85"/><line x1="198.7" y1="189.6" x2="198.7" y2="205.4" stroke="#999" stroke-width="0.8" stroke-opacity="0.85"/><line x1="199.2" y1="185.8" x2="199.2" y2="201.6" stroke="#444" stroke-width="0.8" stroke-opacity="0.85"/><line x1="199.8" y1="182.7" x2="199.8" y2="198.5" stroke="#555" stroke-width="0.8" stroke-opacity="0.85"/><line x1="200.5" y1="193.5" x2="200.5" y2="209.3" stroke="#444" stroke-width="0.8" stroke-opacity="0.85"/><line x1="201.1" y1="190.3" x2="201.1" y2="206.1" stroke="#999" stroke-width="0.8" stroke-opacity="0.85"/><line x1="202.0" y1="185.5" x2="202.0" y2="201.3" stroke="#666" stroke-width="0.8" stroke-opacity="0.85"/><line x1="202.8" y1="180.8" x2="202.8" y2="196.6" stroke="#444" stroke-width="0.8" stroke-opacity="0.85"/><line x1="203.2" y1="181.9" x2="203.2" y2="197.7" stroke="#999" stroke-width="0.8" stroke-opacity="0.85"/><line x1="204.0" y1="187.7" x2="204.0" y2="203.5" stroke="#666" stroke-width="0.8" stroke-opacity="0.85"/><line x1="204.7" y1="187.3" x2="204.7" y2="203.1" stroke="#555" stroke-width="0.8" stroke-opacity="0.85"/><line x1="205.6" y1="177.5" x2="205.6" y2="193.3" stroke="#666" stroke-width="0.8" stroke-opacity="0.85"/><line x1="206.2" y1="190.9" x2="206.2" y2="206.7" stroke="#888" stroke-width="0.8" stroke-opacity="0.85"/><line x1="206.9" y1="186.7" x2="206.9" y2="202.5" stroke="#444" stroke-width="0.8" stroke-opacity="0.85"/><line x1="207.5" y1="181.7" x2="207.5" y2="197.5" stroke="#999" stroke-width="0.8" stroke-opacity="0.85"/><line x1="208.0" y1="179.9" x2="208.0" y2="195.7" stroke="#777" stroke-width="0.8" stroke-opacity="0.85"/><line x1="208.9" y1="190.2" x2="208.9" y2="206.0" stroke="#888" stroke-width="0.8" stroke-opacity="0.85"/><line x1="209.5" y1="184.4" x2="209.5" y2="200.2" stroke="#999" stroke-width="0.8" stroke-opacity="0.85"/><line x1="210.2" y1="172.8" x2="210.2" y2="188.6" stroke="#888" stroke-width="0.8" stroke-opacity="0.85"/><line x1="210.8" y1="197.9" x2="210.8" y2="213.7" stroke="#555" stroke-width="0.8" stroke-opacity="0.85"/><line x1="211.5" y1="194.6" x2="211.5" y2="210.4" stroke="#666" stroke-width="0.8" stroke-opacity="0.85"/><line x1="212.2" y1="177.2" x2="212.2" y2="193.0" stroke="#777" stroke-width="0.8" stroke-opacity="0.85"/><line x1="212.9" y1="183.3" x2="212.9" y2="199.1" stroke="#888" stroke-width="0.8" stroke-opacity="0.85"/><line x1="213.7" y1="181.7" x2="213.7" y2="197.5" stroke="#999" stroke-width="0.8" stroke-opacity="0.85"/><line x1="214.1" y1="174.7" x2="214.1" y2="190.5" stroke="#666" stroke-width="0.8" stroke-opacity="0.85"/><line x1="214.6" y1="173.7" x2="214.6" y2="189.5" stroke="#444" stroke-width="0.8" stroke-opacity="0.85"/><line x1="215.2" y1="169.1" x2="215.2" y2="184.9" stroke="#555" stroke-width="0.8" stroke-opacity="0.85"/><line x1="216.0" y1="176.3" x2="216.0" y2="192.1" stroke="#666" stroke-width="0.8" stroke-opacity="0.85"/><line x1="216.9" y1="189.4" x2="216.9" y2="205.2" stroke="#888" stroke-width="0.8" stroke-opacity="0.85"/><line x1="217.6" y1="176.9" x2="217.6" y2="192.7" stroke="#444" stroke-width="0.8" stroke-opacity="0.85"/><line x1="218.3" y1="185.9" x2="218.3" y2="201.7" stroke="#777" stroke-width="0.8" stroke-opacity="0.85"/><line x1="219.1" y1="178.9" x2="219.1" y2="194.7" stroke="#555" stroke-width="0.8" stroke-opacity="0.85"/><line x1="219.6" y1="171.2" x2="219.6" y2="187.0" stroke="#444" stroke-width="0.8" stroke-opacity="0.85"/><line x1="220.4" y1="187.2" x2="220.4" y2="203.0" stroke="#666" stroke-width="0.8" stroke-opacity="0.85"/><line x1="221.1" y1="181.5" x2="221.1" y2="197.3" stroke="#444" stroke-width="0.8" stroke-opacity="0.85"/><line x1="221.9" y1="185.4" x2="221.9" y2="201.2" stroke="#666" stroke-width="0.8" stroke-opacity="0.85"/><line x1="222.6" y1="181.7" x2="222.6" y2="197.5" stroke="#555" stroke-width="0.8" stroke-opacity="0.85"/><line x1="223.2" y1="188.0" x2="223.2" y2="203.8" stroke="#888" stroke-width="0.8" stroke-opacity="0.85"/><line x1="223.8" y1="183.2" x2="223.8" y2="199.0" stroke="#888" stroke-width="0.8" stroke-opacity="0.85"/><line x1="224.5" y1="180.8" x2="224.5" y2="196.6" stroke="#555" stroke-width="0.8" stroke-opacity="0.85"/><line x1="225.3" y1="178.2" x2="225.3" y2="194.0" stroke="#666" stroke-width="0.8" stroke-opacity="0.85"/><line x1="225.9" y1="189.1" x2="225.9" y2="204.9" stroke="#888" stroke-width="0.8" stroke-opacity="0.85"/><line x1="226.7" y1="185.3" x2="226.7" y2="201.1" stroke="#555" stroke-width="0.8" stroke-opacity="0.85"/><line x1="227.1" y1="175.6" x2="227.1" y2="191.4" stroke="#444" stroke-width="0.8" stroke-opacity="0.85"/><line x1="227.7" y1="182.6" x2="227.7" y2="198.4" stroke="#777" stroke-width="0.8" stroke-opacity="0.85"/><line x1="228.5" y1="177.2" x2="228.5" y2="193.0" stroke="#666" stroke-width="0.8" stroke-opacity="0.85"/><line x1="229.1" y1="174.5" x2="229.1" y2="190.3" stroke="#888" stroke-width="0.8" stroke-opacity="0.85"/><line x1="229.5" y1="164.3" x2="229.5" y2="180.1" stroke="#888" stroke-width="0.8" stroke-opacity="0.85"/><line x1="230.1" y1="178.0" x2="230.1" y2="193.8" stroke="#888" stroke-width="0.8" stroke-opacity="0.85"/><line x1="230.6" y1="177.4" x2="230.6" y2="193.2" stroke="#444" stroke-width="0.8" stroke-opacity="0.85"/><line x1="231.5" y1="185.1" x2="231.5" y2="200.9" stroke="#888" stroke-width="0.8" stroke-opacity="0.85"/><line x1="232.3" y1="177.2" x2="232.3" y2="193.0" stroke="#444" stroke-width="0.8" stroke-opacity="0.85"/><line x1="232.9" y1="183.7" x2="232.9" y2="199.5" stroke="#555" stroke-width="0.8" stroke-opacity="0.85"/><line x1="233.5" y1="180.6" x2="233.5" y2="196.4" stroke="#666" stroke-width="0.8" stroke-opacity="0.85"/><line x1="234.3" y1="182.2" x2="234.3" y2="198.0" stroke="#777" stroke-width="0.8" stroke-opacity="0.85"/><line x1="234.9" y1="174.0" x2="234.9" y2="189.8" stroke="#888" stroke-width="0.8" stroke-opacity="0.85"/><line x1="235.7" y1="194.9" x2="235.7" y2="210.7" stroke="#444" stroke-width="0.8" stroke-opacity="0.85"/><line x1="236.4" y1="177.2" x2="236.4" y2="193.0" stroke="#555" stroke-width="0.8" stroke-opacity="0.85"/><line x1="237.1" y1="179.2" x2="237.1" y2="195.0" stroke="#999" stroke-width="0.8" stroke-opacity="0.85"/><line x1="237.8" y1="176.8" x2="237.8" y2="192.6" stroke="#666" stroke-width="0.8" stroke-opacity="0.85"/><line x1="238.7" y1="169.9" x2="238.7" y2="185.7" stroke="#999" stroke-width="0.8" stroke-opacity="0.85"/><line x1="239.2" y1="177.2" x2="239.2" y2="193.0" stroke="#666" stroke-width="0.8" stroke-opacity="0.85"/><line x1="239.6" y1="181.2" x2="239.6" y2="197.0" stroke="#888" stroke-width="0.8" stroke-opacity="0.85"/><line x1="240.5" y1="181.4" x2="240.5" y2="197.2" stroke="#888" stroke-width="0.8" stroke-opacity="0.85"/><line x1="241.2" y1="184.4" x2="241.2" y2="200.2" stroke="#999" stroke-width="0.8" stroke-opacity="0.85"/><line x1="242.0" y1="185.8" x2="242.0" y2="201.6" stroke="#666" stroke-width="0.8" stroke-opacity="0.85"/><line x1="242.8" y1="182.2" x2="242.8" y2="198.0" stroke="#555" stroke-width="0.8" stroke-opacity="0.85"/><line x1="243.5" y1="185.4" x2="243.5" y2="201.2" stroke="#999" stroke-width="0.8" stroke-opacity="0.85"/><line x1="244.0" y1="173.4" x2="244.0" y2="189.2" stroke="#666" stroke-width="0.8" stroke-opacity="0.85"/><line x1="244.5" y1="187.8" x2="244.5" y2="203.6" stroke="#777" stroke-width="0.8" stroke-opacity="0.85"/><line x1="245.0" y1="178.1" x2="245.0" y2="193.9" stroke="#555" stroke-width="0.8" stroke-opacity="0.85"/><line x1="245.8" y1="169.6" x2="245.8" y2="185.4" stroke="#777" stroke-width="0.8" stroke-opacity="0.85"/><line x1="246.6" y1="190.2" x2="246.6" y2="206.0" stroke="#555" stroke-width="0.8" stroke-opacity="0.85"/><line x1="247.4" y1="175.1" x2="247.4" y2="190.9" stroke="#444" stroke-width="0.8" stroke-opacity="0.85"/><line x1="248.3" y1="171.3" x2="248.3" y2="187.1" stroke="#666" stroke-width="0.8" stroke-opacity="0.85"/><line x1="249.1" y1="177.6" x2="249.1" y2="193.4" stroke="#444" stroke-width="0.8" stroke-opacity="0.85"/><line x1="250.0" y1="176.5" x2="250.0" y2="192.3" stroke="#777" stroke-width="0.8" stroke-opacity="0.85"/><line x1="250.8" y1="187.9" x2="250.8" y2="203.7" stroke="#666" stroke-width="0.8" stroke-opacity="0.85"/><line x1="251.3" y1="188.1" x2="251.3" y2="203.9" stroke="#555" stroke-width="0.8" stroke-opacity="0.85"/><line x1="252.0" y1="185.2" x2="252.0" y2="201.0" stroke="#555" stroke-width="0.8" stroke-opacity="0.85"/><line x1="252.8" y1="185.3" x2="252.8" y2="201.1" stroke="#555" stroke-width="0.8" stroke-opacity="0.85"/><line x1="253.5" y1="186.3" x2="253.5" y2="202.1" stroke="#555" stroke-width="0.8" stroke-opacity="0.85"/><line x1="254.0" y1="183.8" x2="254.0" y2="199.6" stroke="#777" stroke-width="0.8" stroke-opacity="0.85"/><line x1="254.6" y1="173.4" x2="254.6" y2="189.2" stroke="#666" stroke-width="0.8" stroke-opacity="0.85"/><line x1="255.1" y1="181.0" x2="255.1" y2="196.8" stroke="#555" stroke-width="0.8" stroke-opacity="0.85"/><line x1="255.7" y1="176.4" x2="255.7" y2="192.2" stroke="#777" stroke-width="0.8" stroke-opacity="0.85"/><line x1="256.1" y1="177.5" x2="256.1" y2="193.3" stroke="#888" stroke-width="0.8" stroke-opacity="0.85"/><line x1="256.6" y1="174.2" x2="256.6" y2="190.0" stroke="#555" stroke-width="0.8" stroke-opacity="0.85"/><line x1="257.2" y1="189.0" x2="257.2" y2="204.8" stroke="#666" stroke-width="0.8" stroke-opacity="0.85"/><line x1="257.7" y1="181.9" x2="257.7" y2="197.7" stroke="#777" stroke-width="0.8" stroke-opacity="0.85"/><line x1="258.6" y1="200.7" x2="258.6" y2="216.5" stroke="#555" stroke-width="0.8" stroke-opacity="0.85"/><line x1="259.4" y1="177.7" x2="259.4" y2="193.5" stroke="#555" stroke-width="0.8" stroke-opacity="0.85"/><line x1="259.9" y1="179.1" x2="259.9" y2="194.9" stroke="#999" stroke-width="0.8" stroke-opacity="0.85"/><line x1="260.8" y1="176.2" x2="260.8" y2="192.0" stroke="#777" stroke-width="0.8" stroke-opacity="0.85"/><line x1="261.6" y1="174.5" x2="261.6" y2="190.3" stroke="#666" stroke-width="0.8" stroke-opacity="0.85"/><line x1="262.2" y1="194.3" x2="262.2" y2="210.1" stroke="#888" stroke-width="0.8" stroke-opacity="0.85"/><line x1="262.8" y1="178.1" x2="262.8" y2="193.9" stroke="#666" stroke-width="0.8" stroke-opacity="0.85"/><line x1="263.4" y1="178.3" x2="263.4" y2="194.1" stroke="#888" stroke-width="0.8" stroke-opacity="0.85"/><line x1="263.9" y1="185.1" x2="263.9" y2="200.9" stroke="#555" stroke-width="0.8" stroke-opacity="0.85"/><line x1="264.5" y1="182.0" x2="264.5" y2="197.8" stroke="#888" stroke-width="0.8" stroke-opacity="0.85"/><line x1="265.0" y1="178.1" x2="265.0" y2="193.9" stroke="#444" stroke-width="0.8" stroke-opacity="0.85"/><line x1="265.8" y1="183.9" x2="265.8" y2="199.7" stroke="#555" stroke-width="0.8" stroke-opacity="0.85"/><line x1="266.3" y1="194.4" x2="266.3" y2="210.2" stroke="#888" stroke-width="0.8" stroke-opacity="0.85"/><line x1="267.1" y1="185.7" x2="267.1" y2="201.5" stroke="#666" stroke-width="0.8" stroke-opacity="0.85"/><line x1="267.6" y1="185.9" x2="267.6" y2="201.7" stroke="#444" stroke-width="0.8" stroke-opacity="0.85"/><line x1="268.3" y1="196.0" x2="268.3" y2="211.8" stroke="#444" stroke-width="0.8" stroke-opacity="0.85"/><line x1="269.0" y1="184.2" x2="269.0" y2="200.0" stroke="#666" stroke-width="0.8" stroke-opacity="0.85"/><line x1="269.5" y1="174.7" x2="269.5" y2="190.5" stroke="#777" stroke-width="0.8" stroke-opacity="0.85"/><line x1="270.0" y1="194.4" x2="270.0" y2="210.2" stroke="#777" stroke-width="0.8" stroke-opacity="0.85"/><line x1="270.8" y1="196.8" x2="270.8" y2="212.6" stroke="#666" stroke-width="0.8" stroke-opacity="0.85"/><line x1="271.4" y1="180.4" x2="271.4" y2="196.2" stroke="#888" stroke-width="0.8" stroke-opacity="0.85"/><line x1="272.2" y1="185.4" x2="272.2" y2="201.2" stroke="#666" stroke-width="0.8" stroke-opacity="0.85"/><line x1="272.9" y1="179.4" x2="272.9" y2="195.2" stroke="#444" stroke-width="0.8" stroke-opacity="0.85"/><line x1="273.4" y1="165.5" x2="273.4" y2="181.3" stroke="#444" stroke-width="0.8" stroke-opacity="0.85"/><line x1="273.9" y1="190.2" x2="273.9" y2="206.0" stroke="#999" stroke-width="0.8" stroke-opacity="0.85"/><line x1="274.4" y1="174.9" x2="274.4" y2="190.7" stroke="#999" stroke-width="0.8" stroke-opacity="0.85"/><line x1="275.3" y1="196.3" x2="275.3" y2="212.1" stroke="#888" stroke-width="0.8" stroke-opacity="0.85"/><line x1="276.0" y1="169.1" x2="276.0" y2="184.9" stroke="#999" stroke-width="0.8" stroke-opacity="0.85"/><line x1="276.7" y1="177.1" x2="276.7" y2="192.9" stroke="#888" stroke-width="0.8" stroke-opacity="0.85"/><line x1="277.1" y1="181.2" x2="277.1" y2="197.0" stroke="#555" stroke-width="0.8" stroke-opacity="0.85"/><line x1="278.0" y1="186.1" x2="278.0" y2="201.9" stroke="#555" stroke-width="0.8" stroke-opacity="0.85"/><line x1="278.7" y1="179.5" x2="278.7" y2="195.3" stroke="#888" stroke-width="0.8" stroke-opacity="0.85"/><line x1="279.5" y1="177.2" x2="279.5" y2="193.0" stroke="#444" stroke-width="0.8" stroke-opacity="0.85"/><line x1="279.9" y1="172.1" x2="279.9" y2="187.9" stroke="#666" stroke-width="0.8" stroke-opacity="0.85"/><line x1="280.3" y1="187.7" x2="280.3" y2="203.5" stroke="#888" stroke-width="0.8" stroke-opacity="0.85"/><line x1="281.0" y1="187.6" x2="281.0" y2="203.4" stroke="#777" stroke-width="0.8" stroke-opacity="0.85"/><line x1="281.5" y1="181.3" x2="281.5" y2="197.1" stroke="#444" stroke-width="0.8" stroke-opacity="0.85"/></g>
<line x1="31.3" y1="181.2" x2="43.2" y2="181.2" stroke="#3a3a3a" stroke-width="0.8" stroke-opacity="1"/>
<line x1="37.2" y1="174.7" x2="37.2" y2="187.7" stroke="#3a3a3a" stroke-width="0.8" stroke-opacity="1"/>
<line x1="43.2" y1="187.2" x2="54.4" y2="187.2" stroke="#3a3a3a" stroke-width="0.8" stroke-opacity="1"/>
<line x1="48.8" y1="180.7" x2="48.8" y2="193.7" stroke="#3a3a3a" stroke-width="0.8" stroke-opacity="1"/>
<line x1="54.4" y1="195.0" x2="62.1" y2="195.0" stroke="#3a3a3a" stroke-width="0.8" stroke-opacity="1"/>
<line x1="58.2" y1="188.5" x2="58.2" y2="201.5" stroke="#3a3a3a" stroke-width="0.8" stroke-opacity="1"/>
<line x1="62.1" y1="187.2" x2="68.4" y2="187.2" stroke="#3a3a3a" stroke-width="0.8" stroke-opacity="1"/>
<line x1="65.2" y1="180.7" x2="65.2" y2="193.7" stroke="#3a3a3a" stroke-width="0.8" stroke-opacity="1"/>
<line x1="68.4" y1="190.0" x2="73.8" y2="190.0" stroke="#3a3a3a" stroke-width="0.8" stroke-opacity="1"/>
<line x1="71.1" y1="183.5" x2="71.1" y2="196.5" stroke="#3a3a3a" stroke-width="0.8" stroke-opacity="1"/>
<line x1="73.8" y1="190.8" x2="78.4" y2="190.8" stroke="#3a3a3a" stroke-width="0.8" stroke-opacity="1"/>
<line x1="76.1" y1="184.3" x2="76.1" y2="197.3" stroke="#3a3a3a" stroke-width="0.8" stroke-opacity="1"/>
<line x1="78.4" y1="183.4" x2="82.3" y2="183.4" stroke="#3a3a3a" stroke-width="0.8" stroke-opacity="1"/>
<line x1="80.3" y1="176.9" x2="80.3" y2="189.9" stroke="#3a3a3a" stroke-width="0.8" stroke-opacity="1"/>
<line x1="82.3" y1="188.3" x2="85.9" y2="188.3" stroke="#3a3a3a" stroke-width="0.8" stroke-opacity="1"/>
<line x1="84.1" y1="181.8" x2="84.1" y2="194.8" stroke="#3a3a3a" stroke-width="0.8" stroke-opacity="1"/>
<line x1="85.9" y1="202.0" x2="89.0" y2="202.0" stroke="#3a3a3a" stroke-width="0.8" stroke-opacity="1"/>
<line x1="87.5" y1="195.5" x2="87.5" y2="208.5" stroke="#3a3a3a" stroke-width="0.8" stroke-opacity="1"/>
<line x1="89.0" y1="193.3" x2="91.9" y2="193.3" stroke="#3a3a3a" stroke-width="0.8" stroke-opacity="1"/>
<line x1="90.5" y1="186.8" x2="90.5" y2="199.8" stroke="#3a3a3a" stroke-width="0.8" stroke-opacity="1"/>
<line x1="91.9" y1="187.5" x2="94.5" y2="187.5" stroke="#3a3a3a" stroke-width="0.8" stroke-opacity="1"/>
<line x1="93.2" y1="181.0" x2="93.2" y2="194.0" stroke="#3a3a3a" stroke-width="0.8" stroke-opacity="1"/>
<line x1="94.5" y1="188.0" x2="96.9" y2="188.0" stroke="#3a3a3a" stroke-width="0.8" stroke-opacity="1"/>
<line x1="95.7" y1="181.5" x2="95.7" y2="194.5" stroke="#3a3a3a" stroke-width="0.8" stroke-opacity="1"/>
<line x1="96.9" y1="179.3" x2="99.1" y2="179.3" stroke="#3a3a3a" stroke-width="0.8" stroke-opacity="1"/>
<line x1="98.0" y1="172.8" x2="98.0" y2="185.8" stroke="#3a3a3a" stroke-width="0.8" stroke-opacity="1"/>
<line x1="99.1" y1="195.1" x2="101.1" y2="195.1" stroke="#3a3a3a" stroke-width="0.8" stroke-opacity="1"/>
<line x1="100.1" y1="188.6" x2="100.1" y2="201.6" stroke="#3a3a3a" stroke-width="0.8" stroke-opacity="1"/>
<line x1="101.1" y1="184.1" x2="103.0" y2="184.1" stroke="#3a3a3a" stroke-width="0.8" stroke-opacity="1"/>
<line x1="102.0" y1="177.6" x2="102.0" y2="190.6" stroke="#3a3a3a" stroke-width="0.8" stroke-opacity="1"/>
<line x1="103.0" y1="192.0" x2="104.8" y2="192.0" stroke="#3a3a3a" stroke-width="0.8" stroke-opacity="1"/>
<line x1="103.9" y1="185.5" x2="103.9" y2="198.5" stroke="#3a3a3a" stroke-width="0.8" stroke-opacity="1"/>
<line x1="104.8" y1="199.9" x2="106.5" y2="199.9" stroke="#3a3a3a" stroke-width="0.8" stroke-opacity="1"/>
<line x1="105.7" y1="193.4" x2="105.7" y2="206.4" stroke="#3a3a3a" stroke-width="0.8" stroke-opacity="1"/>
<line x1="106.5" y1="186.5" x2="108.1" y2="186.5" stroke="#3a3a3a" stroke-width="0.8" stroke-opacity="1"/>
<line x1="107.3" y1="180.0" x2="107.3" y2="193.0" stroke="#3a3a3a" stroke-width="0.8" stroke-opacity="1"/>
<line x1="108.1" y1="189.6" x2="109.6" y2="189.6" stroke="#3a3a3a" stroke-width="0.8" stroke-opacity="1"/>
<line x1="108.8" y1="183.1" x2="108.8" y2="196.1" stroke="#3a3a3a" stroke-width="0.8" stroke-opacity="1"/>
<line x1="109.6" y1="197.5" x2="111.0" y2="197.5" stroke="#3a3a3a" stroke-width="0.8" stroke-opacity="1"/>
<line x1="110.3" y1="191.0" x2="110.3" y2="204.0" stroke="#3a3a3a" stroke-width="0.8" stroke-opacity="1"/>
<line x1="111.0" y1="185.7" x2="112.3" y2="185.7" stroke="#3a3a3a" stroke-width="0.8" stroke-opacity="1"/>
<line x1="111.7" y1="179.2" x2="111.7" y2="192.2" stroke="#3a3a3a" stroke-width="0.8" stroke-opacity="1"/>
<line x1="112.3" y1="192.8" x2="113.6" y2="192.8" stroke="#3a3a3a" stroke-width="0.8" stroke-opacity="1"/>
<line x1="112.9" y1="186.3" x2="112.9" y2="199.3" stroke="#3a3a3a" stroke-width="0.8" stroke-opacity="1"/>
<line x1="113.6" y1="182.5" x2="114.8" y2="182.5" stroke="#3a3a3a" stroke-width="0.8" stroke-opacity="1"/>
<line x1="114.2" y1="176.0" x2="114.2" y2="189.0" stroke="#3a3a3a" stroke-width="0.8" stroke-opacity="1"/>
<line x1="114.8" y1="194.3" x2="116.0" y2="194.3" stroke="#3a3a3a" stroke-width="0.8" stroke-opacity="1"/>
<line x1="115.4" y1="187.8" x2="115.4" y2="200.8" stroke="#3a3a3a" stroke-width="0.8" stroke-opacity="1"/>
<line x1="116.0" y1="188.8" x2="117.1" y2="188.8" stroke="#3a3a3a" stroke-width="0.8" stroke-opacity="1"/>
<line x1="116.5" y1="182.3" x2="116.5" y2="195.3" stroke="#3a3a3a" stroke-width="0.8" stroke-opacity="1"/>
<rect x="30.50" y="12.80" width="252.00" height="197.10" fill="none" stroke="#333" stroke-width="1"/>
<line x1="30.50" y1="170.50" x2="282.50" y2="170.50" stroke="#333" stroke-width="1" />
<line x1="30.50" y1="190.40" x2="282.50" y2="190.40" stroke="#333" stroke-width="0.9" />
<line x1="32.65" y1="12.80" x2="32.65" y2="14.50" stroke="#333" stroke-width="0.8" />
<line x1="32.65" y1="209.90" x2="32.65" y2="208.20" stroke="#333" stroke-width="0.8" />
<line x1="32.65" y1="168.80" x2="32.65" y2="172.20" stroke="#333" stroke-width="0.8" />
<line x1="36.90" y1="12.80" x2="36.90" y2="14.50" stroke="#333" stroke-width="0.8" />
<line x1="36.90" y1="209.90" x2="36.90" y2="208.20" stroke="#333" stroke-width="0.8" />
<line x1="36.90" y1="168.80" x2="36.90" y2="172.20" stroke="#333" stroke-width="0.8" />
<line x1="40.65" y1="12.80" x2="40.65" y2="14.50" stroke="#333" stroke-width="0.8" />
<line x1="40.65" y1="209.90" x2="40.65" y2="208.20" stroke="#333" stroke-width="0.8" />
<line x1="40.65" y1="168.80" x2="40.65" y2="172.20" stroke="#333" stroke-width="0.8" />
<line x1="44.00" y1="12.80" x2="44.00" y2="16.00" stroke="#333" stroke-width="0.8" />
<line x1="44.00" y1="209.90" x2="44.00" y2="206.70" stroke="#333" stroke-width="0.8" />
<line x1="44.00" y1="167.30" x2="44.00" y2="173.70" stroke="#333" stroke-width="0.8" />
<line x1="66.07" y1="12.80" x2="66.07" y2="14.50" stroke="#333" stroke-width="0.8" />
<line x1="66.07" y1="209.90" x2="66.07" y2="208.20" stroke="#333" stroke-width="0.8" />
<line x1="66.07" y1="168.80" x2="66.07" y2="172.20" stroke="#333" stroke-width="0.8" />
<line x1="78.97" y1="12.80" x2="78.97" y2="14.50" stroke="#333" stroke-width="0.8" />
<line x1="78.97" y1="209.90" x2="78.97" y2="208.20" stroke="#333" stroke-width="0.8" />
<line x1="78.97" y1="168.80" x2="78.97" y2="172.20" stroke="#333" stroke-width="0.8" />
<line x1="88.13" y1="12.80" x2="88.13" y2="14.50" stroke="#333" stroke-width="0.8" />
<line x1="88.13" y1="209.90" x2="88.13" y2="208.20" stroke="#333" stroke-width="0.8" />
<line x1="88.13" y1="168.80" x2="88.13" y2="172.20" stroke="#333" stroke-width="0.8" />
<line x1="95.23" y1="12.80" x2="95.23" y2="14.50" stroke="#333" stroke-width="0.8" />
<line x1="95.23" y1="209.90" x2="95.23" y2="208.20" stroke="#333" stroke-width="0.8" />
<line x1="95.23" y1="168.80" x2="95.23" y2="172.20" stroke="#333" stroke-width="0.8" />
<line x1="101.04" y1="12.80" x2="101.04" y2="14.50" stroke="#333" stroke-width="0.8" />
<line x1="101.04" y1="209.90" x2="101.04" y2="208.20" stroke="#333" stroke-width="0.8" />
<line x1="101.04" y1="168.80" x2="101.04" y2="172.20" stroke="#333" stroke-width="0.8" />
<line x1="105.95" y1="12.80" x2="105.95" y2="14.50" stroke="#333" stroke-width="0.8" />
<line x1="105.95" y1="209.90" x2="105.95" y2="208.20" stroke="#333" stroke-width="0.8" />
<line x1="105.95" y1="168.80" x2="105.95" y2="172.20" stroke="#333" stroke-width="0.8" />
<line x1="110.20" y1="12.80" x2="110.20" y2="14.50" stroke="#333" stroke-width="0.8" />
<line x1="110.20" y1="209.90" x2="110.20" y2="208.20" stroke="#333" stroke-width="0.8" />
<line x1="110.20" y1="168.80" x2="110.20" y2="172.20" stroke="#333" stroke-width="0.8" />
<line x1="113.95" y1="12.80" x2="113.95" y2="14.50" stroke="#333" stroke-width="0.8" />
<line x1="113.95" y1="209.90" x2="113.95" y2="208.20" stroke="#333" stroke-width="0.8" />
<line x1="113.95" y1="168.80" x2="113.95" y2="172.20" stroke="#333" stroke-width="0.8" />
<line x1="117.30" y1="12.80" x2="117.30" y2="16.00" stroke="#333" stroke-width="0.8" />
<line x1="117.30" y1="209.90" x2="117.30" y2="206.70" stroke="#333" stroke-width="0.8" />
<line x1="117.30" y1="167.30" x2="117.30" y2="173.70" stroke="#333" stroke-width="0.8" />
<line x1="139.37" y1="12.80" x2="139.37" y2="14.50" stroke="#333" stroke-width="0.8" />
<line x1="139.37" y1="209.90" x2="139.37" y2="208.20" stroke="#333" stroke-width="0.8" />
<line x1="139.37" y1="168.80" x2="139.37" y2="172.20" stroke="#333" stroke-width="0.8" />
<line x1="152.27" y1="12.80" x2="152.27" y2="14.50" stroke="#333" stroke-width="0.8" />
<line x1="152.27" y1="209.90" x2="152.27" y2="208.20" stroke="#333" stroke-width="0.8" />
<line x1="152.27" y1="168.80" x2="152.27" y2="172.20" stroke="#333" stroke-width="0.8" />
<line x1="161.43" y1="12.80" x2="161.43" y2="14.50" stroke="#333" stroke-width="0.8" />
<line x1="161.43" y1="209.90" x2="161.43" y2="208.20" stroke="#333" stroke-width="0.8" />
<line x1="161.43" y1="168.80" x2="161.43" y2="172.20" stroke="#333" stroke-width="0.8" />
<line x1="168.53" y1="12.80" x2="168.53" y2="14.50" stroke="#333" stroke-width="0.8" />
<line x1="168.53" y1="209.90" x2="168.53" y2="208.20" stroke="#333" stroke-width="0.8" />
<line x1="168.53" y1="168.80" x2="168.53" y2="172.20" stroke="#333" stroke-width="0.8" />
<line x1="174.34" y1="12.80" x2="174.34" y2="14.50" stroke="#333" stroke-width="0.8" />
<line x1="174.34" y1="209.90" x2="174.34" y2="208.20" stroke="#333" stroke-width="0.8" />
<line x1="174.34" y1="168.80" x2="174.34" y2="172.20" stroke="#333" stroke-width="0.8" />
<line x1="179.25" y1="12.80" x2="179.25" y2="14.50" stroke="#333" stroke-width="0.8" />
<line x1="179.25" y1="209.90" x2="179.25" y2="208.20" stroke="#333" stroke-width="0.8" />
<line x1="179.25" y1="168.80" x2="179.25" y2="172.20" stroke="#333" stroke-width="0.8" />
<line x1="183.50" y1="12.80" x2="183.50" y2="14.50" stroke="#333" stroke-width="0.8" />
<line x1="183.50" y1="209.90" x2="183.50" y2="208.20" stroke="#333" stroke-width="0.8" />
<line x1="183.50" y1="168.80" x2="183.50" y2="172.20" stroke="#333" stroke-width="0.8" />
<line x1="187.25" y1="12.80" x2="187.25" y2="14.50" stroke="#333" stroke-width="0.8" />
<line x1="187.25" y1="209.90" x2="187.25" y2="208.20" stroke="#333" stroke-width="0.8" />
<line x1="187.25" y1="168.80" x2="187.25" y2="172.20" stroke="#333" stroke-width="0.8" />
<line x1="190.60" y1="12.80" x2="190.60" y2="16.00" stroke="#333" stroke-width="0.8" />
<line x1="190.60" y1="209.90" x2="190.60" y2="206.70" stroke="#333" stroke-width="0.8" />
<line x1="190.60" y1="167.30" x2="190.60" y2="173.70" stroke="#333" stroke-width="0.8" />
<line x1="212.67" y1="12.80" x2="212.67" y2="14.50" stroke="#333" stroke-width="0.8" />
<line x1="212.67" y1="209.90" x2="212.67" y2="208.20" stroke="#333" stroke-width="0.8" />
<line x1="212.67" y1="168.80" x2="212.67" y2="172.20" stroke="#333" stroke-width="0.8" />
<line x1="225.57" y1="12.80" x2="225.57" y2="14.50" stroke="#333" stroke-width="0.8" />
<line x1="225.57" y1="209.90" x2="225.57" y2="208.20" stroke="#333" stroke-width="0.8" />
<line x1="225.57" y1="168.80" x2="225.57" y2="172.20" stroke="#333" stroke-width="0.8" />
<line x1="234.73" y1="12.80" x2="234.73" y2="14.50" stroke="#333" stroke-width="0.8" />
<line x1="234.73" y1="209.90" x2="234.73" y2="208.20" stroke="#333" stroke-width="0.8" />
<line x1="234.73" y1="168.80" x2="234.73" y2="172.20" stroke="#333" stroke-width="0.8" />
<line x1="241.83" y1="12.80" x2="241.83" y2="14.50" stroke="#333" stroke-width="0.8" />
<line x1="241.83" y1="209.90" x2="241.83" y2="208.20" stroke="#333" stroke-width="0.8" />
<line x1="241.83" y1="168.80" x2="241.83" y2="172.20" stroke="#333" stroke-width="0.8" />
<line x1="247.64" y1="12.80" x2="247.64" y2="14.50" stroke="#333" stroke-width="0.8" />
<line x1="247.64" y1="209.90" x2="247.64" y2="208.20" stroke="#333" stroke-width="0.8" />
<line x1="247.64" y1="168.80" x2="247.64" y2="172.20" stroke="#333" stroke-width="0.8" />
<line x1="252.55" y1="12.80" x2="252.55" y2="14.50" stroke="#333" stroke-width="0.8" />
<line x1="252.55" y1="209.90" x2="252.55" y2="208.20" stroke="#333" stroke-width="0.8" />
<line x1="252.55" y1="168.80" x2="252.55" y2="172.20" stroke="#333" stroke-width="0.8" />
<line x1="256.80" y1="12.80" x2="256.80" y2="14.50" stroke="#333" stroke-width="0.8" />
<line x1="256.80" y1="209.90" x2="256.80" y2="208.20" stroke="#333" stroke-width="0.8" />
<line x1="256.80" y1="168.80" x2="256.80" y2="172.20" stroke="#333" stroke-width="0.8" />
<line x1="260.55" y1="12.80" x2="260.55" y2="14.50" stroke="#333" stroke-width="0.8" />
<line x1="260.55" y1="209.90" x2="260.55" y2="208.20" stroke="#333" stroke-width="0.8" />
<line x1="260.55" y1="168.80" x2="260.55" y2="172.20" stroke="#333" stroke-width="0.8" />
<line x1="263.90" y1="12.80" x2="263.90" y2="16.00" stroke="#333" stroke-width="0.8" />
<line x1="263.90" y1="209.90" x2="263.90" y2="206.70" stroke="#333" stroke-width="0.8" />
<line x1="263.90" y1="167.30" x2="263.90" y2="173.70" stroke="#333" stroke-width="0.8" />
<line x1="30.50" y1="162.97" x2="32.20" y2="162.97" stroke="#333" stroke-width="0.8" />
<line x1="282.50" y1="162.97" x2="280.80" y2="162.97" stroke="#333" stroke-width="0.8" />
<line x1="30.50" y1="157.69" x2="32.20" y2="157.69" stroke="#333" stroke-width="0.8" />
<line x1="282.50" y1="157.69" x2="280.80" y2="157.69" stroke="#333" stroke-width="0.8" />
<line x1="30.50" y1="153.94" x2="32.20" y2="153.94" stroke="#333" stroke-width="0.8" />
<line x1="282.50" y1="153.94" x2="280.80" y2="153.94" stroke="#333" stroke-width="0.8" />
<line x1="30.50" y1="151.03" x2="32.20" y2="151.03" stroke="#333" stroke-width="0.8" />
<line x1="282.50" y1="151.03" x2="280.80" y2="151.03" stroke="#333" stroke-width="0.8" />
<line x1="30.50" y1="148.66" x2="32.20" y2="148.66" stroke="#333" stroke-width="0.8" />
<line x1="282.50" y1="148.66" x2="280.80" y2="148.66" stroke="#333" stroke-width="0.8" />
<line x1="30.50" y1="146.65" x2="32.20" y2="146.65" stroke="#333" stroke-width="0.8" />
<line x1="282.50" y1="146.65" x2="280.80" y2="146.65" stroke="#333" stroke-width="0.8" />
<line x1="30.50" y1="144.91" x2="32.20" y2="144.91" stroke="#333" stroke-width="0.8" />
<line x1="282.50" y1="144.91" x2="280.80" y2="144.91" stroke="#333" stroke-width="0.8" />
<line x1="30.50" y1="143.37" x2="32.20" y2="143.37" stroke="#333" stroke-width="0.8" />
<line x1="282.50" y1="143.37" x2="280.80" y2="143.37" stroke="#333" stroke-width="0.8" />
<line x1="30.50" y1="142.00" x2="33.70" y2="142.00" stroke="#333" stroke-width="0.8" />
<line x1="282.50" y1="142.00" x2="279.30" y2="142.00" stroke="#333" stroke-width="0.8" />
<line x1="30.50" y1="132.97" x2="32.20" y2="132.97" stroke="#333" stroke-width="0.8" />
<line x1="282.50" y1="132.97" x2="280.80" y2="132.97" stroke="#333" stroke-width="0.8" />
<line x1="30.50" y1="127.69" x2="32.20" y2="127.69" stroke="#333" stroke-width="0.8" />
<line x1="282.50" y1="127.69" x2="280.80" y2="127.69" stroke="#333" stroke-width="0.8" />
<line x1="30.50" y1="123.94" x2="32.20" y2="123.94" stroke="#333" stroke-width="0.8" />
<line x1="282.50" y1="123.94" x2="280.80" y2="123.94" stroke="#333" stroke-width="0.8" />
<line x1="30.50" y1="121.03" x2="32.20" y2="121.03" stroke="#333" stroke-width="0.8" />
<line x1="282.50" y1="121.03" x2="280.80" y2="121.03" stroke="#333" stroke-width="0.8" />
<line x1="30.50" y1="118.66" x2="32.20" y2="118.66" stroke="#333" stroke-width="0.8" />
<line x1="282.50" y1="118.66" x2="280.80" y2="118.66" stroke="#333" stroke-width="0.8" />
<line x1="30.50" y1="116.65" x2="32.20" y2="116.65" stroke="#333" stroke-width="0.8" />
<line x1="282.50" y1="116.65" x2="280.80" y2="116.65" stroke="#333" stroke-width="0.8" />
<line x1="30.50" y1="114.91" x2="32.20" y2="114.91" stroke="#333" stroke-width="0.8" />
<line x1="282.50" y1="114.91" x2="280.80" y2="114.91" stroke="#333" stroke-width="0.8" />
<line x1="30.50" y1="113.37" x2="32.20" y2="113.37" stroke="#333" stroke-width="0.8" />
<line x1="282.50" y1="113.37" x2="280.80" y2="113.37" stroke="#333" stroke-width="0.8" />
<line x1="30.50" y1="112.00" x2="33.70" y2="112.00" stroke="#333" stroke-width="0.8" />
<line x1="282.50" y1="112.00" x2="279.30" y2="112.00" stroke="#333" stroke-width="0.8" />
<line x1="30.50" y1="102.97" x2="32.20" y2="102.97" stroke="#333" stroke-width="0.8" />
<line x1="282.50" y1="102.97" x2="280.80" y2="102.97" stroke="#333" stroke-width="0.8" />
<line x1="30.50" y1="97.69" x2="32.20" y2="97.69" stroke="#333" stroke-width="0.8" />
<line x1="282.50" y1="97.69" x2="280.80" y2="97.69" stroke="#333" stroke-width="0.8" />
<line x1="30.50" y1="93.94" x2="32.20" y2="93.94" stroke="#333" stroke-width="0.8" />
<line x1="282.50" y1="93.94" x2="280.80" y2="93.94" stroke="#333" stroke-width="0.8" />
<line x1="30.50" y1="91.03" x2="32.20" y2="91.03" stroke="#333" stroke-width="0.8" />
<line x1="282.50" y1="91.03" x2="280.80" y2="91.03" stroke="#333" stroke-width="0.8" />
<line x1="30.50" y1="88.66" x2="32.20" y2="88.66" stroke="#333" stroke-width="0.8" />
<line x1="282.50" y1="88.66" x2="280.80" y2="88.66" stroke="#333" stroke-width="0.8" />
<line x1="30.50" y1="86.65" x2="32.20" y2="86.65" stroke="#333" stroke-width="0.8" />
<line x1="282.50" y1="86.65" x2="280.80" y2="86.65" stroke="#333" stroke-width="0.8" />
<line x1="30.50" y1="84.91" x2="32.20" y2="84.91" stroke="#333" stroke-width="0.8" />
<line x1="282.50" y1="84.91" x2="280.80" y2="84.91" stroke="#333" stroke-width="0.8" />
<line x1="30.50" y1="83.37" x2="32.20" y2="83.37" stroke="#333" stroke-width="0.8" />
<line x1="282.50" y1="83.37" x2="280.80" y2="83.37" stroke="#333" stroke-width="0.8" />
<line x1="30.50" y1="82.00" x2="33.70" y2="82.00" stroke="#333" stroke-width="0.8" />
<line x1="282.50" y1="82.00" x2="279.30" y2="82.00" stroke="#333" stroke-width="0.8" />
<line x1="30.50" y1="72.97" x2="32.20" y2="72.97" stroke="#333" stroke-width="0.8" />
<line x1="282.50" y1="72.97" x2="280.80" y2="72.97" stroke="#333" stroke-width="0.8" />
<line x1="30.50" y1="67.69" x2="32.20" y2="67.69" stroke="#333" stroke-width="0.8" />
<line x1="282.50" y1="67.69" x2="280.80" y2="67.69" stroke="#333" stroke-width="0.8" />
<line x1="30.50" y1="63.94" x2="32.20" y2="63.94" stroke="#333" stroke-width="0.8" />
<line x1="282.50" y1="63.94" x2="280.80" y2="63.94" stroke="#333" stroke-width="0.8" />
<line x1="30.50" y1="61.03" x2="32.20" y2="61.03" stroke="#333" stroke-width="0.8" />
<line x1="282.50" y1="61.03" x2="280.80" y2="61.03" stroke="#333" stroke-width="0.8" />
<line x1="30.50" y1="58.66" x2="32.20" y2="58.66" stroke="#333" stroke-width="0.8" />
<line x1="282.50" y1="58.66" x2="280.80" y2="58.66" stroke="#333" stroke-width="0.8" />
<line x1="30.50" y1="56.65" x2="32.20" y2="56.65" stroke="#333" stroke-width="0.8" />
<line x1="282.50" y1="56.65" x2="280.80" y2="56.65" stroke="#333" stroke-width="0.8" />
<line x1="30.50" y1="54.91" x2="32.20" y2="54.91" stroke="#333" stroke-width="0.8" />
<line x1="282.50" y1="54.91" x2="280.80" y2="54.91" stroke="#333" stroke-width="0.8" />
<line x1="30.50" y1="53.37" x2="32.20" y2="53.37" stroke="#333" stroke-width="0.8" />
<line x1="282.50" y1="53.37" x2="280.80" y2="53.37" stroke="#333" stroke-width="0.8" />
<line x1="30.50" y1="52.00" x2="33.70" y2="52.00" stroke="#333" stroke-width="0.8" />
<line x1="282.50" y1="52.00" x2="279.30" y2="52.00" stroke="#333" stroke-width="0.8" />
<line x1="30.50" y1="42.97" x2="32.20" y2="42.97" stroke="#333" stroke-width="0.8" />
<line x1="282.50" y1="42.97" x2="280.80" y2="42.97" stroke="#333" stroke-width="0.8" />
<line x1="30.50" y1="37.69" x2="32.20" y2="37.69" stroke="#333" stroke-width="0.8" />
<line x1="282.50" y1="37.69" x2="280.80" y2="37.69" stroke="#333" stroke-width="0.8" />
<line x1="30.50" y1="33.94" x2="32.20" y2="33.94" stroke="#333" stroke-width="0.8" />
<line x1="282.50" y1="33.94" x2="280.80" y2="33.94" stroke="#333" stroke-width="0.8" />
<line x1="30.50" y1="31.03" x2="32.20" y2="31.03" stroke="#333" stroke-width="0.8" />
<line x1="282.50" y1="31.03" x2="280.80" y2="31.03" stroke="#333" stroke-width="0.8" />
<line x1="30.50" y1="28.66" x2="32.20" y2="28.66" stroke="#333" stroke-width="0.8" />
<line x1="282.50" y1="28.66" x2="280.80" y2="28.66" stroke="#333" stroke-width="0.8" />
<line x1="30.50" y1="26.65" x2="32.20" y2="26.65" stroke="#333" stroke-width="0.8" />
<line x1="282.50" y1="26.65" x2="280.80" y2="26.65" stroke="#333" stroke-width="0.8" />
<line x1="30.50" y1="24.91" x2="32.20" y2="24.91" stroke="#333" stroke-width="0.8" />
<line x1="282.50" y1="24.91" x2="280.80" y2="24.91" stroke="#333" stroke-width="0.8" />
<line x1="30.50" y1="23.37" x2="32.20" y2="23.37" stroke="#333" stroke-width="0.8" />
<line x1="282.50" y1="23.37" x2="280.80" y2="23.37" stroke="#333" stroke-width="0.8" />
<line x1="30.50" y1="22.00" x2="33.70" y2="22.00" stroke="#333" stroke-width="0.8" />
<line x1="282.50" y1="22.00" x2="279.30" y2="22.00" stroke="#333" stroke-width="0.8" />
<line x1="30.50" y1="12.97" x2="32.20" y2="12.97" stroke="#333" stroke-width="0.8" />
<line x1="282.50" y1="12.97" x2="280.80" y2="12.97" stroke="#333" stroke-width="0.8" />
<line x1="30.50" y1="206.20" x2="33.70" y2="206.20" stroke="#333" stroke-width="0.8" />
<line x1="282.50" y1="206.20" x2="279.30" y2="206.20" stroke="#333" stroke-width="0.8" />
<line x1="30.50" y1="198.30" x2="32.20" y2="198.30" stroke="#333" stroke-width="0.8" />
<line x1="282.50" y1="198.30" x2="280.80" y2="198.30" stroke="#333" stroke-width="0.8" />
<line x1="30.50" y1="190.40" x2="33.70" y2="190.40" stroke="#333" stroke-width="0.8" />
<line x1="282.50" y1="190.40" x2="279.30" y2="190.40" stroke="#333" stroke-width="0.8" />
<line x1="30.50" y1="182.50" x2="32.20" y2="182.50" stroke="#333" stroke-width="0.8" />
<line x1="282.50" y1="182.50" x2="280.80" y2="182.50" stroke="#333" stroke-width="0.8" />
<line x1="30.50" y1="174.60" x2="33.70" y2="174.60" stroke="#333" stroke-width="0.8" />
<line x1="282.50" y1="174.60" x2="279.30" y2="174.60" stroke="#333" stroke-width="0.8" />
<text x="44.00" y="216.30" font-size="8.25" text-anchor="middle" fill="#111">0.01</text>
<text x="117.30" y="216.30" font-size="8.25" text-anchor="middle" fill="#111">0.1</text>
<text x="190.60" y="216.30" font-size="8.25" text-anchor="middle" fill="#111">1</text>
<text x="263.90" y="216.30" font-size="8.25" text-anchor="middle" fill="#111">10</text>
<text x="156.60" y="226.20" font-size="8.1" text-anchor="middle" fill="#111">Frequency (Hz)</text>
<text x="0" y="0" font-size="8.25" text-anchor="middle" fill="#111" transform="translate(22.50,22.00) rotate(-90)">0.1</text>
<text x="0" y="0" font-size="8.25" text-anchor="middle" fill="#111" transform="translate(22.50,52.00) rotate(-90)">0.01</text>
<text font-size="8.25" text-anchor="middle" fill="#111" style="dominant-baseline:auto" transform="translate(25.5,81.30) rotate(-90)">10<tspan font-size="5.2" dy="-2.6">&#8722;3</tspan></text>
<text font-size="8.25" text-anchor="middle" fill="#111" style="dominant-baseline:auto" transform="translate(25.5,111.30) rotate(-90)">10<tspan font-size="5.2" dy="-2.6">&#8722;4</tspan></text>
<text font-size="8.25" text-anchor="middle" fill="#111" style="dominant-baseline:auto" transform="translate(25.5,141.30) rotate(-90)">10<tspan font-size="5.2" dy="-2.6">&#8722;5</tspan></text>
<text x="0" y="0" font-size="8.25" text-anchor="middle" fill="#111" transform="translate(22.50,174.60) rotate(-90)">2</text>
<text x="0" y="0" font-size="8.25" text-anchor="middle" fill="#111" transform="translate(22.50,190.40) rotate(-90)">0</text>
<text x="0" y="0" font-size="8.25" text-anchor="middle" fill="#111" transform="translate(22.50,206.20) rotate(-90)">&#8722;2</text>
<text font-size="8.25" text-anchor="middle" fill="#111" style="dominant-baseline:auto" transform="translate(10.2,92.9) rotate(-90)">Power x frequency (rms/mean)<tspan font-size="5.4" dy="-3">2</tspan></text>
<text x="0" y="0" font-size="9.5" text-anchor="middle" fill="#111" style="font-family:Liberation Serif,serif;font-style:italic;stroke-width:0.15px" transform="translate(8.6,190.6) rotate(-90)">&#967;</text>
<text x="201.30" y="24.40" font-size="8.25" text-anchor="middle" fill="#111">Variable state/&#961;&#8722;like class (31 Mar. 11)</text>
</svg>
</body></html>
